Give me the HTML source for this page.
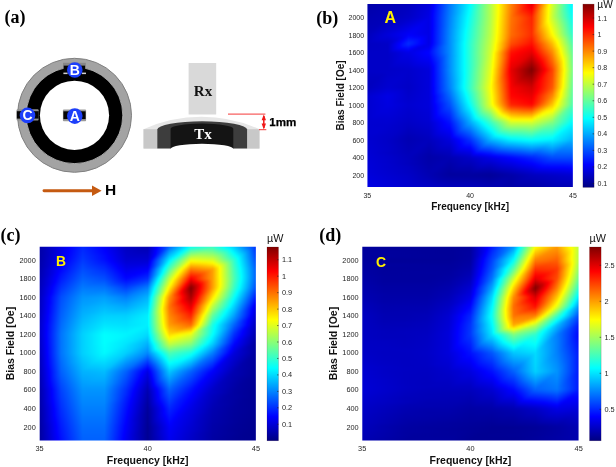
<!DOCTYPE html>
<html><head><meta charset="utf-8"><title>Figure</title>
<style>html,body{margin:0;padding:0;background:#fff;}body{width:616px;height:467px;overflow:hidden;}svg{display:block;will-change:transform;}text{font-family:"Liberation Sans",sans-serif;}.tk{fill:#262626;}.al{font-weight:bold;fill:#111;}.un{fill:#111;}.pl{font-family:"Liberation Serif",serif;font-size:18px;font-weight:bold;fill:#000;}.la{font-size:16px;font-weight:bold;fill:#fff000;}.lb{font-size:15px;font-weight:bold;fill:#fff000;}.sl{font-size:14px;font-weight:bold;fill:#fff;}.hh{font-size:15.5px;font-weight:bold;fill:#000;}.rx{font-family:"Liberation Serif",serif;font-size:15px;font-weight:bold;}.mm{font-size:11.6px;font-weight:bold;fill:#000;stroke:#000;stroke-width:.25px;}</style></head>
<body>
<svg width="616" height="467" viewBox="0 0 616 467">
<defs>
<linearGradient id="cbg" x1="0" y1="0" x2="0" y2="1"><stop offset="0" stop-color="#800000"/><stop offset="0.125" stop-color="#ff0000"/><stop offset="0.375" stop-color="#ffff00"/><stop offset="0.625" stop-color="#00ffff"/><stop offset="0.875" stop-color="#0000ff"/><stop offset="1" stop-color="#000080"/></linearGradient>
<filter id="vb" color-interpolation-filters="sRGB" x="-2%" y="-2%" width="104%" height="104%"><feGaussianBlur stdDeviation="0 1.2"/></filter>
<linearGradient id="a0"><stop offset="0" stop-color="#0000a8"/><stop offset=".2" stop-color="#0000bd"/><stop offset=".3" stop-color="#0000db"/><stop offset=".323" stop-color="#0000ff"/><stop offset=".4" stop-color="#0075ff"/><stop offset=".503" stop-color="#00ffff"/><stop offset=".6" stop-color="#b3ff4c"/><stop offset=".637" stop-color="#ffff00"/><stop offset=".7" stop-color="#ff8000"/><stop offset=".783" stop-color="#ff0000"/><stop offset=".8" stop-color="#e50000"/><stop offset=".808" stop-color="#ff0000"/><stop offset=".886" stop-color="#ffff00"/><stop offset=".9" stop-color="#d1ff2e"/><stop offset=".993" stop-color="#00ffff"/><stop offset="1" stop-color="#00f0ff"/></linearGradient>
<linearGradient id="a1"><stop offset="0" stop-color="#0000a8"/><stop offset=".2" stop-color="#0000bd"/><stop offset=".3" stop-color="#0000db"/><stop offset=".323" stop-color="#0000ff"/><stop offset=".4" stop-color="#0075ff"/><stop offset=".503" stop-color="#00ffff"/><stop offset=".6" stop-color="#b3ff4c"/><stop offset=".637" stop-color="#ffff00"/><stop offset=".7" stop-color="#ff8000"/><stop offset=".783" stop-color="#ff0000"/><stop offset=".8" stop-color="#e50000"/><stop offset=".808" stop-color="#ff0000"/><stop offset=".886" stop-color="#ffff00"/><stop offset=".9" stop-color="#d1ff2e"/><stop offset=".993" stop-color="#00ffff"/><stop offset="1" stop-color="#00f0ff"/></linearGradient>
<linearGradient id="a2"><stop offset="0" stop-color="#0000a8"/><stop offset=".2" stop-color="#0000bd"/><stop offset=".3" stop-color="#0000db"/><stop offset=".323" stop-color="#0000ff"/><stop offset=".4" stop-color="#0075ff"/><stop offset=".503" stop-color="#00ffff"/><stop offset=".6" stop-color="#b3ff4c"/><stop offset=".637" stop-color="#ffff00"/><stop offset=".7" stop-color="#ff8000"/><stop offset=".783" stop-color="#ff0000"/><stop offset=".8" stop-color="#e50000"/><stop offset=".808" stop-color="#ff0000"/><stop offset=".886" stop-color="#ffff00"/><stop offset=".9" stop-color="#d1ff2e"/><stop offset=".993" stop-color="#00ffff"/><stop offset="1" stop-color="#00f0ff"/></linearGradient>
<linearGradient id="a3"><stop offset="0" stop-color="#0000aa"/><stop offset=".2" stop-color="#0000be"/><stop offset=".3" stop-color="#0000dd"/><stop offset=".323" stop-color="#0000ff"/><stop offset=".4" stop-color="#0077ff"/><stop offset=".501" stop-color="#00ffff"/><stop offset=".6" stop-color="#b3ff4c"/><stop offset=".637" stop-color="#ffff00"/><stop offset=".7" stop-color="#ff7e00"/><stop offset=".783" stop-color="#ff0000"/><stop offset=".788" stop-color="#f70000"/><stop offset=".8" stop-color="#ed0000"/><stop offset=".805" stop-color="#ff0000"/><stop offset=".884" stop-color="#ffff00"/><stop offset=".9" stop-color="#d0ff2f"/><stop offset=".993" stop-color="#00ffff"/><stop offset="1" stop-color="#00f2ff"/></linearGradient>
<linearGradient id="a4"><stop offset="0" stop-color="#0000ab"/><stop offset=".172" stop-color="#0000bb"/><stop offset=".2" stop-color="#0000c0"/><stop offset=".3" stop-color="#0000de"/><stop offset=".321" stop-color="#0000ff"/><stop offset=".4" stop-color="#0078ff"/><stop offset=".472" stop-color="#00d8ff"/><stop offset=".5" stop-color="#01fffe"/><stop offset=".572" stop-color="#85ff7a"/><stop offset=".6" stop-color="#b3ff4c"/><stop offset=".637" stop-color="#ffff00"/><stop offset=".7" stop-color="#ff7d00"/><stop offset=".772" stop-color="#ff0e00"/><stop offset=".789" stop-color="#ff0000"/><stop offset=".8" stop-color="#f60000"/><stop offset=".803" stop-color="#ff0000"/><stop offset=".872" stop-color="#ffe400"/><stop offset=".882" stop-color="#ffff00"/><stop offset=".9" stop-color="#ceff31"/><stop offset=".972" stop-color="#2cffd3"/><stop offset=".995" stop-color="#00ffff"/><stop offset="1" stop-color="#00f5ff"/></linearGradient>
<linearGradient id="a5"><stop offset="0" stop-color="#0000ad"/><stop offset=".2" stop-color="#0000c1"/><stop offset=".3" stop-color="#0000e0"/><stop offset=".32" stop-color="#0000ff"/><stop offset=".4" stop-color="#007aff"/><stop offset=".457" stop-color="#00c5ff"/><stop offset=".497" stop-color="#00ffff"/><stop offset=".557" stop-color="#6dff92"/><stop offset=".6" stop-color="#b3ff4c"/><stop offset=".638" stop-color="#ffff00"/><stop offset=".7" stop-color="#ff7b00"/><stop offset=".757" stop-color="#ff2400"/><stop offset=".8" stop-color="#ff0100"/><stop offset=".857" stop-color="#ffbb00"/><stop offset=".882" stop-color="#ffff00"/><stop offset=".9" stop-color="#cdff32"/><stop offset=".957" stop-color="#4cffb3"/><stop offset=".997" stop-color="#00ffff"/><stop offset="1" stop-color="#00f8ff"/></linearGradient>
<linearGradient id="a6"><stop offset="0" stop-color="#0000ae"/><stop offset=".142" stop-color="#0000ba"/><stop offset=".2" stop-color="#0000c3"/><stop offset=".3" stop-color="#0000e1"/><stop offset=".319" stop-color="#0000ff"/><stop offset=".4" stop-color="#007bff"/><stop offset=".442" stop-color="#00b3ff"/><stop offset=".495" stop-color="#00ffff"/><stop offset=".542" stop-color="#54ffab"/><stop offset=".6" stop-color="#b3ff4c"/><stop offset=".637" stop-color="#ffff00"/><stop offset=".7" stop-color="#ff7a00"/><stop offset=".742" stop-color="#ff3900"/><stop offset=".8" stop-color="#ff0a00"/><stop offset=".842" stop-color="#ff9300"/><stop offset=".881" stop-color="#ffff00"/><stop offset=".9" stop-color="#cbff34"/><stop offset=".942" stop-color="#6dff92"/><stop offset=".998" stop-color="#00ffff"/><stop offset="1" stop-color="#00fcff"/></linearGradient>
<linearGradient id="a7"><stop offset="0" stop-color="#0000b0"/><stop offset=".127" stop-color="#0000b9"/><stop offset=".2" stop-color="#0000c4"/><stop offset=".3" stop-color="#0000e3"/><stop offset=".318" stop-color="#0000ff"/><stop offset=".4" stop-color="#007dff"/><stop offset=".427" stop-color="#00a0ff"/><stop offset=".493" stop-color="#00ffff"/><stop offset=".5" stop-color="#0afff5"/><stop offset=".527" stop-color="#3bffc4"/><stop offset=".6" stop-color="#b3ff4c"/><stop offset=".637" stop-color="#ffff00"/><stop offset=".7" stop-color="#ff7800"/><stop offset=".727" stop-color="#ff4f00"/><stop offset=".8" stop-color="#ff1300"/><stop offset=".827" stop-color="#ff6a00"/><stop offset=".881" stop-color="#ffff00"/><stop offset=".9" stop-color="#caff35"/><stop offset=".927" stop-color="#8eff71"/><stop offset="1" stop-color="#00ffff"/></linearGradient>
<linearGradient id="a8"><stop offset="0" stop-color="#0000b1"/><stop offset=".111" stop-color="#0000b8"/><stop offset=".211" stop-color="#0000c9"/><stop offset=".3" stop-color="#0000e4"/><stop offset=".317" stop-color="#0000ff"/><stop offset=".4" stop-color="#007eff"/><stop offset=".491" stop-color="#00ffff"/><stop offset=".5" stop-color="#0dfff2"/><stop offset=".511" stop-color="#22ffdd"/><stop offset=".6" stop-color="#b3ff4c"/><stop offset=".636" stop-color="#ffff00"/><stop offset=".7" stop-color="#ff7600"/><stop offset=".711" stop-color="#ff6500"/><stop offset=".8" stop-color="#ff1d00"/><stop offset=".811" stop-color="#ff4200"/><stop offset=".88" stop-color="#ffff00"/><stop offset=".9" stop-color="#c8ff37"/><stop offset=".911" stop-color="#aeff51"/><stop offset="1" stop-color="#03fffc"/></linearGradient>
<linearGradient id="a9"><stop offset="0" stop-color="#0000b3"/><stop offset=".1" stop-color="#0000b9"/><stop offset=".2" stop-color="#0000c8"/><stop offset=".3" stop-color="#0000e6"/><stop offset=".317" stop-color="#0000ff"/><stop offset=".4" stop-color="#0080ff"/><stop offset=".489" stop-color="#00ffff"/><stop offset=".6" stop-color="#b3ff4c"/><stop offset=".636" stop-color="#ffff00"/><stop offset=".7" stop-color="#ff7500"/><stop offset=".8" stop-color="#ff2400"/><stop offset=".88" stop-color="#ffff00"/><stop offset=".9" stop-color="#c9ff36"/><stop offset="1" stop-color="#06fff9"/></linearGradient>
<linearGradient id="a10"><stop offset="0" stop-color="#0000b4"/><stop offset=".086" stop-color="#0000b8"/><stop offset=".1" stop-color="#0000bd"/><stop offset=".2" stop-color="#0000ce"/><stop offset=".286" stop-color="#0000e8"/><stop offset=".3" stop-color="#0000e6"/><stop offset=".317" stop-color="#0000ff"/><stop offset=".4" stop-color="#0081ff"/><stop offset=".488" stop-color="#00ffff"/><stop offset=".6" stop-color="#b4ff4b"/><stop offset=".635" stop-color="#ffff00"/><stop offset=".7" stop-color="#ff7400"/><stop offset=".786" stop-color="#ff2e00"/><stop offset=".8" stop-color="#ff2500"/><stop offset=".879" stop-color="#ffff00"/><stop offset=".886" stop-color="#edff12"/><stop offset=".986" stop-color="#2affd5"/><stop offset="1" stop-color="#0bfff4"/></linearGradient>
<linearGradient id="a11"><stop offset="0" stop-color="#0000b5"/><stop offset=".074" stop-color="#0000b9"/><stop offset=".1" stop-color="#0000c1"/><stop offset=".174" stop-color="#0000cc"/><stop offset=".274" stop-color="#0000eb"/><stop offset=".3" stop-color="#0000e6"/><stop offset=".317" stop-color="#0000ff"/><stop offset=".4" stop-color="#0082ff"/><stop offset=".487" stop-color="#00ffff"/><stop offset=".574" stop-color="#8eff71"/><stop offset=".6" stop-color="#b5ff4a"/><stop offset=".634" stop-color="#ffff00"/><stop offset=".7" stop-color="#ff7300"/><stop offset=".774" stop-color="#ff3600"/><stop offset=".8" stop-color="#ff2600"/><stop offset=".874" stop-color="#fff300"/><stop offset=".88" stop-color="#ffff00"/><stop offset=".974" stop-color="#47ffb8"/><stop offset="1" stop-color="#10ffef"/></linearGradient>
<linearGradient id="a12"><stop offset="0" stop-color="#0000b6"/><stop offset=".063" stop-color="#0000b9"/><stop offset=".1" stop-color="#0000c5"/><stop offset=".163" stop-color="#0000ce"/><stop offset=".263" stop-color="#0000ed"/><stop offset=".3" stop-color="#0000e6"/><stop offset=".317" stop-color="#0000ff"/><stop offset=".4" stop-color="#0083ff"/><stop offset=".485" stop-color="#00ffff"/><stop offset=".6" stop-color="#b6ff49"/><stop offset=".634" stop-color="#ffff00"/><stop offset=".7" stop-color="#ff7200"/><stop offset=".763" stop-color="#ff3e00"/><stop offset=".8" stop-color="#ff2700"/><stop offset=".863" stop-color="#ffd500"/><stop offset=".884" stop-color="#ffff00"/><stop offset=".963" stop-color="#64ff9b"/><stop offset="1" stop-color="#14ffeb"/></linearGradient>
<linearGradient id="a13"><stop offset="0" stop-color="#0000b7"/><stop offset=".051" stop-color="#0000ba"/><stop offset=".1" stop-color="#0000c9"/><stop offset=".151" stop-color="#0000d1"/><stop offset=".251" stop-color="#0000ef"/><stop offset=".3" stop-color="#0000e6"/><stop offset=".317" stop-color="#0000ff"/><stop offset=".351" stop-color="#0035ff"/><stop offset=".4" stop-color="#0084ff"/><stop offset=".484" stop-color="#00ffff"/><stop offset=".551" stop-color="#6dff92"/><stop offset=".6" stop-color="#b7ff48"/><stop offset=".633" stop-color="#ffff00"/><stop offset=".7" stop-color="#ff7000"/><stop offset=".751" stop-color="#ff4600"/><stop offset=".8" stop-color="#ff2900"/><stop offset=".851" stop-color="#ffb600"/><stop offset=".887" stop-color="#ffff00"/><stop offset=".951" stop-color="#81ff7e"/><stop offset="1" stop-color="#19ffe6"/></linearGradient>
<linearGradient id="a14"><stop offset="0" stop-color="#0000b9"/><stop offset=".04" stop-color="#0000bb"/><stop offset=".1" stop-color="#0000cd"/><stop offset=".14" stop-color="#0000d3"/><stop offset=".24" stop-color="#0000f2"/><stop offset=".3" stop-color="#0000e6"/><stop offset=".317" stop-color="#0000ff"/><stop offset=".4" stop-color="#0086ff"/><stop offset=".44" stop-color="#00bfff"/><stop offset=".482" stop-color="#00ffff"/><stop offset=".54" stop-color="#5dffa2"/><stop offset=".6" stop-color="#b9ff46"/><stop offset=".633" stop-color="#ffff00"/><stop offset=".7" stop-color="#ff6f00"/><stop offset=".74" stop-color="#ff4f00"/><stop offset=".8" stop-color="#ff2a00"/><stop offset=".84" stop-color="#ff9800"/><stop offset=".891" stop-color="#ffff00"/><stop offset=".94" stop-color="#9eff61"/><stop offset="1" stop-color="#1effe1"/></linearGradient>
<linearGradient id="a15"><stop offset="0" stop-color="#0000ba"/><stop offset=".029" stop-color="#0000bb"/><stop offset=".1" stop-color="#0000d1"/><stop offset=".129" stop-color="#0000d5"/><stop offset=".229" stop-color="#0000f4"/><stop offset=".3" stop-color="#0000e6"/><stop offset=".317" stop-color="#0000ff"/><stop offset=".4" stop-color="#0087ff"/><stop offset=".48" stop-color="#00ffff"/><stop offset=".529" stop-color="#4dffb2"/><stop offset=".6" stop-color="#baff45"/><stop offset=".632" stop-color="#ffff00"/><stop offset=".7" stop-color="#ff6e00"/><stop offset=".729" stop-color="#ff5700"/><stop offset=".8" stop-color="#ff2b00"/><stop offset=".829" stop-color="#ff7a00"/><stop offset=".894" stop-color="#ffff00"/><stop offset=".929" stop-color="#bbff44"/><stop offset="1" stop-color="#22ffdd"/></linearGradient>
<linearGradient id="a16"><stop offset="0" stop-color="#0000bb"/><stop offset=".017" stop-color="#0000bc"/><stop offset=".217" stop-color="#0000f6"/><stop offset=".3" stop-color="#0000e6"/><stop offset=".317" stop-color="#0001ff"/><stop offset=".4" stop-color="#0088ff"/><stop offset=".479" stop-color="#00ffff"/><stop offset=".6" stop-color="#bbff44"/><stop offset=".632" stop-color="#ffff00"/><stop offset=".7" stop-color="#ff6d00"/><stop offset=".717" stop-color="#ff5f00"/><stop offset=".8" stop-color="#ff2c00"/><stop offset=".817" stop-color="#ff5b00"/><stop offset=".897" stop-color="#ffff00"/><stop offset=".917" stop-color="#d8ff27"/><stop offset="1" stop-color="#27ffd8"/></linearGradient>
<linearGradient id="a17"><stop offset="0" stop-color="#0000bc"/><stop offset=".206" stop-color="#0000f9"/><stop offset=".3" stop-color="#0000e6"/><stop offset=".316" stop-color="#0000ff"/><stop offset=".406" stop-color="#0091ff"/><stop offset=".477" stop-color="#00ffff"/><stop offset=".6" stop-color="#bcff43"/><stop offset=".631" stop-color="#ffff00"/><stop offset=".7" stop-color="#ff6c00"/><stop offset=".8" stop-color="#ff2d00"/><stop offset=".806" stop-color="#ff3d00"/><stop offset=".901" stop-color="#ffff00"/><stop offset="1" stop-color="#2cffd3"/></linearGradient>
<linearGradient id="a18"><stop offset="0" stop-color="#0000bd"/><stop offset=".089" stop-color="#0000d8"/><stop offset=".1" stop-color="#0000d9"/><stop offset=".189" stop-color="#0000f4"/><stop offset=".2" stop-color="#0001ff"/><stop offset=".289" stop-color="#0000ee"/><stop offset=".3" stop-color="#0000e6"/><stop offset=".316" stop-color="#0000ff"/><stop offset=".4" stop-color="#008aff"/><stop offset=".477" stop-color="#00ffff"/><stop offset=".6" stop-color="#beff41"/><stop offset=".63" stop-color="#ffff00"/><stop offset=".7" stop-color="#ff6800"/><stop offset=".8" stop-color="#ff2a00"/><stop offset=".889" stop-color="#ffdf00"/><stop offset=".906" stop-color="#ffff00"/><stop offset=".989" stop-color="#4dffb2"/><stop offset="1" stop-color="#31ffce"/></linearGradient>
<linearGradient id="a19"><stop offset="0" stop-color="#0000be"/><stop offset=".066" stop-color="#0000d3"/><stop offset=".1" stop-color="#0000d4"/><stop offset=".166" stop-color="#0000e8"/><stop offset=".188" stop-color="#0000ff"/><stop offset=".2" stop-color="#000cff"/><stop offset=".266" stop-color="#0000fe"/><stop offset=".3" stop-color="#0000e6"/><stop offset=".316" stop-color="#0000ff"/><stop offset=".4" stop-color="#008aff"/><stop offset=".476" stop-color="#00ffff"/><stop offset=".6" stop-color="#c0ff3f"/><stop offset=".629" stop-color="#ffff00"/><stop offset=".666" stop-color="#ffb100"/><stop offset=".7" stop-color="#ff6100"/><stop offset=".8" stop-color="#ff2300"/><stop offset=".866" stop-color="#ffa900"/><stop offset=".9" stop-color="#ffe500"/><stop offset=".912" stop-color="#ffff00"/><stop offset=".966" stop-color="#8cff73"/><stop offset="1" stop-color="#38ffc7"/></linearGradient>
<linearGradient id="a20"><stop offset="0" stop-color="#0000c0"/><stop offset=".043" stop-color="#0000cd"/><stop offset=".1" stop-color="#0000d0"/><stop offset=".143" stop-color="#0000dd"/><stop offset=".176" stop-color="#0000ff"/><stop offset=".2" stop-color="#0018ff"/><stop offset=".243" stop-color="#000fff"/><stop offset=".264" stop-color="#0000ff"/><stop offset=".3" stop-color="#0000e6"/><stop offset=".316" stop-color="#0000ff"/><stop offset=".4" stop-color="#008aff"/><stop offset=".443" stop-color="#00cbff"/><stop offset=".475" stop-color="#00ffff"/><stop offset=".5" stop-color="#2affd5"/><stop offset=".6" stop-color="#c3ff3c"/><stop offset=".628" stop-color="#ffff00"/><stop offset=".643" stop-color="#ffe000"/><stop offset=".7" stop-color="#ff5a00"/><stop offset=".8" stop-color="#ff1c00"/><stop offset=".843" stop-color="#ff7400"/><stop offset=".9" stop-color="#ffd700"/><stop offset=".919" stop-color="#ffff00"/><stop offset=".943" stop-color="#cbff34"/><stop offset="1" stop-color="#3fffc0"/></linearGradient>
<linearGradient id="a21"><stop offset="0" stop-color="#0000c1"/><stop offset=".02" stop-color="#0000c7"/><stop offset=".1" stop-color="#0000cb"/><stop offset=".12" stop-color="#0000d1"/><stop offset=".165" stop-color="#0000ff"/><stop offset=".2" stop-color="#0024ff"/><stop offset=".22" stop-color="#0020ff"/><stop offset=".264" stop-color="#0000ff"/><stop offset=".3" stop-color="#0000e6"/><stop offset=".316" stop-color="#0000ff"/><stop offset=".4" stop-color="#008aff"/><stop offset=".42" stop-color="#00a8ff"/><stop offset=".473" stop-color="#00ffff"/><stop offset=".6" stop-color="#c5ff3a"/><stop offset=".627" stop-color="#ffff00"/><stop offset=".7" stop-color="#ff5300"/><stop offset=".8" stop-color="#ff1500"/><stop offset=".82" stop-color="#ff3e00"/><stop offset=".9" stop-color="#ffc900"/><stop offset=".925" stop-color="#ffff00"/><stop offset="1" stop-color="#46ffb9"/></linearGradient>
<linearGradient id="a22"><stop offset="0" stop-color="#0000c2"/><stop offset=".1" stop-color="#0000c7"/><stop offset=".156" stop-color="#0000ff"/><stop offset=".2" stop-color="#002cff"/><stop offset=".264" stop-color="#0000ff"/><stop offset=".3" stop-color="#0000e6"/><stop offset=".315" stop-color="#0000ff"/><stop offset=".472" stop-color="#00ffff"/><stop offset=".5" stop-color="#2effd1"/><stop offset=".6" stop-color="#c7ff38"/><stop offset=".624" stop-color="#ffff00"/><stop offset=".7" stop-color="#ff4b00"/><stop offset=".8" stop-color="#ff0e00"/><stop offset=".9" stop-color="#ffbb00"/><stop offset=".928" stop-color="#ffff00"/><stop offset="1" stop-color="#4dffb2"/></linearGradient>
<linearGradient id="a23"><stop offset="0" stop-color="#0000c3"/><stop offset=".1" stop-color="#0000c7"/><stop offset=".155" stop-color="#0000ff"/><stop offset=".174" stop-color="#0014ff"/><stop offset=".2" stop-color="#001cff"/><stop offset=".239" stop-color="#0000ff"/><stop offset=".274" stop-color="#0000e6"/><stop offset=".3" stop-color="#0000ed"/><stop offset=".311" stop-color="#0000ff"/><stop offset=".374" stop-color="#0068ff"/><stop offset=".4" stop-color="#008aff"/><stop offset=".472" stop-color="#00ffff"/><stop offset=".5" stop-color="#2effd1"/><stop offset=".6" stop-color="#caff35"/><stop offset=".623" stop-color="#ffff00"/><stop offset=".674" stop-color="#ff8600"/><stop offset=".7" stop-color="#ff3d00"/><stop offset=".774" stop-color="#ff0f00"/><stop offset=".8" stop-color="#ff0500"/><stop offset=".9" stop-color="#ffb000"/><stop offset=".932" stop-color="#ffff00"/><stop offset=".974" stop-color="#99ff66"/><stop offset="1" stop-color="#52ffad"/></linearGradient>
<linearGradient id="a24"><stop offset="0" stop-color="#0000c4"/><stop offset=".1" stop-color="#0000c7"/><stop offset=".151" stop-color="#0000fb"/><stop offset=".163" stop-color="#0000ff"/><stop offset=".2" stop-color="#000bff"/><stop offset=".216" stop-color="#0000ff"/><stop offset=".251" stop-color="#0000e6"/><stop offset=".3" stop-color="#0000f4"/><stop offset=".307" stop-color="#0000ff"/><stop offset=".351" stop-color="#0049ff"/><stop offset=".4" stop-color="#008aff"/><stop offset=".472" stop-color="#00ffff"/><stop offset=".6" stop-color="#ccff33"/><stop offset=".622" stop-color="#ffff00"/><stop offset=".651" stop-color="#ffb900"/><stop offset=".7" stop-color="#ff2f00"/><stop offset=".751" stop-color="#ff0f00"/><stop offset=".789" stop-color="#ff0000"/><stop offset=".8" stop-color="#fa0000"/><stop offset=".803" stop-color="#ff0000"/><stop offset=".851" stop-color="#ff5500"/><stop offset=".9" stop-color="#ffa400"/><stop offset=".937" stop-color="#ffff00"/><stop offset=".951" stop-color="#dcff23"/><stop offset="1" stop-color="#56ffa9"/></linearGradient>
<linearGradient id="a25"><stop offset="0" stop-color="#0000c5"/><stop offset=".1" stop-color="#0000c7"/><stop offset=".129" stop-color="#0000e4"/><stop offset=".2" stop-color="#0000fa"/><stop offset=".229" stop-color="#0000e6"/><stop offset=".3" stop-color="#0000fb"/><stop offset=".302" stop-color="#0000ff"/><stop offset=".329" stop-color="#002bff"/><stop offset=".4" stop-color="#008aff"/><stop offset=".472" stop-color="#00ffff"/><stop offset=".6" stop-color="#ceff31"/><stop offset=".621" stop-color="#ffff00"/><stop offset=".629" stop-color="#ffed00"/><stop offset=".7" stop-color="#ff2100"/><stop offset=".729" stop-color="#ff0f00"/><stop offset=".766" stop-color="#ff0000"/><stop offset=".8" stop-color="#f10000"/><stop offset=".808" stop-color="#ff0000"/><stop offset=".9" stop-color="#ff9800"/><stop offset=".929" stop-color="#ffde00"/><stop offset=".94" stop-color="#ffff00"/><stop offset="1" stop-color="#5bffa4"/></linearGradient>
<linearGradient id="a26"><stop offset="0" stop-color="#0000c7"/><stop offset=".1" stop-color="#0000c7"/><stop offset=".106" stop-color="#0000cd"/><stop offset=".2" stop-color="#0000ea"/><stop offset=".206" stop-color="#0000e6"/><stop offset=".289" stop-color="#0000ff"/><stop offset=".3" stop-color="#0003ff"/><stop offset=".306" stop-color="#000dff"/><stop offset=".406" stop-color="#0093ff"/><stop offset=".472" stop-color="#00ffff"/><stop offset=".6" stop-color="#d1ff2e"/><stop offset=".606" stop-color="#deff21"/><stop offset=".617" stop-color="#ffff00"/><stop offset=".7" stop-color="#ff1300"/><stop offset=".743" stop-color="#ff0000"/><stop offset=".8" stop-color="#e80000"/><stop offset=".814" stop-color="#ff0000"/><stop offset=".9" stop-color="#ff8d00"/><stop offset=".942" stop-color="#ffff00"/><stop offset="1" stop-color="#60ff9f"/></linearGradient>
<linearGradient id="a27"><stop offset="0" stop-color="#0000c7"/><stop offset=".1" stop-color="#0000c7"/><stop offset=".191" stop-color="#0000e3"/><stop offset=".2" stop-color="#0000e3"/><stop offset=".291" stop-color="#0000ff"/><stop offset=".3" stop-color="#0002ff"/><stop offset=".391" stop-color="#007bff"/><stop offset=".472" stop-color="#00ffff"/><stop offset=".6" stop-color="#d3ff2c"/><stop offset=".615" stop-color="#ffff00"/><stop offset=".7" stop-color="#ff0c00"/><stop offset=".729" stop-color="#ff0000"/><stop offset=".791" stop-color="#e50000"/><stop offset=".8" stop-color="#dd0000"/><stop offset=".821" stop-color="#ff0000"/><stop offset=".891" stop-color="#ff7300"/><stop offset=".9" stop-color="#ff8400"/><stop offset=".945" stop-color="#ffff00"/><stop offset=".991" stop-color="#7fff80"/><stop offset="1" stop-color="#63ff9c"/></linearGradient>
<linearGradient id="a28"><stop offset="0" stop-color="#0000c7"/><stop offset=".1" stop-color="#0000c7"/><stop offset=".18" stop-color="#0000df"/><stop offset=".2" stop-color="#0000e0"/><stop offset=".28" stop-color="#0000f9"/><stop offset=".3" stop-color="#0000fc"/><stop offset=".302" stop-color="#0000ff"/><stop offset=".38" stop-color="#0067ff"/><stop offset=".472" stop-color="#00ffff"/><stop offset=".58" stop-color="#b0ff4f"/><stop offset=".6" stop-color="#d5ff2a"/><stop offset=".615" stop-color="#ffff00"/><stop offset=".68" stop-color="#ff4400"/><stop offset=".7" stop-color="#ff0700"/><stop offset=".717" stop-color="#ff0000"/><stop offset=".78" stop-color="#e50000"/><stop offset=".8" stop-color="#d10000"/><stop offset=".828" stop-color="#ff0000"/><stop offset=".88" stop-color="#ff5500"/><stop offset=".9" stop-color="#ff7b00"/><stop offset=".948" stop-color="#ffff00"/><stop offset=".98" stop-color="#a6ff59"/><stop offset="1" stop-color="#65ff9a"/></linearGradient>
<linearGradient id="a29"><stop offset="0" stop-color="#0000c7"/><stop offset=".1" stop-color="#0000c7"/><stop offset=".169" stop-color="#0000dc"/><stop offset=".2" stop-color="#0000dd"/><stop offset=".269" stop-color="#0000f2"/><stop offset=".3" stop-color="#0000f7"/><stop offset=".306" stop-color="#0000ff"/><stop offset=".369" stop-color="#0053ff"/><stop offset=".4" stop-color="#008aff"/><stop offset=".472" stop-color="#00ffff"/><stop offset=".569" stop-color="#9eff61"/><stop offset=".6" stop-color="#d8ff27"/><stop offset=".614" stop-color="#ffff00"/><stop offset=".669" stop-color="#ff6300"/><stop offset=".7" stop-color="#ff0200"/><stop offset=".706" stop-color="#ff0000"/><stop offset=".769" stop-color="#e50000"/><stop offset=".8" stop-color="#c50000"/><stop offset=".835" stop-color="#ff0000"/><stop offset=".869" stop-color="#ff3600"/><stop offset=".9" stop-color="#ff7300"/><stop offset=".951" stop-color="#ffff00"/><stop offset=".969" stop-color="#ceff31"/><stop offset="1" stop-color="#67ff98"/></linearGradient>
<linearGradient id="a30"><stop offset="0" stop-color="#0000c7"/><stop offset=".1" stop-color="#0000c7"/><stop offset=".157" stop-color="#0000d8"/><stop offset=".2" stop-color="#0000db"/><stop offset=".257" stop-color="#0000ec"/><stop offset=".3" stop-color="#0000f3"/><stop offset=".309" stop-color="#0000ff"/><stop offset=".357" stop-color="#003fff"/><stop offset=".4" stop-color="#008aff"/><stop offset=".472" stop-color="#00ffff"/><stop offset=".557" stop-color="#8bff74"/><stop offset=".6" stop-color="#daff25"/><stop offset=".613" stop-color="#ffff00"/><stop offset=".657" stop-color="#ff8100"/><stop offset=".699" stop-color="#ff0000"/><stop offset=".757" stop-color="#e50000"/><stop offset=".8" stop-color="#ba0000"/><stop offset=".842" stop-color="#ff0000"/><stop offset=".857" stop-color="#ff1800"/><stop offset=".9" stop-color="#ff6b00"/><stop offset=".954" stop-color="#ffff00"/><stop offset=".957" stop-color="#f6ff09"/><stop offset="1" stop-color="#6aff95"/></linearGradient>
<linearGradient id="a31"><stop offset="0" stop-color="#0000c7"/><stop offset=".1" stop-color="#0000c7"/><stop offset=".146" stop-color="#0000d5"/><stop offset=".2" stop-color="#0000d8"/><stop offset=".246" stop-color="#0000e6"/><stop offset=".3" stop-color="#0000ee"/><stop offset=".313" stop-color="#0000ff"/><stop offset=".346" stop-color="#002cff"/><stop offset=".4" stop-color="#008aff"/><stop offset=".472" stop-color="#00ffff"/><stop offset=".546" stop-color="#79ff86"/><stop offset=".6" stop-color="#dcff23"/><stop offset=".612" stop-color="#ffff00"/><stop offset=".646" stop-color="#ff9f00"/><stop offset=".698" stop-color="#ff0000"/><stop offset=".7" stop-color="#f80000"/><stop offset=".746" stop-color="#e50000"/><stop offset=".8" stop-color="#ae0000"/><stop offset=".849" stop-color="#ff0000"/><stop offset=".9" stop-color="#ff6300"/><stop offset=".946" stop-color="#ffe100"/><stop offset=".955" stop-color="#ffff00"/><stop offset="1" stop-color="#6cff93"/></linearGradient>
<linearGradient id="a32"><stop offset="0" stop-color="#0000c7"/><stop offset=".1" stop-color="#0000c7"/><stop offset=".134" stop-color="#0000d1"/><stop offset=".2" stop-color="#0000d5"/><stop offset=".234" stop-color="#0000df"/><stop offset=".3" stop-color="#0000e9"/><stop offset=".316" stop-color="#0000ff"/><stop offset=".334" stop-color="#0018ff"/><stop offset=".4" stop-color="#008aff"/><stop offset=".472" stop-color="#00ffff"/><stop offset=".534" stop-color="#66ff99"/><stop offset=".6" stop-color="#dfff20"/><stop offset=".611" stop-color="#ffff00"/><stop offset=".634" stop-color="#ffbe00"/><stop offset=".696" stop-color="#ff0000"/><stop offset=".7" stop-color="#f30000"/><stop offset=".734" stop-color="#e50000"/><stop offset=".8" stop-color="#a20000"/><stop offset=".834" stop-color="#da0000"/><stop offset=".853" stop-color="#ff0000"/><stop offset=".9" stop-color="#ff5b00"/><stop offset=".934" stop-color="#ffb900"/><stop offset=".956" stop-color="#ffff00"/><stop offset="1" stop-color="#6eff91"/></linearGradient>
<linearGradient id="a33"><stop offset="0" stop-color="#0000c7"/><stop offset=".1" stop-color="#0000c7"/><stop offset=".123" stop-color="#0000ce"/><stop offset=".2" stop-color="#0000d2"/><stop offset=".223" stop-color="#0000d9"/><stop offset=".3" stop-color="#0000e5"/><stop offset=".32" stop-color="#0000ff"/><stop offset=".423" stop-color="#00afff"/><stop offset=".472" stop-color="#00ffff"/><stop offset=".523" stop-color="#53ffac"/><stop offset=".6" stop-color="#e1ff1e"/><stop offset=".611" stop-color="#ffff00"/><stop offset=".623" stop-color="#ffdc00"/><stop offset=".695" stop-color="#ff0000"/><stop offset=".7" stop-color="#ef0000"/><stop offset=".723" stop-color="#e50000"/><stop offset=".8" stop-color="#970000"/><stop offset=".823" stop-color="#bc0000"/><stop offset=".857" stop-color="#ff0000"/><stop offset=".9" stop-color="#ff5300"/><stop offset=".923" stop-color="#ff9200"/><stop offset=".956" stop-color="#ffff00"/><stop offset="1" stop-color="#71ff8e"/></linearGradient>
<linearGradient id="a34"><stop offset="0" stop-color="#0000c7"/><stop offset=".1" stop-color="#0000c7"/><stop offset=".111" stop-color="#0000ca"/><stop offset=".2" stop-color="#0000cf"/><stop offset=".3" stop-color="#0000e0"/><stop offset=".311" stop-color="#0000ef"/><stop offset=".321" stop-color="#0000ff"/><stop offset=".411" stop-color="#009cff"/><stop offset=".472" stop-color="#00ffff"/><stop offset=".511" stop-color="#41ffbe"/><stop offset=".6" stop-color="#e3ff1c"/><stop offset=".61" stop-color="#ffff00"/><stop offset=".693" stop-color="#ff0000"/><stop offset=".7" stop-color="#ea0000"/><stop offset=".711" stop-color="#e50000"/><stop offset=".8" stop-color="#8b0000"/><stop offset=".811" stop-color="#9e0000"/><stop offset=".862" stop-color="#ff0000"/><stop offset=".9" stop-color="#ff4a00"/><stop offset=".911" stop-color="#ff6a00"/><stop offset=".957" stop-color="#ffff00"/><stop offset="1" stop-color="#73ff8c"/></linearGradient>
<linearGradient id="a35"><stop offset="0" stop-color="#0000c7"/><stop offset=".1" stop-color="#0000c7"/><stop offset=".2" stop-color="#0000cc"/><stop offset=".3" stop-color="#0000db"/><stop offset=".321" stop-color="#0000ff"/><stop offset=".4" stop-color="#008aff"/><stop offset=".472" stop-color="#00ffff"/><stop offset=".5" stop-color="#2effd1"/><stop offset=".6" stop-color="#e5ff1a"/><stop offset=".608" stop-color="#ffff00"/><stop offset=".692" stop-color="#ff0000"/><stop offset=".7" stop-color="#e50000"/><stop offset=".8" stop-color="#800000"/><stop offset=".866" stop-color="#ff0000"/><stop offset=".9" stop-color="#ff4200"/><stop offset=".958" stop-color="#ffff00"/><stop offset="1" stop-color="#75ff8a"/></linearGradient>
<linearGradient id="a36"><stop offset="0" stop-color="#0000c6"/><stop offset=".189" stop-color="#0000cd"/><stop offset=".2" stop-color="#0000cb"/><stop offset=".3" stop-color="#0000db"/><stop offset=".321" stop-color="#0000ff"/><stop offset=".4" stop-color="#0089ff"/><stop offset=".473" stop-color="#00ffff"/><stop offset=".5" stop-color="#2fffd0"/><stop offset=".6" stop-color="#e8ff17"/><stop offset=".608" stop-color="#ffff00"/><stop offset=".691" stop-color="#ff0000"/><stop offset=".7" stop-color="#e80000"/><stop offset=".789" stop-color="#8d0000"/><stop offset=".8" stop-color="#890000"/><stop offset=".861" stop-color="#ff0000"/><stop offset=".889" stop-color="#ff3500"/><stop offset=".9" stop-color="#ff4500"/><stop offset=".957" stop-color="#ffff00"/><stop offset="1" stop-color="#73ff8c"/></linearGradient>
<linearGradient id="a37"><stop offset="0" stop-color="#0000c5"/><stop offset=".077" stop-color="#0000c5"/><stop offset=".1" stop-color="#0000c9"/><stop offset=".177" stop-color="#0000cd"/><stop offset=".2" stop-color="#0000cb"/><stop offset=".3" stop-color="#0000db"/><stop offset=".321" stop-color="#0000ff"/><stop offset=".4" stop-color="#0087ff"/><stop offset=".473" stop-color="#00ffff"/><stop offset=".6" stop-color="#eaff15"/><stop offset=".607" stop-color="#ffff00"/><stop offset=".677" stop-color="#ff2800"/><stop offset=".692" stop-color="#ff0000"/><stop offset=".7" stop-color="#ea0000"/><stop offset=".777" stop-color="#9b0000"/><stop offset=".8" stop-color="#920000"/><stop offset=".856" stop-color="#ff0000"/><stop offset=".877" stop-color="#ff2900"/><stop offset=".9" stop-color="#ff4700"/><stop offset=".956" stop-color="#ffff00"/><stop offset="1" stop-color="#71ff8e"/></linearGradient>
<linearGradient id="a38"><stop offset="0" stop-color="#0000c3"/><stop offset=".066" stop-color="#0000c3"/><stop offset=".1" stop-color="#0000ca"/><stop offset=".166" stop-color="#0000ce"/><stop offset=".2" stop-color="#0000ca"/><stop offset=".3" stop-color="#0000db"/><stop offset=".321" stop-color="#0000ff"/><stop offset=".4" stop-color="#0086ff"/><stop offset=".473" stop-color="#00ffff"/><stop offset=".566" stop-color="#aaff55"/><stop offset=".6" stop-color="#ecff13"/><stop offset=".606" stop-color="#ffff00"/><stop offset=".666" stop-color="#ff4800"/><stop offset=".693" stop-color="#ff0000"/><stop offset=".7" stop-color="#ec0000"/><stop offset=".766" stop-color="#a90000"/><stop offset=".8" stop-color="#9b0000"/><stop offset=".851" stop-color="#ff0000"/><stop offset=".866" stop-color="#ff1c00"/><stop offset=".9" stop-color="#ff4900"/><stop offset=".956" stop-color="#ffff00"/><stop offset="1" stop-color="#6eff91"/></linearGradient>
<linearGradient id="a39"><stop offset="0" stop-color="#0000c2"/><stop offset=".054" stop-color="#0000c2"/><stop offset=".1" stop-color="#0000cc"/><stop offset=".154" stop-color="#0000ce"/><stop offset=".2" stop-color="#0000ca"/><stop offset=".3" stop-color="#0000db"/><stop offset=".321" stop-color="#0000ff"/><stop offset=".454" stop-color="#00deff"/><stop offset=".472" stop-color="#00ffff"/><stop offset=".554" stop-color="#96ff69"/><stop offset=".6" stop-color="#efff10"/><stop offset=".605" stop-color="#ffff00"/><stop offset=".654" stop-color="#ff6900"/><stop offset=".694" stop-color="#ff0000"/><stop offset=".7" stop-color="#ef0000"/><stop offset=".754" stop-color="#b70000"/><stop offset=".8" stop-color="#a50000"/><stop offset=".847" stop-color="#ff0000"/><stop offset=".854" stop-color="#ff0f00"/><stop offset=".9" stop-color="#ff4c00"/><stop offset=".955" stop-color="#ffff00"/><stop offset="1" stop-color="#6cff93"/></linearGradient>
<linearGradient id="a40"><stop offset="0" stop-color="#0000c1"/><stop offset=".043" stop-color="#0000c1"/><stop offset=".1" stop-color="#0000cd"/><stop offset=".143" stop-color="#0000cf"/><stop offset=".2" stop-color="#0000c9"/><stop offset=".3" stop-color="#0000db"/><stop offset=".321" stop-color="#0000ff"/><stop offset=".443" stop-color="#00caff"/><stop offset=".472" stop-color="#00ffff"/><stop offset=".543" stop-color="#82ff7d"/><stop offset=".6" stop-color="#f1ff0e"/><stop offset=".605" stop-color="#ffff00"/><stop offset=".643" stop-color="#ff8a00"/><stop offset=".695" stop-color="#ff0000"/><stop offset=".7" stop-color="#f10000"/><stop offset=".743" stop-color="#c50000"/><stop offset=".8" stop-color="#ae0000"/><stop offset=".842" stop-color="#ff0000"/><stop offset=".9" stop-color="#ff4e00"/><stop offset=".954" stop-color="#ffff00"/><stop offset="1" stop-color="#6aff95"/></linearGradient>
<linearGradient id="a41"><stop offset="0" stop-color="#0000c0"/><stop offset=".031" stop-color="#0000c0"/><stop offset=".1" stop-color="#0000ce"/><stop offset=".131" stop-color="#0000cf"/><stop offset=".2" stop-color="#0000c9"/><stop offset=".3" stop-color="#0000db"/><stop offset=".321" stop-color="#0000ff"/><stop offset=".431" stop-color="#00b6ff"/><stop offset=".471" stop-color="#00ffff"/><stop offset=".531" stop-color="#6fff90"/><stop offset=".6" stop-color="#f3ff0c"/><stop offset=".604" stop-color="#ffff00"/><stop offset=".631" stop-color="#ffaa00"/><stop offset=".696" stop-color="#ff0000"/><stop offset=".7" stop-color="#f30000"/><stop offset=".731" stop-color="#d30000"/><stop offset=".8" stop-color="#b70000"/><stop offset=".831" stop-color="#f40000"/><stop offset=".839" stop-color="#ff0000"/><stop offset=".9" stop-color="#ff5000"/><stop offset=".954" stop-color="#ffff00"/><stop offset="1" stop-color="#67ff98"/></linearGradient>
<linearGradient id="a42"><stop offset="0" stop-color="#0000bf"/><stop offset=".02" stop-color="#0000bf"/><stop offset=".1" stop-color="#0000cf"/><stop offset=".12" stop-color="#0000d0"/><stop offset=".2" stop-color="#0000c8"/><stop offset=".3" stop-color="#0000db"/><stop offset=".321" stop-color="#0000ff"/><stop offset=".42" stop-color="#00a2ff"/><stop offset=".471" stop-color="#00ffff"/><stop offset=".52" stop-color="#5bffa4"/><stop offset=".6" stop-color="#f6ff09"/><stop offset=".603" stop-color="#ffff00"/><stop offset=".62" stop-color="#ffcb00"/><stop offset=".697" stop-color="#ff0000"/><stop offset=".7" stop-color="#f60000"/><stop offset=".72" stop-color="#e10000"/><stop offset=".8" stop-color="#c10000"/><stop offset=".82" stop-color="#e80000"/><stop offset=".838" stop-color="#ff0000"/><stop offset=".9" stop-color="#ff5300"/><stop offset=".953" stop-color="#ffff00"/><stop offset="1" stop-color="#65ff9a"/></linearGradient>
<linearGradient id="a43"><stop offset="0" stop-color="#0000be"/><stop offset=".109" stop-color="#0000d1"/><stop offset=".2" stop-color="#0000c7"/><stop offset=".3" stop-color="#0000db"/><stop offset=".321" stop-color="#0000ff"/><stop offset=".409" stop-color="#008eff"/><stop offset=".47" stop-color="#00ffff"/><stop offset=".509" stop-color="#47ffb8"/><stop offset=".6" stop-color="#f8ff07"/><stop offset=".602" stop-color="#ffff00"/><stop offset=".609" stop-color="#ffec00"/><stop offset=".697" stop-color="#ff0000"/><stop offset=".7" stop-color="#f80000"/><stop offset=".709" stop-color="#ef0000"/><stop offset=".8" stop-color="#ca0000"/><stop offset=".809" stop-color="#db0000"/><stop offset=".836" stop-color="#ff0000"/><stop offset=".9" stop-color="#ff5500"/><stop offset=".952" stop-color="#ffff00"/><stop offset="1" stop-color="#63ff9c"/></linearGradient>
<linearGradient id="a44"><stop offset="0" stop-color="#0000be"/><stop offset=".1" stop-color="#0000d2"/><stop offset=".2" stop-color="#0000c7"/><stop offset=".3" stop-color="#0000db"/><stop offset=".322" stop-color="#0000ff"/><stop offset=".4" stop-color="#007eff"/><stop offset=".47" stop-color="#00ffff"/><stop offset=".602" stop-color="#ffff00"/><stop offset=".698" stop-color="#ff0000"/><stop offset=".7" stop-color="#fa0000"/><stop offset=".8" stop-color="#d30000"/><stop offset=".834" stop-color="#ff0000"/><stop offset=".9" stop-color="#ff5a00"/><stop offset=".951" stop-color="#ffff00"/><stop offset="1" stop-color="#60ff9f"/></linearGradient>
<linearGradient id="a45"><stop offset="0" stop-color="#0000c3"/><stop offset=".1" stop-color="#0000d7"/><stop offset=".171" stop-color="#0000d0"/><stop offset=".2" stop-color="#0000c8"/><stop offset=".3" stop-color="#0000db"/><stop offset=".322" stop-color="#0000ff"/><stop offset=".371" stop-color="#0051ff"/><stop offset=".4" stop-color="#0078ff"/><stop offset=".473" stop-color="#00ffff"/><stop offset=".571" stop-color="#bbff44"/><stop offset=".603" stop-color="#ffff00"/><stop offset=".699" stop-color="#ff0000"/><stop offset=".771" stop-color="#e00000"/><stop offset=".8" stop-color="#d80000"/><stop offset=".829" stop-color="#ff0000"/><stop offset=".871" stop-color="#ff3800"/><stop offset=".9" stop-color="#ff6500"/><stop offset=".947" stop-color="#ffff00"/><stop offset=".971" stop-color="#b0ff4f"/><stop offset="1" stop-color="#5effa1"/></linearGradient>
<linearGradient id="a46"><stop offset="0" stop-color="#0000c7"/><stop offset=".1" stop-color="#0000dc"/><stop offset=".149" stop-color="#0000d7"/><stop offset=".2" stop-color="#0000ca"/><stop offset=".3" stop-color="#0000db"/><stop offset=".322" stop-color="#0000ff"/><stop offset=".349" stop-color="#002cff"/><stop offset=".4" stop-color="#0072ff"/><stop offset=".477" stop-color="#00ffff"/><stop offset=".549" stop-color="#89ff76"/><stop offset=".604" stop-color="#ffff00"/><stop offset=".7" stop-color="#ff0000"/><stop offset=".749" stop-color="#eb0000"/><stop offset=".8" stop-color="#de0000"/><stop offset=".825" stop-color="#ff0000"/><stop offset=".849" stop-color="#ff2000"/><stop offset=".9" stop-color="#ff7100"/><stop offset=".944" stop-color="#ffff00"/><stop offset="1" stop-color="#5cffa3"/></linearGradient>
<linearGradient id="a47"><stop offset="0" stop-color="#0000cc"/><stop offset=".1" stop-color="#0000e0"/><stop offset=".126" stop-color="#0000de"/><stop offset=".2" stop-color="#0000cb"/><stop offset=".3" stop-color="#0000db"/><stop offset=".322" stop-color="#0000ff"/><stop offset=".4" stop-color="#006dff"/><stop offset=".48" stop-color="#00ffff"/><stop offset=".526" stop-color="#57ffa8"/><stop offset=".6" stop-color="#f2ff0d"/><stop offset=".605" stop-color="#ffff00"/><stop offset=".7" stop-color="#ff0200"/><stop offset=".8" stop-color="#e40000"/><stop offset=".82" stop-color="#ff0000"/><stop offset=".9" stop-color="#ff7d00"/><stop offset=".926" stop-color="#ffd100"/><stop offset=".942" stop-color="#ffff00"/><stop offset="1" stop-color="#59ffa6"/></linearGradient>
<linearGradient id="a48"><stop offset="0" stop-color="#0000d1"/><stop offset=".1" stop-color="#0000e5"/><stop offset=".2" stop-color="#0000cc"/><stop offset=".3" stop-color="#0000db"/><stop offset=".326" stop-color="#0000ff"/><stop offset=".4" stop-color="#0067ff"/><stop offset=".483" stop-color="#00ffff"/><stop offset=".5" stop-color="#1fffe0"/><stop offset=".6" stop-color="#f0ff0f"/><stop offset=".606" stop-color="#ffff00"/><stop offset=".7" stop-color="#ff0500"/><stop offset=".719" stop-color="#ff0000"/><stop offset=".8" stop-color="#ea0000"/><stop offset=".813" stop-color="#ff0000"/><stop offset=".9" stop-color="#ff8800"/><stop offset=".941" stop-color="#ffff00"/><stop offset="1" stop-color="#57ffa8"/></linearGradient>
<linearGradient id="a49"><stop offset="0" stop-color="#0000d1"/><stop offset=".1" stop-color="#0000e4"/><stop offset=".2" stop-color="#0000cd"/><stop offset=".3" stop-color="#0000db"/><stop offset=".326" stop-color="#0000ff"/><stop offset=".38" stop-color="#004aff"/><stop offset=".4" stop-color="#0061ff"/><stop offset=".486" stop-color="#00ffff"/><stop offset=".5" stop-color="#1affe5"/><stop offset=".58" stop-color="#c1ff3e"/><stop offset=".607" stop-color="#ffff00"/><stop offset=".68" stop-color="#ff3c00"/><stop offset=".7" stop-color="#ff0b00"/><stop offset=".744" stop-color="#ff0000"/><stop offset=".8" stop-color="#f00000"/><stop offset=".81" stop-color="#ff0000"/><stop offset=".88" stop-color="#ff6f00"/><stop offset=".9" stop-color="#ff9600"/><stop offset=".937" stop-color="#ffff00"/><stop offset=".98" stop-color="#84ff7b"/><stop offset="1" stop-color="#55ffaa"/></linearGradient>
<linearGradient id="a50"><stop offset="0" stop-color="#0000d1"/><stop offset=".1" stop-color="#0000e3"/><stop offset=".157" stop-color="#0000d5"/><stop offset=".2" stop-color="#0000ce"/><stop offset=".3" stop-color="#0000db"/><stop offset=".326" stop-color="#0000ff"/><stop offset=".357" stop-color="#002bff"/><stop offset=".4" stop-color="#005bff"/><stop offset=".489" stop-color="#00ffff"/><stop offset=".557" stop-color="#8bff74"/><stop offset=".6" stop-color="#ebff14"/><stop offset=".607" stop-color="#ffff00"/><stop offset=".657" stop-color="#ff7b00"/><stop offset=".7" stop-color="#ff1200"/><stop offset=".769" stop-color="#ff0000"/><stop offset=".8" stop-color="#f60000"/><stop offset=".806" stop-color="#ff0000"/><stop offset=".857" stop-color="#ff5100"/><stop offset=".9" stop-color="#ffa400"/><stop offset=".932" stop-color="#ffff00"/><stop offset=".957" stop-color="#b7ff48"/><stop offset="1" stop-color="#52ffad"/></linearGradient>
<linearGradient id="a51"><stop offset="0" stop-color="#0000d1"/><stop offset=".1" stop-color="#0000e2"/><stop offset=".134" stop-color="#0000d9"/><stop offset=".2" stop-color="#0000cf"/><stop offset=".3" stop-color="#0000db"/><stop offset=".326" stop-color="#0000ff"/><stop offset=".334" stop-color="#000cff"/><stop offset=".4" stop-color="#0055ff"/><stop offset=".492" stop-color="#00ffff"/><stop offset=".534" stop-color="#56ffa9"/><stop offset=".6" stop-color="#e9ff16"/><stop offset=".608" stop-color="#ffff00"/><stop offset=".634" stop-color="#ffba00"/><stop offset=".7" stop-color="#ff1900"/><stop offset=".788" stop-color="#ff0000"/><stop offset=".8" stop-color="#fb0000"/><stop offset=".802" stop-color="#ff0000"/><stop offset=".834" stop-color="#ff3300"/><stop offset=".9" stop-color="#ffb200"/><stop offset=".927" stop-color="#ffff00"/><stop offset=".934" stop-color="#eaff15"/><stop offset="1" stop-color="#50ffaf"/></linearGradient>
<linearGradient id="a52"><stop offset="0" stop-color="#0000d1"/><stop offset=".1" stop-color="#0000e1"/><stop offset=".2" stop-color="#0000d1"/><stop offset=".3" stop-color="#0000db"/><stop offset=".329" stop-color="#0000ff"/><stop offset=".4" stop-color="#004fff"/><stop offset=".496" stop-color="#00ffff"/><stop offset=".511" stop-color="#20ffdf"/><stop offset=".6" stop-color="#e7ff18"/><stop offset=".609" stop-color="#ffff00"/><stop offset=".7" stop-color="#ff2000"/><stop offset=".8" stop-color="#ff0200"/><stop offset=".811" stop-color="#ff1400"/><stop offset=".9" stop-color="#ffc000"/><stop offset=".911" stop-color="#ffe100"/><stop offset=".924" stop-color="#ffff00"/><stop offset="1" stop-color="#4effb1"/></linearGradient>
<linearGradient id="a53"><stop offset="0" stop-color="#0000d1"/><stop offset=".1" stop-color="#0000e0"/><stop offset=".2" stop-color="#0000d1"/><stop offset=".3" stop-color="#0000db"/><stop offset=".332" stop-color="#0000ff"/><stop offset=".394" stop-color="#0046ff"/><stop offset=".4" stop-color="#0049ff"/><stop offset=".5" stop-color="#00ffff"/><stop offset=".594" stop-color="#d3ff2c"/><stop offset=".6" stop-color="#dcff23"/><stop offset=".614" stop-color="#ffff00"/><stop offset=".694" stop-color="#ff3c00"/><stop offset=".7" stop-color="#ff3300"/><stop offset=".8" stop-color="#ff1600"/><stop offset=".894" stop-color="#ffcd00"/><stop offset=".9" stop-color="#ffd100"/><stop offset=".919" stop-color="#ffff00"/><stop offset=".994" stop-color="#4fffb0"/><stop offset="1" stop-color="#48ffb7"/></linearGradient>
<linearGradient id="a54"><stop offset="0" stop-color="#0000d1"/><stop offset=".083" stop-color="#0000de"/><stop offset=".1" stop-color="#0000de"/><stop offset=".2" stop-color="#0000cf"/><stop offset=".3" stop-color="#0000da"/><stop offset=".333" stop-color="#0000ff"/><stop offset=".383" stop-color="#0038ff"/><stop offset=".4" stop-color="#0042ff"/><stop offset=".483" stop-color="#00daff"/><stop offset=".5" stop-color="#00f4ff"/><stop offset=".505" stop-color="#00ffff"/><stop offset=".583" stop-color="#afff50"/><stop offset=".6" stop-color="#c8ff37"/><stop offset=".623" stop-color="#ffff00"/><stop offset=".683" stop-color="#ff6b00"/><stop offset=".7" stop-color="#ff5100"/><stop offset=".783" stop-color="#ff3800"/><stop offset=".8" stop-color="#ff3800"/><stop offset=".883" stop-color="#ffd800"/><stop offset=".9" stop-color="#ffe600"/><stop offset=".91" stop-color="#ffff00"/><stop offset=".983" stop-color="#55ffaa"/><stop offset="1" stop-color="#3fffc0"/></linearGradient>
<linearGradient id="a55"><stop offset="0" stop-color="#0000d1"/><stop offset=".071" stop-color="#0000dc"/><stop offset=".1" stop-color="#0000dc"/><stop offset=".2" stop-color="#0000ce"/><stop offset=".3" stop-color="#0000d8"/><stop offset=".334" stop-color="#0000ff"/><stop offset=".371" stop-color="#002aff"/><stop offset=".4" stop-color="#003bff"/><stop offset=".471" stop-color="#00beff"/><stop offset=".5" stop-color="#00eaff"/><stop offset=".509" stop-color="#00ffff"/><stop offset=".571" stop-color="#8bff74"/><stop offset=".6" stop-color="#b4ff4b"/><stop offset=".631" stop-color="#ffff00"/><stop offset=".671" stop-color="#ff9b00"/><stop offset=".7" stop-color="#ff6f00"/><stop offset=".771" stop-color="#ff5a00"/><stop offset=".8" stop-color="#ff5a00"/><stop offset=".871" stop-color="#ffe400"/><stop offset=".9" stop-color="#fffb00"/><stop offset=".902" stop-color="#ffff00"/><stop offset=".971" stop-color="#5bffa4"/><stop offset="1" stop-color="#35ffca"/></linearGradient>
<linearGradient id="a56"><stop offset="0" stop-color="#0000d1"/><stop offset=".06" stop-color="#0000da"/><stop offset=".1" stop-color="#0000da"/><stop offset=".2" stop-color="#0000cd"/><stop offset=".3" stop-color="#0000d7"/><stop offset=".335" stop-color="#0000ff"/><stop offset=".36" stop-color="#001cff"/><stop offset=".4" stop-color="#0034ff"/><stop offset=".46" stop-color="#00a2ff"/><stop offset=".5" stop-color="#00dfff"/><stop offset=".514" stop-color="#00ffff"/><stop offset=".56" stop-color="#67ff98"/><stop offset=".6" stop-color="#a0ff5f"/><stop offset=".639" stop-color="#ffff00"/><stop offset=".66" stop-color="#ffcb00"/><stop offset=".7" stop-color="#ff8e00"/><stop offset=".76" stop-color="#ff7b00"/><stop offset=".8" stop-color="#ff7b00"/><stop offset=".86" stop-color="#fff000"/><stop offset=".879" stop-color="#ffff00"/><stop offset=".9" stop-color="#eeff11"/><stop offset=".96" stop-color="#61ff9e"/><stop offset="1" stop-color="#2cffd3"/></linearGradient>
<linearGradient id="a57"><stop offset="0" stop-color="#0000d1"/><stop offset=".049" stop-color="#0000d9"/><stop offset=".1" stop-color="#0000d9"/><stop offset=".2" stop-color="#0000cc"/><stop offset=".3" stop-color="#0000d6"/><stop offset=".336" stop-color="#0000ff"/><stop offset=".349" stop-color="#000eff"/><stop offset=".4" stop-color="#002dff"/><stop offset=".449" stop-color="#0086ff"/><stop offset=".5" stop-color="#00d5ff"/><stop offset=".519" stop-color="#00ffff"/><stop offset=".549" stop-color="#43ffbc"/><stop offset=".6" stop-color="#8cff73"/><stop offset=".647" stop-color="#ffff00"/><stop offset=".7" stop-color="#ffac00"/><stop offset=".749" stop-color="#ff9d00"/><stop offset=".8" stop-color="#ff9d00"/><stop offset=".849" stop-color="#fffb00"/><stop offset=".853" stop-color="#ffff00"/><stop offset=".9" stop-color="#d9ff26"/><stop offset=".949" stop-color="#67ff98"/><stop offset="1" stop-color="#23ffdc"/></linearGradient>
<linearGradient id="a58"><stop offset="0" stop-color="#0000d1"/><stop offset=".037" stop-color="#0000d7"/><stop offset=".1" stop-color="#0000d7"/><stop offset=".2" stop-color="#0000cb"/><stop offset=".3" stop-color="#0000d5"/><stop offset=".338" stop-color="#0000ff"/><stop offset=".4" stop-color="#0026ff"/><stop offset=".437" stop-color="#006aff"/><stop offset=".5" stop-color="#00caff"/><stop offset=".523" stop-color="#00ffff"/><stop offset=".537" stop-color="#1fffe0"/><stop offset=".6" stop-color="#79ff86"/><stop offset=".637" stop-color="#d3ff2c"/><stop offset=".666" stop-color="#ffff00"/><stop offset=".7" stop-color="#ffca00"/><stop offset=".737" stop-color="#ffbf00"/><stop offset=".8" stop-color="#ffbf00"/><stop offset=".833" stop-color="#ffff00"/><stop offset=".837" stop-color="#f7ff08"/><stop offset=".9" stop-color="#c4ff3b"/><stop offset=".937" stop-color="#6dff92"/><stop offset="1" stop-color="#19ffe6"/></linearGradient>
<linearGradient id="a59"><stop offset="0" stop-color="#0000d1"/><stop offset=".026" stop-color="#0000d5"/><stop offset=".1" stop-color="#0000d5"/><stop offset=".2" stop-color="#0000ca"/><stop offset=".3" stop-color="#0000d4"/><stop offset=".326" stop-color="#0000f1"/><stop offset=".349" stop-color="#0000ff"/><stop offset=".4" stop-color="#001fff"/><stop offset=".426" stop-color="#004eff"/><stop offset=".5" stop-color="#00c0ff"/><stop offset=".526" stop-color="#00faff"/><stop offset=".529" stop-color="#00ffff"/><stop offset=".6" stop-color="#65ff9a"/><stop offset=".626" stop-color="#a4ff5b"/><stop offset=".685" stop-color="#ffff00"/><stop offset=".7" stop-color="#ffe900"/><stop offset=".726" stop-color="#ffe100"/><stop offset=".8" stop-color="#ffe100"/><stop offset=".816" stop-color="#ffff00"/><stop offset=".826" stop-color="#ebff14"/><stop offset=".9" stop-color="#afff50"/><stop offset=".926" stop-color="#72ff8d"/><stop offset="1" stop-color="#10ffef"/></linearGradient>
<linearGradient id="a60"><stop offset="0" stop-color="#0000d1"/><stop offset=".1" stop-color="#0000d3"/><stop offset=".2" stop-color="#0000c8"/><stop offset=".3" stop-color="#0000d3"/><stop offset=".314" stop-color="#0000e3"/><stop offset=".361" stop-color="#0000ff"/><stop offset=".4" stop-color="#0018ff"/><stop offset=".414" stop-color="#0032ff"/><stop offset=".5" stop-color="#00b5ff"/><stop offset=".514" stop-color="#00d5ff"/><stop offset=".543" stop-color="#00ffff"/><stop offset=".6" stop-color="#51ffae"/><stop offset=".614" stop-color="#74ff8b"/><stop offset=".7" stop-color="#f7ff08"/><stop offset=".714" stop-color="#fbff04"/><stop offset=".8" stop-color="#fbff04"/><stop offset=".814" stop-color="#e0ff1f"/><stop offset=".9" stop-color="#9aff65"/><stop offset=".914" stop-color="#78ff87"/><stop offset="1" stop-color="#07fff8"/></linearGradient>
<linearGradient id="a61"><stop offset="0" stop-color="#0000d1"/><stop offset=".1" stop-color="#0000d2"/><stop offset=".2" stop-color="#0000c7"/><stop offset=".3" stop-color="#0000d1"/><stop offset=".373" stop-color="#0000ff"/><stop offset=".4" stop-color="#0011ff"/><stop offset=".5" stop-color="#00abff"/><stop offset=".558" stop-color="#00ffff"/><stop offset=".6" stop-color="#3dffc2"/><stop offset=".7" stop-color="#d9ff26"/><stop offset=".8" stop-color="#daff25"/><stop offset=".9" stop-color="#85ff7a"/><stop offset=".998" stop-color="#00ffff"/><stop offset="1" stop-color="#00fcff"/></linearGradient>
<linearGradient id="a62"><stop offset="0" stop-color="#0000d1"/><stop offset=".1" stop-color="#0000d0"/><stop offset=".2" stop-color="#0000c5"/><stop offset=".3" stop-color="#0000cf"/><stop offset=".378" stop-color="#0000ff"/><stop offset=".4" stop-color="#000bff"/><stop offset=".491" stop-color="#0097ff"/><stop offset=".5" stop-color="#009eff"/><stop offset=".568" stop-color="#00ffff"/><stop offset=".6" stop-color="#2dffd2"/><stop offset=".691" stop-color="#b9ff46"/><stop offset=".7" stop-color="#beff41"/><stop offset=".8" stop-color="#c0ff3f"/><stop offset=".891" stop-color="#75ff8a"/><stop offset=".9" stop-color="#73ff8c"/><stop offset=".987" stop-color="#00ffff"/><stop offset=".991" stop-color="#00f9ff"/><stop offset="1" stop-color="#00f4ff"/></linearGradient>
<linearGradient id="a63"><stop offset="0" stop-color="#0000d1"/><stop offset=".1" stop-color="#0000cf"/><stop offset=".2" stop-color="#0000c3"/><stop offset=".3" stop-color="#0000cd"/><stop offset=".383" stop-color="#0000ff"/><stop offset=".4" stop-color="#0005ff"/><stop offset=".48" stop-color="#0080ff"/><stop offset=".5" stop-color="#0090ff"/><stop offset=".578" stop-color="#00ffff"/><stop offset=".6" stop-color="#1effe1"/><stop offset=".68" stop-color="#98ff67"/><stop offset=".7" stop-color="#a4ff5b"/><stop offset=".78" stop-color="#a4ff5b"/><stop offset=".8" stop-color="#a8ff57"/><stop offset=".88" stop-color="#67ff98"/><stop offset=".9" stop-color="#63ff9c"/><stop offset=".975" stop-color="#00ffff"/><stop offset=".98" stop-color="#00f8ff"/><stop offset="1" stop-color="#00ecff"/></linearGradient>
<linearGradient id="a64"><stop offset="0" stop-color="#0000d1"/><stop offset=".069" stop-color="#0000d1"/><stop offset=".169" stop-color="#0000c7"/><stop offset=".2" stop-color="#0000c0"/><stop offset=".3" stop-color="#0000cb"/><stop offset=".369" stop-color="#0000f5"/><stop offset=".4" stop-color="#0000ff"/><stop offset=".469" stop-color="#0068ff"/><stop offset=".5" stop-color="#0082ff"/><stop offset=".589" stop-color="#00ffff"/><stop offset=".6" stop-color="#0efff1"/><stop offset=".669" stop-color="#77ff88"/><stop offset=".7" stop-color="#8bff74"/><stop offset=".769" stop-color="#8bff74"/><stop offset=".8" stop-color="#91ff6e"/><stop offset=".869" stop-color="#59ffa6"/><stop offset=".9" stop-color="#53ffac"/><stop offset=".962" stop-color="#00ffff"/><stop offset=".969" stop-color="#00f7ff"/><stop offset="1" stop-color="#00e3ff"/></linearGradient>
<linearGradient id="a65"><stop offset="0" stop-color="#0000d1"/><stop offset=".057" stop-color="#0000d1"/><stop offset=".157" stop-color="#0000c7"/><stop offset=".2" stop-color="#0000be"/><stop offset=".3" stop-color="#0000c8"/><stop offset=".357" stop-color="#0000eb"/><stop offset=".4" stop-color="#0000f8"/><stop offset=".404" stop-color="#0000ff"/><stop offset=".457" stop-color="#0051ff"/><stop offset=".5" stop-color="#0074ff"/><stop offset=".557" stop-color="#00c5ff"/><stop offset=".6" stop-color="#00ffff"/><stop offset=".657" stop-color="#57ffa8"/><stop offset=".7" stop-color="#71ff8e"/><stop offset=".757" stop-color="#71ff8e"/><stop offset=".8" stop-color="#7aff85"/><stop offset=".857" stop-color="#4bffb4"/><stop offset=".9" stop-color="#42ffbd"/><stop offset=".95" stop-color="#00ffff"/><stop offset=".957" stop-color="#00f6ff"/><stop offset="1" stop-color="#00dbff"/></linearGradient>
<linearGradient id="a66"><stop offset="0" stop-color="#0000d1"/><stop offset=".046" stop-color="#0000d1"/><stop offset=".146" stop-color="#0000c7"/><stop offset=".2" stop-color="#0000bc"/><stop offset=".3" stop-color="#0000c6"/><stop offset=".346" stop-color="#0000e2"/><stop offset=".4" stop-color="#0000f3"/><stop offset=".408" stop-color="#0000ff"/><stop offset=".446" stop-color="#003aff"/><stop offset=".5" stop-color="#0066ff"/><stop offset=".546" stop-color="#00a7ff"/><stop offset=".61" stop-color="#00ffff"/><stop offset=".646" stop-color="#36ffc9"/><stop offset=".7" stop-color="#57ffa8"/><stop offset=".746" stop-color="#57ffa8"/><stop offset=".8" stop-color="#62ff9d"/><stop offset=".846" stop-color="#3dffc2"/><stop offset=".9" stop-color="#32ffcd"/><stop offset=".938" stop-color="#00ffff"/><stop offset=".946" stop-color="#00f4ff"/><stop offset="1" stop-color="#00d3ff"/></linearGradient>
<linearGradient id="a67"><stop offset="0" stop-color="#0000d1"/><stop offset=".034" stop-color="#0000d1"/><stop offset=".134" stop-color="#0000c7"/><stop offset=".2" stop-color="#0000b9"/><stop offset=".3" stop-color="#0000c4"/><stop offset=".334" stop-color="#0000d9"/><stop offset=".4" stop-color="#0000ed"/><stop offset=".412" stop-color="#0000ff"/><stop offset=".434" stop-color="#0022ff"/><stop offset=".5" stop-color="#0058ff"/><stop offset=".534" stop-color="#0089ff"/><stop offset=".6" stop-color="#00e0ff"/><stop offset=".62" stop-color="#00ffff"/><stop offset=".634" stop-color="#15ffea"/><stop offset=".7" stop-color="#3effc1"/><stop offset=".734" stop-color="#3effc1"/><stop offset=".8" stop-color="#4bffb4"/><stop offset=".834" stop-color="#2fffd0"/><stop offset=".9" stop-color="#22ffdd"/><stop offset=".925" stop-color="#00ffff"/><stop offset=".934" stop-color="#00f3ff"/><stop offset="1" stop-color="#00cbff"/></linearGradient>
<linearGradient id="a68"><stop offset="0" stop-color="#0000d1"/><stop offset=".123" stop-color="#0000c7"/><stop offset=".2" stop-color="#0000b7"/><stop offset=".3" stop-color="#0000c1"/><stop offset=".323" stop-color="#0000cf"/><stop offset=".4" stop-color="#0000e7"/><stop offset=".416" stop-color="#0000ff"/><stop offset=".423" stop-color="#000bff"/><stop offset=".5" stop-color="#004aff"/><stop offset=".523" stop-color="#006bff"/><stop offset=".6" stop-color="#00d1ff"/><stop offset=".623" stop-color="#00f4ff"/><stop offset=".641" stop-color="#00ffff"/><stop offset=".7" stop-color="#24ffdb"/><stop offset=".723" stop-color="#24ffdb"/><stop offset=".8" stop-color="#34ffcb"/><stop offset=".823" stop-color="#21ffde"/><stop offset=".9" stop-color="#11ffee"/><stop offset=".913" stop-color="#00ffff"/><stop offset=".923" stop-color="#00f2ff"/><stop offset="1" stop-color="#00c3ff"/></linearGradient>
<linearGradient id="a69"><stop offset="0" stop-color="#0000d1"/><stop offset=".111" stop-color="#0000c7"/><stop offset=".2" stop-color="#0000b5"/><stop offset=".3" stop-color="#0000bf"/><stop offset=".311" stop-color="#0000c6"/><stop offset=".4" stop-color="#0000e1"/><stop offset=".411" stop-color="#0000f3"/><stop offset=".427" stop-color="#0000ff"/><stop offset=".5" stop-color="#003cff"/><stop offset=".611" stop-color="#00d3ff"/><stop offset=".683" stop-color="#00ffff"/><stop offset=".7" stop-color="#0afff5"/><stop offset=".711" stop-color="#0afff5"/><stop offset=".8" stop-color="#1cffe3"/><stop offset=".811" stop-color="#13ffec"/><stop offset=".901" stop-color="#00ffff"/><stop offset=".911" stop-color="#00f1ff"/><stop offset="1" stop-color="#00bbff"/></linearGradient>
<linearGradient id="a70"><stop offset="0" stop-color="#0000d1"/><stop offset=".1" stop-color="#0000c7"/><stop offset=".2" stop-color="#0000b3"/><stop offset=".3" stop-color="#0000bd"/><stop offset=".4" stop-color="#0000db"/><stop offset=".444" stop-color="#0000ff"/><stop offset=".5" stop-color="#002eff"/><stop offset=".6" stop-color="#00b2ff"/><stop offset=".7" stop-color="#00f0ff"/><stop offset=".775" stop-color="#00ffff"/><stop offset=".8" stop-color="#05fffa"/><stop offset=".825" stop-color="#00ffff"/><stop offset=".9" stop-color="#00f0ff"/><stop offset="1" stop-color="#00b2ff"/></linearGradient>
<linearGradient id="a71"><stop offset="0" stop-color="#0000d2"/><stop offset=".1" stop-color="#0000c7"/><stop offset=".2" stop-color="#0000b4"/><stop offset=".289" stop-color="#0000bd"/><stop offset=".3" stop-color="#0000ba"/><stop offset=".4" stop-color="#0000d7"/><stop offset=".449" stop-color="#0000ff"/><stop offset=".489" stop-color="#0020ff"/><stop offset=".5" stop-color="#0022ff"/><stop offset=".589" stop-color="#0098ff"/><stop offset=".6" stop-color="#009bff"/><stop offset=".689" stop-color="#00d1ff"/><stop offset=".8" stop-color="#00eaff"/><stop offset=".889" stop-color="#00d8ff"/><stop offset=".9" stop-color="#00ddff"/><stop offset=".989" stop-color="#00a7ff"/><stop offset="1" stop-color="#00a7ff"/></linearGradient>
<linearGradient id="a72"><stop offset="0" stop-color="#0000d2"/><stop offset=".1" stop-color="#0000c8"/><stop offset=".2" stop-color="#0000b5"/><stop offset=".277" stop-color="#0000bd"/><stop offset=".3" stop-color="#0000b8"/><stop offset=".377" stop-color="#0000d0"/><stop offset=".4" stop-color="#0000d2"/><stop offset=".455" stop-color="#0000ff"/><stop offset=".477" stop-color="#0012ff"/><stop offset=".5" stop-color="#0017ff"/><stop offset=".577" stop-color="#007dff"/><stop offset=".6" stop-color="#0084ff"/><stop offset=".677" stop-color="#00b3ff"/><stop offset=".8" stop-color="#00d1ff"/><stop offset=".877" stop-color="#00c1ff"/><stop offset=".9" stop-color="#00caff"/><stop offset=".977" stop-color="#009bff"/><stop offset="1" stop-color="#009bff"/></linearGradient>
<linearGradient id="a73"><stop offset="0" stop-color="#0000d3"/><stop offset=".1" stop-color="#0000c9"/><stop offset=".2" stop-color="#0000b6"/><stop offset=".266" stop-color="#0000bd"/><stop offset=".3" stop-color="#0000b6"/><stop offset=".366" stop-color="#0000ca"/><stop offset=".4" stop-color="#0000cd"/><stop offset=".461" stop-color="#0000ff"/><stop offset=".466" stop-color="#0004ff"/><stop offset=".5" stop-color="#000bff"/><stop offset=".566" stop-color="#0062ff"/><stop offset=".6" stop-color="#006dff"/><stop offset=".666" stop-color="#0095ff"/><stop offset=".8" stop-color="#00b7ff"/><stop offset=".866" stop-color="#00aaff"/><stop offset=".9" stop-color="#00b8ff"/><stop offset=".966" stop-color="#0090ff"/><stop offset="1" stop-color="#0090ff"/></linearGradient>
<linearGradient id="a74"><stop offset="0" stop-color="#0000d3"/><stop offset=".1" stop-color="#0000c9"/><stop offset=".2" stop-color="#0000b7"/><stop offset=".254" stop-color="#0000bd"/><stop offset=".3" stop-color="#0000b3"/><stop offset=".354" stop-color="#0000c4"/><stop offset=".4" stop-color="#0000c9"/><stop offset=".454" stop-color="#0000f5"/><stop offset=".501" stop-color="#0000ff"/><stop offset=".554" stop-color="#0047ff"/><stop offset=".6" stop-color="#0055ff"/><stop offset=".654" stop-color="#0076ff"/><stop offset=".7" stop-color="#0084ff"/><stop offset=".754" stop-color="#0090ff"/><stop offset=".8" stop-color="#009eff"/><stop offset=".854" stop-color="#0092ff"/><stop offset=".9" stop-color="#00a5ff"/><stop offset=".954" stop-color="#0084ff"/><stop offset="1" stop-color="#0084ff"/></linearGradient>
<linearGradient id="a75"><stop offset="0" stop-color="#0000d4"/><stop offset=".1" stop-color="#0000ca"/><stop offset=".2" stop-color="#0000b8"/><stop offset=".243" stop-color="#0000bd"/><stop offset=".3" stop-color="#0000b1"/><stop offset=".343" stop-color="#0000be"/><stop offset=".4" stop-color="#0000c4"/><stop offset=".443" stop-color="#0000e7"/><stop offset=".5" stop-color="#0000f3"/><stop offset=".509" stop-color="#0000ff"/><stop offset=".543" stop-color="#002cff"/><stop offset=".6" stop-color="#003eff"/><stop offset=".643" stop-color="#0058ff"/><stop offset=".7" stop-color="#006aff"/><stop offset=".743" stop-color="#0072ff"/><stop offset=".8" stop-color="#0084ff"/><stop offset=".843" stop-color="#007bff"/><stop offset=".9" stop-color="#0092ff"/><stop offset=".943" stop-color="#0078ff"/><stop offset="1" stop-color="#0078ff"/></linearGradient>
<linearGradient id="a76"><stop offset="0" stop-color="#0000d5"/><stop offset=".2" stop-color="#0000b9"/><stop offset=".231" stop-color="#0000bd"/><stop offset=".3" stop-color="#0000af"/><stop offset=".331" stop-color="#0000b8"/><stop offset=".4" stop-color="#0000bf"/><stop offset=".431" stop-color="#0000d9"/><stop offset=".5" stop-color="#0000e7"/><stop offset=".518" stop-color="#0000ff"/><stop offset=".531" stop-color="#0012ff"/><stop offset=".6" stop-color="#0027ff"/><stop offset=".631" stop-color="#003aff"/><stop offset=".7" stop-color="#004fff"/><stop offset=".731" stop-color="#0055ff"/><stop offset=".8" stop-color="#006aff"/><stop offset=".831" stop-color="#0064ff"/><stop offset=".9" stop-color="#0080ff"/><stop offset=".931" stop-color="#006dff"/><stop offset="1" stop-color="#006dff"/></linearGradient>
<linearGradient id="a77"><stop offset="0" stop-color="#0000d5"/><stop offset=".2" stop-color="#0000bb"/><stop offset=".22" stop-color="#0000bd"/><stop offset=".3" stop-color="#0000ac"/><stop offset=".32" stop-color="#0000b2"/><stop offset=".4" stop-color="#0000bb"/><stop offset=".42" stop-color="#0000cb"/><stop offset=".5" stop-color="#0000db"/><stop offset=".52" stop-color="#0000f6"/><stop offset=".55" stop-color="#0000ff"/><stop offset=".6" stop-color="#000fff"/><stop offset=".62" stop-color="#001cff"/><stop offset=".8" stop-color="#0051ff"/><stop offset=".82" stop-color="#004cff"/><stop offset=".9" stop-color="#006dff"/><stop offset=".92" stop-color="#0061ff"/><stop offset="1" stop-color="#0061ff"/></linearGradient>
<linearGradient id="a78"><stop offset="0" stop-color="#0000d6"/><stop offset=".109" stop-color="#0000ca"/><stop offset=".2" stop-color="#0000bc"/><stop offset=".209" stop-color="#0000bd"/><stop offset=".3" stop-color="#0000aa"/><stop offset=".4" stop-color="#0000b6"/><stop offset=".409" stop-color="#0000bd"/><stop offset=".5" stop-color="#0000d0"/><stop offset=".509" stop-color="#0000db"/><stop offset=".6" stop-color="#0000f7"/><stop offset=".618" stop-color="#0000ff"/><stop offset=".8" stop-color="#0037ff"/><stop offset=".809" stop-color="#0035ff"/><stop offset=".9" stop-color="#005aff"/><stop offset=".909" stop-color="#0055ff"/><stop offset="1" stop-color="#0055ff"/></linearGradient>
<linearGradient id="a79"><stop offset="0" stop-color="#0000d6"/><stop offset=".1" stop-color="#0000cc"/><stop offset=".2" stop-color="#0000bd"/><stop offset=".3" stop-color="#0000a9"/><stop offset=".4" stop-color="#0000b2"/><stop offset=".5" stop-color="#0000c6"/><stop offset=".692" stop-color="#0000ff"/><stop offset=".8" stop-color="#0021ff"/><stop offset=".9" stop-color="#0049ff"/><stop offset="1" stop-color="#0049ff"/></linearGradient>
<linearGradient id="a80"><stop offset="0" stop-color="#0000d7"/><stop offset=".1" stop-color="#0000cd"/><stop offset=".2" stop-color="#0000be"/><stop offset=".3" stop-color="#0000aa"/><stop offset=".386" stop-color="#0000b2"/><stop offset=".4" stop-color="#0000b0"/><stop offset=".486" stop-color="#0000c1"/><stop offset=".5" stop-color="#0000c1"/><stop offset=".586" stop-color="#0000db"/><stop offset=".6" stop-color="#0000db"/><stop offset=".686" stop-color="#0000f5"/><stop offset=".726" stop-color="#0000ff"/><stop offset=".8" stop-color="#0015ff"/><stop offset=".886" stop-color="#0038ff"/><stop offset="1" stop-color="#003bff"/></linearGradient>
<linearGradient id="a81"><stop offset="0" stop-color="#0000d8"/><stop offset=".2" stop-color="#0000bf"/><stop offset=".3" stop-color="#0000ab"/><stop offset=".374" stop-color="#0000b2"/><stop offset=".4" stop-color="#0000ad"/><stop offset=".474" stop-color="#0000bc"/><stop offset=".5" stop-color="#0000bc"/><stop offset=".574" stop-color="#0000d3"/><stop offset=".6" stop-color="#0000d2"/><stop offset=".674" stop-color="#0000e9"/><stop offset=".7" stop-color="#0000ec"/><stop offset=".76" stop-color="#0000ff"/><stop offset=".8" stop-color="#0009ff"/><stop offset=".874" stop-color="#0028ff"/><stop offset="1" stop-color="#002dff"/></linearGradient>
<linearGradient id="a82"><stop offset="0" stop-color="#0000d8"/><stop offset=".1" stop-color="#0000ce"/><stop offset=".3" stop-color="#0000ac"/><stop offset=".363" stop-color="#0000b2"/><stop offset=".4" stop-color="#0000ab"/><stop offset=".463" stop-color="#0000b8"/><stop offset=".5" stop-color="#0000b8"/><stop offset=".563" stop-color="#0000cb"/><stop offset=".6" stop-color="#0000c9"/><stop offset=".663" stop-color="#0000dc"/><stop offset=".7" stop-color="#0000e2"/><stop offset=".763" stop-color="#0000f5"/><stop offset=".805" stop-color="#0000ff"/><stop offset=".863" stop-color="#0017ff"/><stop offset=".9" stop-color="#001bff"/><stop offset=".963" stop-color="#001bff"/><stop offset="1" stop-color="#001fff"/></linearGradient>
<linearGradient id="a83"><stop offset="0" stop-color="#0000d9"/><stop offset=".2" stop-color="#0000c2"/><stop offset=".3" stop-color="#0000ad"/><stop offset=".351" stop-color="#0000b2"/><stop offset=".4" stop-color="#0000a9"/><stop offset=".451" stop-color="#0000b3"/><stop offset=".5" stop-color="#0000b3"/><stop offset=".551" stop-color="#0000c3"/><stop offset=".6" stop-color="#0000c0"/><stop offset=".651" stop-color="#0000d0"/><stop offset=".7" stop-color="#0000d8"/><stop offset=".751" stop-color="#0000e7"/><stop offset=".8" stop-color="#0000f1"/><stop offset=".834" stop-color="#0000ff"/><stop offset=".851" stop-color="#0007ff"/><stop offset=".9" stop-color="#000cff"/><stop offset=".951" stop-color="#000cff"/><stop offset="1" stop-color="#0011ff"/></linearGradient>
<linearGradient id="a84"><stop offset="0" stop-color="#0000d9"/><stop offset=".2" stop-color="#0000c3"/><stop offset=".3" stop-color="#0000ae"/><stop offset=".34" stop-color="#0000b2"/><stop offset=".4" stop-color="#0000a6"/><stop offset=".44" stop-color="#0000ae"/><stop offset=".5" stop-color="#0000ae"/><stop offset=".54" stop-color="#0000bb"/><stop offset=".6" stop-color="#0000b8"/><stop offset=".64" stop-color="#0000c4"/><stop offset=".7" stop-color="#0000cd"/><stop offset=".74" stop-color="#0000d9"/><stop offset=".8" stop-color="#0000e5"/><stop offset=".84" stop-color="#0000f6"/><stop offset=".9" stop-color="#0000fc"/><stop offset=".97" stop-color="#0000ff"/><stop offset="1" stop-color="#0003ff"/></linearGradient>
<linearGradient id="a85"><stop offset="0" stop-color="#0000da"/><stop offset=".2" stop-color="#0000c4"/><stop offset=".3" stop-color="#0000b0"/><stop offset=".329" stop-color="#0000b2"/><stop offset=".4" stop-color="#0000a4"/><stop offset=".429" stop-color="#0000aa"/><stop offset=".5" stop-color="#0000aa"/><stop offset=".529" stop-color="#0000b2"/><stop offset=".6" stop-color="#0000af"/><stop offset=".629" stop-color="#0000b8"/><stop offset=".7" stop-color="#0000c3"/><stop offset=".8" stop-color="#0000da"/><stop offset=".829" stop-color="#0000e5"/><stop offset=".9" stop-color="#0000ed"/><stop offset=".929" stop-color="#0000ed"/><stop offset="1" stop-color="#0000f4"/></linearGradient>
<linearGradient id="a86"><stop offset="0" stop-color="#0000da"/><stop offset=".217" stop-color="#0000c2"/><stop offset=".3" stop-color="#0000b1"/><stop offset=".317" stop-color="#0000b2"/><stop offset=".4" stop-color="#0000a2"/><stop offset=".417" stop-color="#0000a5"/><stop offset=".5" stop-color="#0000a5"/><stop offset=".517" stop-color="#0000aa"/><stop offset=".6" stop-color="#0000a6"/><stop offset=".8" stop-color="#0000ce"/><stop offset=".817" stop-color="#0000d5"/><stop offset="1" stop-color="#0000e6"/></linearGradient>
<linearGradient id="a87"><stop offset="0" stop-color="#0000db"/><stop offset=".206" stop-color="#0000c5"/><stop offset=".4" stop-color="#00009f"/><stop offset=".506" stop-color="#0000a2"/><stop offset=".6" stop-color="#00009d"/><stop offset=".706" stop-color="#0000af"/><stop offset=".806" stop-color="#0000c5"/><stop offset="1" stop-color="#0000d8"/></linearGradient>
<linearGradient id="a88"><stop offset="0" stop-color="#0000dc"/><stop offset=".2" stop-color="#0000c8"/><stop offset=".4" stop-color="#0000a1"/><stop offset=".5" stop-color="#0000a1"/><stop offset=".6" stop-color="#00009b"/><stop offset=".692" stop-color="#0000a9"/><stop offset=".7" stop-color="#0000a8"/><stop offset=".8" stop-color="#0000bb"/><stop offset="1" stop-color="#0000cf"/></linearGradient>
<linearGradient id="a89"><stop offset="0" stop-color="#0000de"/><stop offset=".2" stop-color="#0000c9"/><stop offset=".376" stop-color="#0000a8"/><stop offset=".576" stop-color="#0000a2"/><stop offset=".6" stop-color="#00009f"/><stop offset=".676" stop-color="#0000ab"/><stop offset=".7" stop-color="#0000a8"/><stop offset=".776" stop-color="#0000b8"/><stop offset="1" stop-color="#0000ca"/></linearGradient>
<linearGradient id="a90"><stop offset="0" stop-color="#0000df"/><stop offset=".2" stop-color="#0000cb"/><stop offset=".259" stop-color="#0000bf"/><stop offset=".3" stop-color="#0000bb"/><stop offset=".359" stop-color="#0000af"/><stop offset=".4" stop-color="#0000ab"/><stop offset=".559" stop-color="#0000a8"/><stop offset=".6" stop-color="#0000a3"/><stop offset=".659" stop-color="#0000ac"/><stop offset=".7" stop-color="#0000a8"/><stop offset=".759" stop-color="#0000b4"/><stop offset=".8" stop-color="#0000b4"/><stop offset=".959" stop-color="#0000c5"/><stop offset="1" stop-color="#0000c5"/></linearGradient>
<linearGradient id="a91"><stop offset="0" stop-color="#0000e1"/><stop offset=".2" stop-color="#0000cd"/><stop offset=".243" stop-color="#0000c4"/><stop offset=".3" stop-color="#0000be"/><stop offset=".343" stop-color="#0000b5"/><stop offset=".4" stop-color="#0000b0"/><stop offset=".5" stop-color="#0000b0"/><stop offset=".6" stop-color="#0000a8"/><stop offset=".643" stop-color="#0000ae"/><stop offset=".7" stop-color="#0000a8"/><stop offset=".743" stop-color="#0000b1"/><stop offset=".8" stop-color="#0000b1"/><stop offset=".943" stop-color="#0000c0"/><stop offset="1" stop-color="#0000c0"/></linearGradient>
<linearGradient id="a92"><stop offset="0" stop-color="#0000e3"/><stop offset=".4" stop-color="#0000b5"/><stop offset=".527" stop-color="#0000b3"/><stop offset=".6" stop-color="#0000ac"/><stop offset=".627" stop-color="#0000b0"/><stop offset=".7" stop-color="#0000a8"/><stop offset=".727" stop-color="#0000ae"/><stop offset=".827" stop-color="#0000b0"/><stop offset=".927" stop-color="#0000bb"/><stop offset="1" stop-color="#0000bb"/></linearGradient>
<linearGradient id="a93"><stop offset="0" stop-color="#0000e4"/><stop offset=".41" stop-color="#0000ba"/><stop offset=".51" stop-color="#0000b9"/><stop offset=".7" stop-color="#0000a8"/><stop offset=".81" stop-color="#0000ab"/><stop offset=".91" stop-color="#0000b6"/><stop offset="1" stop-color="#0000b6"/></linearGradient>
<linearGradient id="a94"><stop offset="0" stop-color="#0000e5"/><stop offset=".4" stop-color="#0000bc"/><stop offset=".5" stop-color="#0000bc"/><stop offset=".7" stop-color="#0000a8"/><stop offset=".8" stop-color="#0000a9"/><stop offset=".9" stop-color="#0000b3"/><stop offset="1" stop-color="#0000b3"/></linearGradient>
<linearGradient id="a95"><stop offset="0" stop-color="#0000e5"/><stop offset=".4" stop-color="#0000bc"/><stop offset=".5" stop-color="#0000bc"/><stop offset=".7" stop-color="#0000a8"/><stop offset=".8" stop-color="#0000a9"/><stop offset=".9" stop-color="#0000b3"/><stop offset="1" stop-color="#0000b3"/></linearGradient>
<clipPath id="cpa"><rect x="367.3" y="3.9" width="205.6" height="183.1"/></clipPath>
<linearGradient id="b0"><stop offset="0" stop-color="#0000a8"/><stop offset=".141" stop-color="#0000ff"/><stop offset=".2" stop-color="#0024ff"/><stop offset=".289" stop-color="#0000ff"/><stop offset=".4" stop-color="#0000c2"/><stop offset=".5" stop-color="#0000b3"/><stop offset=".543" stop-color="#0000ff"/><stop offset=".6" stop-color="#0065ff"/><stop offset=".692" stop-color="#00ffff"/><stop offset=".7" stop-color="#0dfff2"/><stop offset=".8" stop-color="#33ffcc"/><stop offset=".849" stop-color="#00ffff"/><stop offset=".9" stop-color="#00caff"/><stop offset="1" stop-color="#002fff"/></linearGradient>
<linearGradient id="b1"><stop offset="0" stop-color="#0000a8"/><stop offset=".141" stop-color="#0000ff"/><stop offset=".2" stop-color="#0024ff"/><stop offset=".289" stop-color="#0000ff"/><stop offset=".4" stop-color="#0000c2"/><stop offset=".5" stop-color="#0000b3"/><stop offset=".543" stop-color="#0000ff"/><stop offset=".6" stop-color="#0065ff"/><stop offset=".692" stop-color="#00ffff"/><stop offset=".7" stop-color="#0dfff2"/><stop offset=".8" stop-color="#33ffcc"/><stop offset=".849" stop-color="#00ffff"/><stop offset=".9" stop-color="#00caff"/><stop offset="1" stop-color="#002fff"/></linearGradient>
<linearGradient id="b2"><stop offset="0" stop-color="#0000a8"/><stop offset=".141" stop-color="#0000ff"/><stop offset=".2" stop-color="#0025ff"/><stop offset=".29" stop-color="#0000ff"/><stop offset=".4" stop-color="#0000c3"/><stop offset=".5" stop-color="#0000b4"/><stop offset=".543" stop-color="#0000ff"/><stop offset=".595" stop-color="#005aff"/><stop offset=".6" stop-color="#0068ff"/><stop offset=".693" stop-color="#00ffff"/><stop offset=".7" stop-color="#10ffef"/><stop offset=".795" stop-color="#37ffc8"/><stop offset=".8" stop-color="#36ffc9"/><stop offset=".853" stop-color="#00ffff"/><stop offset=".895" stop-color="#00d4ff"/><stop offset=".995" stop-color="#003aff"/><stop offset="1" stop-color="#002fff"/></linearGradient>
<linearGradient id="b3"><stop offset="0" stop-color="#0000a8"/><stop offset=".138" stop-color="#0000ff"/><stop offset=".2" stop-color="#0028ff"/><stop offset=".3" stop-color="#0000fe"/><stop offset=".4" stop-color="#0000c5"/><stop offset=".481" stop-color="#0000b8"/><stop offset=".5" stop-color="#0000b8"/><stop offset=".541" stop-color="#0000ff"/><stop offset=".581" stop-color="#0046ff"/><stop offset=".6" stop-color="#007cff"/><stop offset=".681" stop-color="#01fffe"/><stop offset=".7" stop-color="#32ffcd"/><stop offset=".781" stop-color="#53ffac"/><stop offset=".8" stop-color="#4fffb0"/><stop offset=".877" stop-color="#00ffff"/><stop offset=".981" stop-color="#005eff"/><stop offset="1" stop-color="#0034ff"/></linearGradient>
<linearGradient id="b4"><stop offset="0" stop-color="#0000a8"/><stop offset=".067" stop-color="#0000d1"/><stop offset=".136" stop-color="#0000ff"/><stop offset=".2" stop-color="#002bff"/><stop offset=".303" stop-color="#0000ff"/><stop offset=".4" stop-color="#0000c7"/><stop offset=".467" stop-color="#0000bd"/><stop offset=".5" stop-color="#0000bd"/><stop offset=".538" stop-color="#0000ff"/><stop offset=".567" stop-color="#0031ff"/><stop offset=".6" stop-color="#0091ff"/><stop offset=".667" stop-color="#00ffff"/><stop offset=".7" stop-color="#54ffab"/><stop offset=".767" stop-color="#6fff90"/><stop offset=".8" stop-color="#68ff97"/><stop offset=".867" stop-color="#24ffdb"/><stop offset=".887" stop-color="#00ffff"/><stop offset=".9" stop-color="#00e9ff"/><stop offset=".967" stop-color="#0083ff"/><stop offset="1" stop-color="#0038ff"/></linearGradient>
<linearGradient id="b5"><stop offset="0" stop-color="#0000a8"/><stop offset=".052" stop-color="#0000c8"/><stop offset=".134" stop-color="#0000ff"/><stop offset=".2" stop-color="#002dff"/><stop offset=".308" stop-color="#0000ff"/><stop offset=".4" stop-color="#0000c9"/><stop offset=".452" stop-color="#0000c1"/><stop offset=".5" stop-color="#0000c1"/><stop offset=".536" stop-color="#0000ff"/><stop offset=".552" stop-color="#001dff"/><stop offset=".6" stop-color="#00a5ff"/><stop offset=".654" stop-color="#00ffff"/><stop offset=".7" stop-color="#75ff8a"/><stop offset=".752" stop-color="#8bff74"/><stop offset=".8" stop-color="#81ff7e"/><stop offset=".852" stop-color="#4cffb3"/><stop offset=".896" stop-color="#00ffff"/><stop offset=".952" stop-color="#00a8ff"/><stop offset="1" stop-color="#003dff"/></linearGradient>
<linearGradient id="b6"><stop offset="0" stop-color="#0000a8"/><stop offset=".038" stop-color="#0000bf"/><stop offset=".1" stop-color="#0000ec"/><stop offset=".131" stop-color="#0000ff"/><stop offset=".2" stop-color="#0030ff"/><stop offset=".3" stop-color="#0008ff"/><stop offset=".314" stop-color="#0000ff"/><stop offset=".4" stop-color="#0000cb"/><stop offset=".438" stop-color="#0000c6"/><stop offset=".5" stop-color="#0000c6"/><stop offset=".533" stop-color="#0000ff"/><stop offset=".538" stop-color="#0008ff"/><stop offset=".6" stop-color="#00baff"/><stop offset=".638" stop-color="#00f7ff"/><stop offset=".641" stop-color="#00ffff"/><stop offset=".7" stop-color="#97ff68"/><stop offset=".738" stop-color="#a6ff59"/><stop offset=".8" stop-color="#9aff65"/><stop offset=".838" stop-color="#73ff8c"/><stop offset=".905" stop-color="#00ffff"/><stop offset=".938" stop-color="#00cdff"/><stop offset="1" stop-color="#0041ff"/></linearGradient>
<linearGradient id="b7"><stop offset="0" stop-color="#0000a8"/><stop offset=".128" stop-color="#0000ff"/><stop offset=".2" stop-color="#0033ff"/><stop offset=".3" stop-color="#000bff"/><stop offset=".319" stop-color="#0000ff"/><stop offset=".4" stop-color="#0000ce"/><stop offset=".423" stop-color="#0000ca"/><stop offset=".5" stop-color="#0000ca"/><stop offset=".523" stop-color="#0000f2"/><stop offset=".528" stop-color="#0000ff"/><stop offset=".6" stop-color="#00ceff"/><stop offset=".623" stop-color="#00f4ff"/><stop offset=".628" stop-color="#00ffff"/><stop offset=".7" stop-color="#b9ff46"/><stop offset=".723" stop-color="#c2ff3d"/><stop offset=".8" stop-color="#b3ff4c"/><stop offset=".823" stop-color="#9bff64"/><stop offset=".9" stop-color="#16ffe9"/><stop offset=".914" stop-color="#00ffff"/><stop offset=".923" stop-color="#00f1ff"/><stop offset="1" stop-color="#0045ff"/></linearGradient>
<linearGradient id="b8"><stop offset="0" stop-color="#0000a8"/><stop offset=".124" stop-color="#0000ff"/><stop offset=".2" stop-color="#0036ff"/><stop offset=".323" stop-color="#0000ff"/><stop offset=".4" stop-color="#0000d0"/><stop offset=".5" stop-color="#0000ce"/><stop offset=".509" stop-color="#0000de"/><stop offset=".521" stop-color="#0000ff"/><stop offset=".6" stop-color="#00e3ff"/><stop offset=".609" stop-color="#00f2ff"/><stop offset=".614" stop-color="#00ffff"/><stop offset=".7" stop-color="#dbff24"/><stop offset=".709" stop-color="#deff21"/><stop offset=".8" stop-color="#ccff33"/><stop offset=".809" stop-color="#c3ff3c"/><stop offset=".909" stop-color="#17ffe8"/><stop offset=".919" stop-color="#00ffff"/><stop offset="1" stop-color="#004aff"/></linearGradient>
<linearGradient id="b9"><stop offset="0" stop-color="#0000a9"/><stop offset=".119" stop-color="#0000ff"/><stop offset=".2" stop-color="#003aff"/><stop offset=".3" stop-color="#0012ff"/><stop offset=".329" stop-color="#0000ff"/><stop offset=".4" stop-color="#0000d3"/><stop offset=".5" stop-color="#0000d4"/><stop offset=".515" stop-color="#0000ff"/><stop offset=".592" stop-color="#00dcff"/><stop offset=".603" stop-color="#00ffff"/><stop offset=".692" stop-color="#e3ff1c"/><stop offset=".7" stop-color="#fcff03"/><stop offset=".8" stop-color="#e6ff19"/><stop offset=".892" stop-color="#47ffb8"/><stop offset=".9" stop-color="#30ffcf"/><stop offset=".921" stop-color="#00ffff"/><stop offset="1" stop-color="#004eff"/></linearGradient>
<linearGradient id="b10"><stop offset="0" stop-color="#0000aa"/><stop offset=".07" stop-color="#0000dc"/><stop offset=".113" stop-color="#0000ff"/><stop offset=".2" stop-color="#003eff"/><stop offset=".27" stop-color="#0021ff"/><stop offset=".3" stop-color="#0018ff"/><stop offset=".34" stop-color="#0000ff"/><stop offset=".4" stop-color="#0000d9"/><stop offset=".47" stop-color="#0000d9"/><stop offset=".5" stop-color="#0000dd"/><stop offset=".512" stop-color="#0000ff"/><stop offset=".57" stop-color="#00a7ff"/><stop offset=".596" stop-color="#00ffff"/><stop offset=".6" stop-color="#0ffff0"/><stop offset=".67" stop-color="#c2ff3d"/><stop offset=".69" stop-color="#ffff00"/><stop offset=".7" stop-color="#ffe100"/><stop offset=".77" stop-color="#ffef00"/><stop offset=".8" stop-color="#fffb00"/><stop offset=".802" stop-color="#ffff00"/><stop offset=".87" stop-color="#89ff76"/><stop offset=".9" stop-color="#34ffcb"/><stop offset=".923" stop-color="#00ffff"/><stop offset="1" stop-color="#0053ff"/></linearGradient>
<linearGradient id="b11"><stop offset="0" stop-color="#0000ab"/><stop offset=".049" stop-color="#0000ce"/><stop offset=".107" stop-color="#0000ff"/><stop offset=".2" stop-color="#0043ff"/><stop offset=".249" stop-color="#002fff"/><stop offset=".3" stop-color="#001fff"/><stop offset=".35" stop-color="#0000ff"/><stop offset=".4" stop-color="#0000de"/><stop offset=".449" stop-color="#0000de"/><stop offset=".5" stop-color="#0000e6"/><stop offset=".509" stop-color="#0000ff"/><stop offset=".549" stop-color="#0072ff"/><stop offset=".589" stop-color="#00ffff"/><stop offset=".6" stop-color="#25ffda"/><stop offset=".649" stop-color="#a1ff5e"/><stop offset=".679" stop-color="#ffff00"/><stop offset=".7" stop-color="#ffc000"/><stop offset=".749" stop-color="#ffca00"/><stop offset=".8" stop-color="#ffdf00"/><stop offset=".819" stop-color="#ffff00"/><stop offset=".849" stop-color="#cbff34"/><stop offset=".9" stop-color="#38ffc7"/><stop offset=".925" stop-color="#00ffff"/><stop offset="1" stop-color="#0057ff"/></linearGradient>
<linearGradient id="b12"><stop offset="0" stop-color="#0000ac"/><stop offset=".027" stop-color="#0000bf"/><stop offset=".101" stop-color="#0000ff"/><stop offset=".2" stop-color="#0047ff"/><stop offset=".227" stop-color="#003cff"/><stop offset=".3" stop-color="#0026ff"/><stop offset=".359" stop-color="#0000ff"/><stop offset=".4" stop-color="#0000e4"/><stop offset=".427" stop-color="#0000e4"/><stop offset=".5" stop-color="#0000ef"/><stop offset=".506" stop-color="#0000ff"/><stop offset=".527" stop-color="#003dff"/><stop offset=".583" stop-color="#00ffff"/><stop offset=".6" stop-color="#3bffc4"/><stop offset=".627" stop-color="#80ff7f"/><stop offset=".669" stop-color="#ffff00"/><stop offset=".7" stop-color="#ff9f00"/><stop offset=".727" stop-color="#ffa400"/><stop offset=".8" stop-color="#ffc200"/><stop offset=".827" stop-color="#fff100"/><stop offset=".832" stop-color="#ffff00"/><stop offset=".9" stop-color="#3dffc2"/><stop offset=".927" stop-color="#00ffff"/><stop offset="1" stop-color="#005bff"/></linearGradient>
<linearGradient id="b13"><stop offset="0" stop-color="#0000ad"/><stop offset=".095" stop-color="#0000ff"/><stop offset=".2" stop-color="#004bff"/><stop offset=".306" stop-color="#0029ff"/><stop offset=".367" stop-color="#0000ff"/><stop offset=".4" stop-color="#0000e9"/><stop offset=".5" stop-color="#0000f8"/><stop offset=".503" stop-color="#0000ff"/><stop offset=".577" stop-color="#00ffff"/><stop offset=".6" stop-color="#51ffae"/><stop offset=".606" stop-color="#5fffa0"/><stop offset=".658" stop-color="#ffff00"/><stop offset=".7" stop-color="#ff7e00"/><stop offset=".8" stop-color="#ffa500"/><stop offset=".806" stop-color="#ffaf00"/><stop offset=".834" stop-color="#ffff00"/><stop offset=".9" stop-color="#41ffbe"/><stop offset=".929" stop-color="#00ffff"/><stop offset="1" stop-color="#0060ff"/></linearGradient>
<linearGradient id="b14"><stop offset="0" stop-color="#0000ae"/><stop offset=".092" stop-color="#0000ff"/><stop offset=".2" stop-color="#0050ff"/><stop offset=".3" stop-color="#0033ff"/><stop offset=".377" stop-color="#0000ff"/><stop offset=".4" stop-color="#0000ef"/><stop offset=".492" stop-color="#0000ff"/><stop offset=".5" stop-color="#0003ff"/><stop offset=".573" stop-color="#00ffff"/><stop offset=".584" stop-color="#27ffd8"/><stop offset=".6" stop-color="#67ff98"/><stop offset=".65" stop-color="#ffff00"/><stop offset=".684" stop-color="#ff9600"/><stop offset=".7" stop-color="#ff6200"/><stop offset=".784" stop-color="#ff8400"/><stop offset=".8" stop-color="#ff9e00"/><stop offset=".834" stop-color="#ffff00"/><stop offset=".9" stop-color="#44ffbb"/><stop offset=".93" stop-color="#00ffff"/><stop offset="1" stop-color="#0061ff"/></linearGradient>
<linearGradient id="b15"><stop offset="0" stop-color="#0000af"/><stop offset=".062" stop-color="#0000e5"/><stop offset=".087" stop-color="#0000ff"/><stop offset=".1" stop-color="#000dff"/><stop offset=".2" stop-color="#0054ff"/><stop offset=".262" stop-color="#0041ff"/><stop offset=".3" stop-color="#0039ff"/><stop offset=".385" stop-color="#0000ff"/><stop offset=".4" stop-color="#0000f4"/><stop offset=".465" stop-color="#0000ff"/><stop offset=".5" stop-color="#000eff"/><stop offset=".562" stop-color="#00e6ff"/><stop offset=".569" stop-color="#00ffff"/><stop offset=".6" stop-color="#7dff82"/><stop offset=".642" stop-color="#ffff00"/><stop offset=".662" stop-color="#ffc200"/><stop offset=".7" stop-color="#ff4700"/><stop offset=".762" stop-color="#ff6100"/><stop offset=".8" stop-color="#ff9e00"/><stop offset=".834" stop-color="#ffff00"/><stop offset=".9" stop-color="#46ffb9"/><stop offset=".931" stop-color="#00ffff"/><stop offset="1" stop-color="#0061ff"/></linearGradient>
<linearGradient id="b16"><stop offset="0" stop-color="#0000b0"/><stop offset=".041" stop-color="#0000d4"/><stop offset=".083" stop-color="#0000ff"/><stop offset=".1" stop-color="#0011ff"/><stop offset=".2" stop-color="#0059ff"/><stop offset=".241" stop-color="#004cff"/><stop offset=".3" stop-color="#0040ff"/><stop offset=".393" stop-color="#0000ff"/><stop offset=".4" stop-color="#0000fa"/><stop offset=".441" stop-color="#0001ff"/><stop offset=".5" stop-color="#0019ff"/><stop offset=".541" stop-color="#00a7ff"/><stop offset=".563" stop-color="#00ffff"/><stop offset=".6" stop-color="#93ff6c"/><stop offset=".635" stop-color="#ffff00"/><stop offset=".7" stop-color="#ff2d00"/><stop offset=".741" stop-color="#ff3d00"/><stop offset=".8" stop-color="#ff9e00"/><stop offset=".834" stop-color="#ffff00"/><stop offset=".9" stop-color="#48ffb7"/><stop offset=".932" stop-color="#00ffff"/><stop offset="1" stop-color="#0061ff"/></linearGradient>
<linearGradient id="b17"><stop offset="0" stop-color="#0000b2"/><stop offset=".019" stop-color="#0000c2"/><stop offset=".079" stop-color="#0000ff"/><stop offset=".1" stop-color="#0016ff"/><stop offset=".2" stop-color="#005dff"/><stop offset=".3" stop-color="#0047ff"/><stop offset=".4" stop-color="#0000ff"/><stop offset=".419" stop-color="#0003ff"/><stop offset=".5" stop-color="#0024ff"/><stop offset=".519" stop-color="#0067ff"/><stop offset=".557" stop-color="#00ffff"/><stop offset=".6" stop-color="#a9ff56"/><stop offset=".628" stop-color="#ffff00"/><stop offset=".7" stop-color="#ff1200"/><stop offset=".719" stop-color="#ff1a00"/><stop offset=".8" stop-color="#ff9e00"/><stop offset=".834" stop-color="#ffff00"/><stop offset=".9" stop-color="#4bffb4"/><stop offset=".933" stop-color="#00ffff"/><stop offset="1" stop-color="#0061ff"/></linearGradient>
<linearGradient id="b18"><stop offset="0" stop-color="#0000b3"/><stop offset=".075" stop-color="#0000ff"/><stop offset=".1" stop-color="#001aff"/><stop offset=".2" stop-color="#0062ff"/><stop offset=".3" stop-color="#004dff"/><stop offset=".4" stop-color="#0007ff"/><stop offset=".5" stop-color="#0030ff"/><stop offset=".552" stop-color="#00ffff"/><stop offset=".6" stop-color="#bfff40"/><stop offset=".62" stop-color="#ffff00"/><stop offset=".698" stop-color="#ff0000"/><stop offset=".7" stop-color="#f70000"/><stop offset=".705" stop-color="#ff0000"/><stop offset=".8" stop-color="#ff9e00"/><stop offset=".835" stop-color="#ffff00"/><stop offset=".9" stop-color="#4cffb3"/><stop offset=".932" stop-color="#00ffff"/><stop offset="1" stop-color="#0060ff"/></linearGradient>
<linearGradient id="b19"><stop offset="0" stop-color="#0000b4"/><stop offset=".074" stop-color="#0000ff"/><stop offset=".1" stop-color="#0020ff"/><stop offset=".2" stop-color="#0067ff"/><stop offset=".276" stop-color="#0057ff"/><stop offset=".3" stop-color="#0056ff"/><stop offset=".376" stop-color="#0020ff"/><stop offset=".4" stop-color="#0014ff"/><stop offset=".476" stop-color="#0033ff"/><stop offset=".5" stop-color="#0041ff"/><stop offset=".548" stop-color="#00ffff"/><stop offset=".6" stop-color="#d0ff2f"/><stop offset=".614" stop-color="#ffff00"/><stop offset=".676" stop-color="#ff3600"/><stop offset=".691" stop-color="#ff0000"/><stop offset=".7" stop-color="#dd0000"/><stop offset=".721" stop-color="#ff0000"/><stop offset=".776" stop-color="#ff5a00"/><stop offset=".835" stop-color="#ffff00"/><stop offset=".876" stop-color="#8eff71"/><stop offset=".9" stop-color="#48ffb7"/><stop offset=".931" stop-color="#00ffff"/><stop offset="1" stop-color="#005cff"/></linearGradient>
<linearGradient id="b20"><stop offset="0" stop-color="#0000b5"/><stop offset=".054" stop-color="#0000ec"/><stop offset=".07" stop-color="#0000ff"/><stop offset=".1" stop-color="#0025ff"/><stop offset=".2" stop-color="#006dff"/><stop offset=".254" stop-color="#0061ff"/><stop offset=".3" stop-color="#005fff"/><stop offset=".354" stop-color="#0038ff"/><stop offset=".4" stop-color="#0021ff"/><stop offset=".454" stop-color="#0037ff"/><stop offset=".5" stop-color="#0053ff"/><stop offset=".543" stop-color="#00ffff"/><stop offset=".6" stop-color="#e2ff1d"/><stop offset=".609" stop-color="#ffff00"/><stop offset=".654" stop-color="#ff6a00"/><stop offset=".683" stop-color="#ff0000"/><stop offset=".7" stop-color="#c20000"/><stop offset=".737" stop-color="#ff0000"/><stop offset=".754" stop-color="#ff1c00"/><stop offset=".835" stop-color="#ffff00"/><stop offset=".854" stop-color="#caff35"/><stop offset=".9" stop-color="#43ffbc"/><stop offset=".929" stop-color="#00ffff"/><stop offset="1" stop-color="#0058ff"/></linearGradient>
<linearGradient id="b21"><stop offset="0" stop-color="#0000b6"/><stop offset=".033" stop-color="#0000d7"/><stop offset=".065" stop-color="#0000ff"/><stop offset=".1" stop-color="#002bff"/><stop offset=".2" stop-color="#0072ff"/><stop offset=".233" stop-color="#006bff"/><stop offset=".3" stop-color="#0068ff"/><stop offset=".333" stop-color="#0050ff"/><stop offset=".4" stop-color="#002eff"/><stop offset=".433" stop-color="#003cff"/><stop offset=".5" stop-color="#0065ff"/><stop offset=".539" stop-color="#00ffff"/><stop offset=".604" stop-color="#ffff00"/><stop offset=".633" stop-color="#ff9f00"/><stop offset=".676" stop-color="#ff0000"/><stop offset=".7" stop-color="#a80000"/><stop offset=".733" stop-color="#dd0000"/><stop offset=".745" stop-color="#ff0000"/><stop offset=".835" stop-color="#ffff00"/><stop offset=".9" stop-color="#3fffc0"/><stop offset=".927" stop-color="#00ffff"/><stop offset="1" stop-color="#0053ff"/></linearGradient>
<linearGradient id="b22"><stop offset="0" stop-color="#0000b7"/><stop offset=".061" stop-color="#0000ff"/><stop offset=".1" stop-color="#0030ff"/><stop offset=".2" stop-color="#0078ff"/><stop offset=".211" stop-color="#0075ff"/><stop offset=".3" stop-color="#0071ff"/><stop offset=".4" stop-color="#003bff"/><stop offset=".5" stop-color="#0076ff"/><stop offset=".534" stop-color="#00ffff"/><stop offset=".598" stop-color="#ffff00"/><stop offset=".611" stop-color="#ffd400"/><stop offset=".669" stop-color="#ff0000"/><stop offset=".7" stop-color="#8d0000"/><stop offset=".711" stop-color="#a00000"/><stop offset=".745" stop-color="#ff0000"/><stop offset=".811" stop-color="#ffbd00"/><stop offset=".834" stop-color="#ffff00"/><stop offset=".9" stop-color="#3affc5"/><stop offset=".925" stop-color="#00ffff"/><stop offset="1" stop-color="#004fff"/></linearGradient>
<linearGradient id="b23"><stop offset="0" stop-color="#0000b8"/><stop offset=".058" stop-color="#0000ff"/><stop offset=".1" stop-color="#0036ff"/><stop offset=".2" stop-color="#007dff"/><stop offset=".29" stop-color="#0078ff"/><stop offset=".3" stop-color="#007aff"/><stop offset=".39" stop-color="#004cff"/><stop offset=".4" stop-color="#0049ff"/><stop offset=".5" stop-color="#0085ff"/><stop offset=".531" stop-color="#00ffff"/><stop offset=".594" stop-color="#ffff00"/><stop offset=".6" stop-color="#ffe600"/><stop offset=".663" stop-color="#ff0000"/><stop offset=".69" stop-color="#9c0000"/><stop offset=".7" stop-color="#840000"/><stop offset=".743" stop-color="#ff0000"/><stop offset=".79" stop-color="#ff8500"/><stop offset=".83" stop-color="#ffff00"/><stop offset=".89" stop-color="#4fffb0"/><stop offset=".9" stop-color="#33ffcc"/><stop offset=".922" stop-color="#00ffff"/><stop offset="1" stop-color="#0047ff"/></linearGradient>
<linearGradient id="b24"><stop offset="0" stop-color="#0000b9"/><stop offset=".057" stop-color="#0000ff"/><stop offset=".1" stop-color="#003bff"/><stop offset=".2" stop-color="#0083ff"/><stop offset=".268" stop-color="#007fff"/><stop offset=".3" stop-color="#0082ff"/><stop offset=".368" stop-color="#0060ff"/><stop offset=".4" stop-color="#0056ff"/><stop offset=".468" stop-color="#0080ff"/><stop offset=".5" stop-color="#0090ff"/><stop offset=".528" stop-color="#00ffff"/><stop offset=".568" stop-color="#a0ff5f"/><stop offset=".59" stop-color="#ffff00"/><stop offset=".6" stop-color="#ffd200"/><stop offset=".657" stop-color="#ff0000"/><stop offset=".668" stop-color="#d70000"/><stop offset=".7" stop-color="#8d0000"/><stop offset=".74" stop-color="#ff0000"/><stop offset=".768" stop-color="#ff5000"/><stop offset=".8" stop-color="#ffb500"/><stop offset=".825" stop-color="#ffff00"/><stop offset=".868" stop-color="#80ff7f"/><stop offset=".9" stop-color="#28ffd7"/><stop offset=".917" stop-color="#00ffff"/><stop offset="1" stop-color="#003cff"/></linearGradient>
<linearGradient id="b25"><stop offset="0" stop-color="#0000ba"/><stop offset=".055" stop-color="#0000ff"/><stop offset=".1" stop-color="#0041ff"/><stop offset=".2" stop-color="#0088ff"/><stop offset=".247" stop-color="#0086ff"/><stop offset=".3" stop-color="#008bff"/><stop offset=".347" stop-color="#0073ff"/><stop offset=".4" stop-color="#0063ff"/><stop offset=".447" stop-color="#0080ff"/><stop offset=".5" stop-color="#009bff"/><stop offset=".525" stop-color="#00ffff"/><stop offset=".547" stop-color="#55ffaa"/><stop offset=".585" stop-color="#ffff00"/><stop offset=".6" stop-color="#ffbf00"/><stop offset=".647" stop-color="#ff1400"/><stop offset=".655" stop-color="#ff0000"/><stop offset=".7" stop-color="#950000"/><stop offset=".737" stop-color="#ff0000"/><stop offset=".747" stop-color="#ff1b00"/><stop offset=".8" stop-color="#ffc400"/><stop offset=".82" stop-color="#ffff00"/><stop offset=".847" stop-color="#b0ff4f"/><stop offset=".9" stop-color="#1dffe2"/><stop offset=".912" stop-color="#00ffff"/><stop offset="1" stop-color="#0031ff"/></linearGradient>
<linearGradient id="b26"><stop offset="0" stop-color="#0000bb"/><stop offset=".025" stop-color="#0000da"/><stop offset=".051" stop-color="#0000ff"/><stop offset=".1" stop-color="#0046ff"/><stop offset=".2" stop-color="#008eff"/><stop offset=".225" stop-color="#008cff"/><stop offset=".3" stop-color="#0094ff"/><stop offset=".325" stop-color="#0087ff"/><stop offset=".4" stop-color="#0070ff"/><stop offset=".425" stop-color="#0080ff"/><stop offset=".5" stop-color="#00a6ff"/><stop offset=".522" stop-color="#00ffff"/><stop offset=".581" stop-color="#ffff00"/><stop offset=".6" stop-color="#ffab00"/><stop offset=".625" stop-color="#ff4f00"/><stop offset=".659" stop-color="#ff0000"/><stop offset=".7" stop-color="#9e0000"/><stop offset=".725" stop-color="#e50000"/><stop offset=".733" stop-color="#ff0000"/><stop offset=".8" stop-color="#ffd400"/><stop offset=".815" stop-color="#ffff00"/><stop offset=".9" stop-color="#12ffed"/><stop offset=".908" stop-color="#00ffff"/><stop offset="1" stop-color="#0026ff"/></linearGradient>
<linearGradient id="b27"><stop offset="0" stop-color="#0000bd"/><stop offset=".047" stop-color="#0000ff"/><stop offset=".1" stop-color="#004cff"/><stop offset=".2" stop-color="#0093ff"/><stop offset=".3" stop-color="#009dff"/><stop offset=".4" stop-color="#007dff"/><stop offset=".5" stop-color="#00b1ff"/><stop offset=".518" stop-color="#00ffff"/><stop offset=".576" stop-color="#ffff00"/><stop offset=".6" stop-color="#ff9700"/><stop offset=".663" stop-color="#ff0000"/><stop offset=".7" stop-color="#a70000"/><stop offset=".728" stop-color="#ff0000"/><stop offset=".8" stop-color="#ffe300"/><stop offset=".81" stop-color="#ffff00"/><stop offset=".903" stop-color="#00ffff"/><stop offset="1" stop-color="#001bff"/></linearGradient>
<linearGradient id="b28"><stop offset="0" stop-color="#0000bd"/><stop offset=".046" stop-color="#0000ff"/><stop offset=".1" stop-color="#004eff"/><stop offset=".2" stop-color="#0097ff"/><stop offset=".3" stop-color="#00a3ff"/><stop offset=".382" stop-color="#008aff"/><stop offset=".4" stop-color="#0087ff"/><stop offset=".5" stop-color="#00b8ff"/><stop offset=".516" stop-color="#00ffff"/><stop offset=".574" stop-color="#ffff00"/><stop offset=".6" stop-color="#ff8e00"/><stop offset=".661" stop-color="#ff0000"/><stop offset=".682" stop-color="#ce0000"/><stop offset=".7" stop-color="#b30000"/><stop offset=".724" stop-color="#ff0000"/><stop offset=".782" stop-color="#ffb700"/><stop offset=".803" stop-color="#ffff00"/><stop offset=".882" stop-color="#27ffd8"/><stop offset=".898" stop-color="#00ffff"/><stop offset="1" stop-color="#0010ff"/></linearGradient>
<linearGradient id="b29"><stop offset="0" stop-color="#0000bd"/><stop offset=".046" stop-color="#0000ff"/><stop offset=".1" stop-color="#0051ff"/><stop offset=".2" stop-color="#009aff"/><stop offset=".26" stop-color="#00a0ff"/><stop offset=".3" stop-color="#00a8ff"/><stop offset=".36" stop-color="#0096ff"/><stop offset=".4" stop-color="#0090ff"/><stop offset=".5" stop-color="#00bfff"/><stop offset=".515" stop-color="#00ffff"/><stop offset=".573" stop-color="#ffff00"/><stop offset=".6" stop-color="#ff8800"/><stop offset=".658" stop-color="#ff0000"/><stop offset=".7" stop-color="#c10000"/><stop offset=".72" stop-color="#ff0000"/><stop offset=".76" stop-color="#ff8000"/><stop offset=".797" stop-color="#ffff00"/><stop offset=".8" stop-color="#f4ff0b"/><stop offset=".86" stop-color="#4effb1"/><stop offset=".894" stop-color="#00ffff"/><stop offset="1" stop-color="#0005ff"/></linearGradient>
<linearGradient id="b30"><stop offset="0" stop-color="#0000bd"/><stop offset=".046" stop-color="#0000ff"/><stop offset=".1" stop-color="#0053ff"/><stop offset=".2" stop-color="#009dff"/><stop offset=".239" stop-color="#00a1ff"/><stop offset=".3" stop-color="#00aeff"/><stop offset=".339" stop-color="#00a2ff"/><stop offset=".4" stop-color="#0099ff"/><stop offset=".439" stop-color="#00acff"/><stop offset=".5" stop-color="#00c5ff"/><stop offset=".513" stop-color="#00ffff"/><stop offset=".571" stop-color="#ffff00"/><stop offset=".6" stop-color="#ff8100"/><stop offset=".639" stop-color="#ff2700"/><stop offset=".666" stop-color="#ff0000"/><stop offset=".7" stop-color="#ce0000"/><stop offset=".716" stop-color="#ff0000"/><stop offset=".739" stop-color="#ff4900"/><stop offset=".791" stop-color="#ffff00"/><stop offset=".8" stop-color="#e0ff1f"/><stop offset=".839" stop-color="#76ff89"/><stop offset=".889" stop-color="#00ffff"/><stop offset=".998" stop-color="#0000ff"/><stop offset="1" stop-color="#0000f9"/></linearGradient>
<linearGradient id="b31"><stop offset="0" stop-color="#0000bd"/><stop offset=".044" stop-color="#0000ff"/><stop offset=".1" stop-color="#0055ff"/><stop offset=".2" stop-color="#00a1ff"/><stop offset=".217" stop-color="#00a2ff"/><stop offset=".3" stop-color="#00b3ff"/><stop offset=".4" stop-color="#00a1ff"/><stop offset=".5" stop-color="#00ccff"/><stop offset=".512" stop-color="#00ffff"/><stop offset=".57" stop-color="#ffff00"/><stop offset=".6" stop-color="#ff7b00"/><stop offset=".617" stop-color="#ff5300"/><stop offset=".675" stop-color="#ff0000"/><stop offset=".7" stop-color="#db0000"/><stop offset=".711" stop-color="#ff0000"/><stop offset=".785" stop-color="#ffff00"/><stop offset=".8" stop-color="#ccff33"/><stop offset=".817" stop-color="#9dff62"/><stop offset=".884" stop-color="#00ffff"/><stop offset=".993" stop-color="#0000ff"/><stop offset="1" stop-color="#0000ee"/></linearGradient>
<linearGradient id="b32"><stop offset="0" stop-color="#0000bd"/><stop offset=".043" stop-color="#0000ff"/><stop offset=".1" stop-color="#0057ff"/><stop offset=".2" stop-color="#00a4ff"/><stop offset=".3" stop-color="#00b9ff"/><stop offset=".4" stop-color="#00aaff"/><stop offset=".5" stop-color="#00d3ff"/><stop offset=".51" stop-color="#00ffff"/><stop offset=".568" stop-color="#ffff00"/><stop offset=".6" stop-color="#ff7600"/><stop offset=".683" stop-color="#ff0000"/><stop offset=".7" stop-color="#e80000"/><stop offset=".707" stop-color="#ff0000"/><stop offset=".78" stop-color="#ffff00"/><stop offset=".8" stop-color="#b8ff47"/><stop offset=".879" stop-color="#00ffff"/><stop offset=".988" stop-color="#0000ff"/><stop offset="1" stop-color="#0000e5"/></linearGradient>
<linearGradient id="b33"><stop offset="0" stop-color="#0000be"/><stop offset=".042" stop-color="#0000ff"/><stop offset=".1" stop-color="#0059ff"/><stop offset=".2" stop-color="#00a7ff"/><stop offset=".3" stop-color="#00beff"/><stop offset=".374" stop-color="#00b3ff"/><stop offset=".4" stop-color="#00b3ff"/><stop offset=".5" stop-color="#00d9ff"/><stop offset=".509" stop-color="#00ffff"/><stop offset=".567" stop-color="#ffff00"/><stop offset=".574" stop-color="#ffe000"/><stop offset=".6" stop-color="#ff7b00"/><stop offset=".674" stop-color="#ff1100"/><stop offset=".691" stop-color="#ff0000"/><stop offset=".7" stop-color="#f60000"/><stop offset=".703" stop-color="#ff0000"/><stop offset=".776" stop-color="#ffff00"/><stop offset=".8" stop-color="#a5ff5a"/><stop offset=".87" stop-color="#00ffff"/><stop offset=".9" stop-color="#00c4ff"/><stop offset=".974" stop-color="#0017ff"/><stop offset=".985" stop-color="#0000ff"/><stop offset="1" stop-color="#0000e0"/></linearGradient>
<linearGradient id="b34"><stop offset="0" stop-color="#0000bf"/><stop offset=".042" stop-color="#0000ff"/><stop offset=".1" stop-color="#005cff"/><stop offset=".2" stop-color="#00abff"/><stop offset=".252" stop-color="#00b5ff"/><stop offset=".3" stop-color="#00c4ff"/><stop offset=".352" stop-color="#00bcff"/><stop offset=".4" stop-color="#00bcff"/><stop offset=".452" stop-color="#00d1ff"/><stop offset=".5" stop-color="#00e0ff"/><stop offset=".507" stop-color="#00ffff"/><stop offset=".552" stop-color="#c6ff39"/><stop offset=".567" stop-color="#ffff00"/><stop offset=".6" stop-color="#ff7f00"/><stop offset=".652" stop-color="#ff3400"/><stop offset=".7" stop-color="#ff0400"/><stop offset=".752" stop-color="#ffb900"/><stop offset=".771" stop-color="#ffff00"/><stop offset=".8" stop-color="#91ff6e"/><stop offset=".852" stop-color="#16ffe9"/><stop offset=".864" stop-color="#00ffff"/><stop offset=".9" stop-color="#00b9ff"/><stop offset=".952" stop-color="#003eff"/><stop offset=".983" stop-color="#0000ff"/><stop offset="1" stop-color="#0000dc"/></linearGradient>
<linearGradient id="b35"><stop offset="0" stop-color="#0000c0"/><stop offset=".041" stop-color="#0000ff"/><stop offset=".1" stop-color="#005eff"/><stop offset=".2" stop-color="#00aeff"/><stop offset=".231" stop-color="#00b4ff"/><stop offset=".3" stop-color="#00c9ff"/><stop offset=".331" stop-color="#00c5ff"/><stop offset=".4" stop-color="#00c5ff"/><stop offset=".5" stop-color="#00e6ff"/><stop offset=".506" stop-color="#00ffff"/><stop offset=".531" stop-color="#6eff91"/><stop offset=".568" stop-color="#ffff00"/><stop offset=".6" stop-color="#ff8300"/><stop offset=".631" stop-color="#ff5800"/><stop offset=".7" stop-color="#ff1100"/><stop offset=".731" stop-color="#ff7b00"/><stop offset=".766" stop-color="#ffff00"/><stop offset=".8" stop-color="#7dff82"/><stop offset=".831" stop-color="#35ffca"/><stop offset=".858" stop-color="#00ffff"/><stop offset=".9" stop-color="#00aeff"/><stop offset=".931" stop-color="#0066ff"/><stop offset=".981" stop-color="#0000ff"/><stop offset="1" stop-color="#0000d7"/></linearGradient>
<linearGradient id="b36"><stop offset="0" stop-color="#0000c1"/><stop offset=".039" stop-color="#0000ff"/><stop offset=".1" stop-color="#0060ff"/><stop offset=".2" stop-color="#00b1ff"/><stop offset=".3" stop-color="#00cfff"/><stop offset=".4" stop-color="#00cdff"/><stop offset=".5" stop-color="#00edff"/><stop offset=".504" stop-color="#00ffff"/><stop offset=".509" stop-color="#16ffe9"/><stop offset=".569" stop-color="#ffff00"/><stop offset=".6" stop-color="#ff8800"/><stop offset=".609" stop-color="#ff7b00"/><stop offset=".7" stop-color="#ff1e00"/><stop offset=".76" stop-color="#ffff00"/><stop offset=".8" stop-color="#69ff96"/><stop offset=".809" stop-color="#54ffab"/><stop offset=".852" stop-color="#00ffff"/><stop offset=".9" stop-color="#00a3ff"/><stop offset=".909" stop-color="#008dff"/><stop offset=".978" stop-color="#0000ff"/><stop offset="1" stop-color="#0000d3"/></linearGradient>
<linearGradient id="b37"><stop offset="0" stop-color="#0000c2"/><stop offset=".038" stop-color="#0000ff"/><stop offset=".1" stop-color="#0062ff"/><stop offset=".2" stop-color="#00b4ff"/><stop offset=".3" stop-color="#00d4ff"/><stop offset=".4" stop-color="#00d3ff"/><stop offset=".5" stop-color="#00f0ff"/><stop offset=".504" stop-color="#00ffff"/><stop offset=".57" stop-color="#ffff00"/><stop offset=".6" stop-color="#ff8c00"/><stop offset=".687" stop-color="#ff3300"/><stop offset=".7" stop-color="#ff2d00"/><stop offset=".756" stop-color="#ffff00"/><stop offset=".8" stop-color="#58ffa7"/><stop offset=".845" stop-color="#00ffff"/><stop offset=".9" stop-color="#0096ff"/><stop offset=".974" stop-color="#0000ff"/><stop offset=".987" stop-color="#0000e3"/><stop offset="1" stop-color="#0000cf"/></linearGradient>
<linearGradient id="b38"><stop offset="0" stop-color="#0000c4"/><stop offset=".038" stop-color="#0000ff"/><stop offset=".1" stop-color="#0064ff"/><stop offset=".2" stop-color="#00b8ff"/><stop offset=".3" stop-color="#00d8ff"/><stop offset=".4" stop-color="#00d6ff"/><stop offset=".466" stop-color="#00eaff"/><stop offset=".5" stop-color="#00f0ff"/><stop offset=".504" stop-color="#00ffff"/><stop offset=".57" stop-color="#ffff00"/><stop offset=".6" stop-color="#ff9100"/><stop offset=".666" stop-color="#ff4d00"/><stop offset=".7" stop-color="#ff3c00"/><stop offset=".752" stop-color="#ffff00"/><stop offset=".8" stop-color="#49ffb6"/><stop offset=".837" stop-color="#00ffff"/><stop offset=".9" stop-color="#0089ff"/><stop offset=".968" stop-color="#0000ff"/><stop offset="1" stop-color="#0000ca"/></linearGradient>
<linearGradient id="b39"><stop offset="0" stop-color="#0000c5"/><stop offset=".037" stop-color="#0000ff"/><stop offset=".1" stop-color="#0067ff"/><stop offset=".2" stop-color="#00bbff"/><stop offset=".3" stop-color="#00dcff"/><stop offset=".4" stop-color="#00daff"/><stop offset=".444" stop-color="#00e7ff"/><stop offset=".5" stop-color="#00f0ff"/><stop offset=".504" stop-color="#00ffff"/><stop offset=".544" stop-color="#9cff63"/><stop offset=".571" stop-color="#ffff00"/><stop offset=".6" stop-color="#ff9500"/><stop offset=".644" stop-color="#ff6800"/><stop offset=".7" stop-color="#ff4b00"/><stop offset=".748" stop-color="#ffff00"/><stop offset=".8" stop-color="#39ffc6"/><stop offset=".829" stop-color="#00ffff"/><stop offset=".9" stop-color="#007cff"/><stop offset=".944" stop-color="#0022ff"/><stop offset=".965" stop-color="#0000ff"/><stop offset="1" stop-color="#0000c6"/></linearGradient>
<linearGradient id="b40"><stop offset="0" stop-color="#0000c6"/><stop offset=".036" stop-color="#0000ff"/><stop offset=".1" stop-color="#0069ff"/><stop offset=".2" stop-color="#00beff"/><stop offset=".3" stop-color="#00e1ff"/><stop offset=".4" stop-color="#00ddff"/><stop offset=".423" stop-color="#00e4ff"/><stop offset=".5" stop-color="#00f0ff"/><stop offset=".504" stop-color="#00ffff"/><stop offset=".523" stop-color="#49ffb6"/><stop offset=".572" stop-color="#ffff00"/><stop offset=".6" stop-color="#ff9900"/><stop offset=".623" stop-color="#ff8200"/><stop offset=".7" stop-color="#ff5b00"/><stop offset=".743" stop-color="#ffff00"/><stop offset=".8" stop-color="#2affd5"/><stop offset=".822" stop-color="#00ffff"/><stop offset=".9" stop-color="#006fff"/><stop offset=".923" stop-color="#0040ff"/><stop offset=".962" stop-color="#0000ff"/><stop offset="1" stop-color="#0000c1"/></linearGradient>
<linearGradient id="b41"><stop offset="0" stop-color="#0000c7"/><stop offset=".034" stop-color="#0000ff"/><stop offset=".1" stop-color="#006bff"/><stop offset=".2" stop-color="#00c2ff"/><stop offset=".3" stop-color="#00e5ff"/><stop offset=".4" stop-color="#00e0ff"/><stop offset=".5" stop-color="#00f0ff"/><stop offset=".504" stop-color="#00ffff"/><stop offset=".574" stop-color="#ffff00"/><stop offset=".6" stop-color="#ff9e00"/><stop offset=".7" stop-color="#ff6a00"/><stop offset=".739" stop-color="#ffff00"/><stop offset=".8" stop-color="#1affe5"/><stop offset=".814" stop-color="#00ffff"/><stop offset=".9" stop-color="#0062ff"/><stop offset=".96" stop-color="#0000ff"/><stop offset="1" stop-color="#0000bd"/></linearGradient>
<linearGradient id="b42"><stop offset="0" stop-color="#0000c7"/><stop offset=".034" stop-color="#0000ff"/><stop offset=".1" stop-color="#006dff"/><stop offset=".2" stop-color="#00c5ff"/><stop offset=".28" stop-color="#00e1ff"/><stop offset=".3" stop-color="#00ebff"/><stop offset=".4" stop-color="#00e5ff"/><stop offset=".48" stop-color="#00f1ff"/><stop offset=".5" stop-color="#00ecff"/><stop offset=".505" stop-color="#00ffff"/><stop offset=".575" stop-color="#ffff00"/><stop offset=".58" stop-color="#ffed00"/><stop offset=".6" stop-color="#ffab00"/><stop offset=".68" stop-color="#ff8200"/><stop offset=".7" stop-color="#ff8f00"/><stop offset=".73" stop-color="#ffff00"/><stop offset=".78" stop-color="#43ffbc"/><stop offset=".8" stop-color="#15ffea"/><stop offset=".812" stop-color="#00ffff"/><stop offset=".88" stop-color="#0082ff"/><stop offset=".9" stop-color="#0056ff"/><stop offset=".953" stop-color="#0000ff"/><stop offset=".98" stop-color="#0000d4"/><stop offset="1" stop-color="#0000ba"/></linearGradient>
<linearGradient id="b43"><stop offset="0" stop-color="#0000c7"/><stop offset=".034" stop-color="#0000ff"/><stop offset=".1" stop-color="#006fff"/><stop offset=".2" stop-color="#00c8ff"/><stop offset=".258" stop-color="#00ddff"/><stop offset=".3" stop-color="#00f0ff"/><stop offset=".4" stop-color="#00e9ff"/><stop offset=".458" stop-color="#00f2ff"/><stop offset=".5" stop-color="#00e7ff"/><stop offset=".507" stop-color="#00ffff"/><stop offset=".558" stop-color="#bdff42"/><stop offset=".578" stop-color="#ffff00"/><stop offset=".6" stop-color="#ffb800"/><stop offset=".658" stop-color="#ff9a00"/><stop offset=".7" stop-color="#ffb400"/><stop offset=".72" stop-color="#ffff00"/><stop offset=".758" stop-color="#6fff90"/><stop offset=".8" stop-color="#11ffee"/><stop offset=".809" stop-color="#00ffff"/><stop offset=".858" stop-color="#00a6ff"/><stop offset=".9" stop-color="#004bff"/><stop offset=".946" stop-color="#0000ff"/><stop offset=".958" stop-color="#0000ec"/><stop offset="1" stop-color="#0000b6"/></linearGradient>
<linearGradient id="b44"><stop offset="0" stop-color="#0000c7"/><stop offset=".034" stop-color="#0000ff"/><stop offset=".1" stop-color="#0072ff"/><stop offset=".2" stop-color="#00ccff"/><stop offset=".236" stop-color="#00d9ff"/><stop offset=".3" stop-color="#00f6ff"/><stop offset=".4" stop-color="#00edff"/><stop offset=".436" stop-color="#00f3ff"/><stop offset=".5" stop-color="#00e3ff"/><stop offset=".508" stop-color="#00ffff"/><stop offset=".536" stop-color="#69ff96"/><stop offset=".582" stop-color="#ffff00"/><stop offset=".6" stop-color="#ffc500"/><stop offset=".636" stop-color="#ffb200"/><stop offset=".7" stop-color="#ffd900"/><stop offset=".71" stop-color="#ffff00"/><stop offset=".736" stop-color="#9bff64"/><stop offset=".8" stop-color="#0dfff2"/><stop offset=".807" stop-color="#00ffff"/><stop offset=".836" stop-color="#00c9ff"/><stop offset=".9" stop-color="#0040ff"/><stop offset=".94" stop-color="#0000ff"/><stop offset="1" stop-color="#0000b3"/></linearGradient>
<linearGradient id="b45"><stop offset="0" stop-color="#0000c7"/><stop offset=".033" stop-color="#0000ff"/><stop offset=".1" stop-color="#0074ff"/><stop offset=".2" stop-color="#00cfff"/><stop offset=".3" stop-color="#00fbff"/><stop offset=".4" stop-color="#00f2ff"/><stop offset=".415" stop-color="#00f4ff"/><stop offset=".5" stop-color="#00deff"/><stop offset=".509" stop-color="#00ffff"/><stop offset=".515" stop-color="#16ffe9"/><stop offset=".586" stop-color="#ffff00"/><stop offset=".6" stop-color="#ffd200"/><stop offset=".615" stop-color="#ffcb00"/><stop offset=".7" stop-color="#ffff00"/><stop offset=".715" stop-color="#c7ff38"/><stop offset=".804" stop-color="#00ffff"/><stop offset=".815" stop-color="#00ecff"/><stop offset=".9" stop-color="#0035ff"/><stop offset=".915" stop-color="#001dff"/><stop offset=".938" stop-color="#0000ff"/><stop offset="1" stop-color="#0000b0"/></linearGradient>
<linearGradient id="b46"><stop offset="0" stop-color="#0000c7"/><stop offset=".033" stop-color="#0000ff"/><stop offset=".1" stop-color="#0075ff"/><stop offset=".2" stop-color="#00d1ff"/><stop offset=".3" stop-color="#00ffff"/><stop offset=".4" stop-color="#00f4ff"/><stop offset=".5" stop-color="#00d9ff"/><stop offset=".512" stop-color="#00ffff"/><stop offset=".59" stop-color="#ffff00"/><stop offset=".6" stop-color="#ffe200"/><stop offset=".648" stop-color="#ffff00"/><stop offset=".7" stop-color="#dfff20"/><stop offset=".793" stop-color="#0efff1"/><stop offset=".801" stop-color="#00ffff"/><stop offset=".9" stop-color="#002bff"/><stop offset=".934" stop-color="#0000ff"/><stop offset="1" stop-color="#0000ac"/></linearGradient>
<linearGradient id="b47"><stop offset="0" stop-color="#0000c5"/><stop offset=".033" stop-color="#0000ff"/><stop offset=".1" stop-color="#0075ff"/><stop offset=".2" stop-color="#00d1ff"/><stop offset=".3" stop-color="#00ffff"/><stop offset=".372" stop-color="#00f8ff"/><stop offset=".472" stop-color="#00deff"/><stop offset=".5" stop-color="#00d0ff"/><stop offset=".514" stop-color="#00ffff"/><stop offset=".572" stop-color="#baff45"/><stop offset=".596" stop-color="#ffff00"/><stop offset=".6" stop-color="#fff500"/><stop offset=".616" stop-color="#ffff00"/><stop offset=".7" stop-color="#cbff34"/><stop offset=".772" stop-color="#2bffd4"/><stop offset=".795" stop-color="#00ffff"/><stop offset=".9" stop-color="#0022ff"/><stop offset=".927" stop-color="#0000ff"/><stop offset=".972" stop-color="#0000c6"/><stop offset="1" stop-color="#0000a9"/></linearGradient>
<linearGradient id="b48"><stop offset="0" stop-color="#0000c4"/><stop offset=".034" stop-color="#0000ff"/><stop offset=".1" stop-color="#0075ff"/><stop offset=".2" stop-color="#00d1ff"/><stop offset=".3" stop-color="#00ffff"/><stop offset=".35" stop-color="#00faff"/><stop offset=".45" stop-color="#00e0ff"/><stop offset=".5" stop-color="#00c7ff"/><stop offset=".517" stop-color="#00ffff"/><stop offset=".55" stop-color="#6bff94"/><stop offset=".6" stop-color="#f5ff0a"/><stop offset=".7" stop-color="#b8ff47"/><stop offset=".75" stop-color="#47ffb8"/><stop offset=".789" stop-color="#00ffff"/><stop offset=".8" stop-color="#00ebff"/><stop offset=".85" stop-color="#007fff"/><stop offset=".9" stop-color="#001aff"/><stop offset=".92" stop-color="#0000ff"/><stop offset=".95" stop-color="#0000d9"/><stop offset="1" stop-color="#0000a6"/></linearGradient>
<linearGradient id="b49"><stop offset="0" stop-color="#0000c3"/><stop offset=".034" stop-color="#0000ff"/><stop offset=".1" stop-color="#0075ff"/><stop offset=".2" stop-color="#00d1ff"/><stop offset=".3" stop-color="#00ffff"/><stop offset=".328" stop-color="#00fcff"/><stop offset=".428" stop-color="#00e3ff"/><stop offset=".5" stop-color="#00beff"/><stop offset=".52" stop-color="#00ffff"/><stop offset=".528" stop-color="#1cffe3"/><stop offset=".6" stop-color="#e1ff1e"/><stop offset=".7" stop-color="#a4ff5b"/><stop offset=".728" stop-color="#64ff9b"/><stop offset=".783" stop-color="#00ffff"/><stop offset=".8" stop-color="#00e0ff"/><stop offset=".828" stop-color="#00a3ff"/><stop offset=".9" stop-color="#0011ff"/><stop offset=".913" stop-color="#0000ff"/><stop offset=".928" stop-color="#0000eb"/><stop offset="1" stop-color="#0000a2"/></linearGradient>
<linearGradient id="b50"><stop offset="0" stop-color="#0000c2"/><stop offset=".034" stop-color="#0000ff"/><stop offset=".1" stop-color="#0075ff"/><stop offset=".2" stop-color="#00d1ff"/><stop offset=".3" stop-color="#00ffff"/><stop offset=".407" stop-color="#00e5ff"/><stop offset=".5" stop-color="#00b5ff"/><stop offset=".507" stop-color="#00ccff"/><stop offset=".525" stop-color="#00ffff"/><stop offset=".6" stop-color="#cdff32"/><stop offset=".7" stop-color="#90ff6f"/><stop offset=".707" stop-color="#81ff7e"/><stop offset=".777" stop-color="#00ffff"/><stop offset=".807" stop-color="#00c6ff"/><stop offset=".9" stop-color="#0008ff"/><stop offset=".907" stop-color="#0000fe"/><stop offset="1" stop-color="#00009f"/></linearGradient>
<linearGradient id="b51"><stop offset="0" stop-color="#0000c1"/><stop offset=".035" stop-color="#0000ff"/><stop offset=".1" stop-color="#0075ff"/><stop offset=".2" stop-color="#00d1ff"/><stop offset=".3" stop-color="#00feff"/><stop offset=".385" stop-color="#00e9ff"/><stop offset=".485" stop-color="#00b7ff"/><stop offset=".5" stop-color="#00acff"/><stop offset=".53" stop-color="#00ffff"/><stop offset=".585" stop-color="#98ff67"/><stop offset=".6" stop-color="#b5ff4a"/><stop offset=".7" stop-color="#79ff86"/><stop offset=".766" stop-color="#00ffff"/><stop offset=".785" stop-color="#00dcff"/><stop offset=".8" stop-color="#00c5ff"/><stop offset=".885" stop-color="#0017ff"/><stop offset=".9" stop-color="#0000fe"/><stop offset=".985" stop-color="#0000a7"/><stop offset="1" stop-color="#00009e"/></linearGradient>
<linearGradient id="b52"><stop offset="0" stop-color="#0000c0"/><stop offset=".035" stop-color="#0000ff"/><stop offset=".1" stop-color="#0075ff"/><stop offset=".2" stop-color="#00d1ff"/><stop offset=".3" stop-color="#00fdff"/><stop offset=".364" stop-color="#00edff"/><stop offset=".4" stop-color="#00deff"/><stop offset=".464" stop-color="#00beff"/><stop offset=".5" stop-color="#00a4ff"/><stop offset=".533" stop-color="#00ffff"/><stop offset=".564" stop-color="#54ffab"/><stop offset=".6" stop-color="#9aff65"/><stop offset=".664" stop-color="#73ff8c"/><stop offset=".7" stop-color="#61ff9e"/><stop offset=".753" stop-color="#00ffff"/><stop offset=".764" stop-color="#00ebff"/><stop offset=".8" stop-color="#00b3ff"/><stop offset=".864" stop-color="#0032ff"/><stop offset=".894" stop-color="#0000ff"/><stop offset=".9" stop-color="#0000f5"/><stop offset=".964" stop-color="#0000b4"/><stop offset="1" stop-color="#00009e"/></linearGradient>
<linearGradient id="b53"><stop offset="0" stop-color="#0000bf"/><stop offset=".036" stop-color="#0000ff"/><stop offset=".1" stop-color="#0075ff"/><stop offset=".2" stop-color="#00d1ff"/><stop offset=".3" stop-color="#00fcff"/><stop offset=".342" stop-color="#00f1ff"/><stop offset=".4" stop-color="#00daff"/><stop offset=".442" stop-color="#00c4ff"/><stop offset=".5" stop-color="#009bff"/><stop offset=".536" stop-color="#00ffff"/><stop offset=".542" stop-color="#10ffef"/><stop offset=".6" stop-color="#80ff7f"/><stop offset=".642" stop-color="#66ff99"/><stop offset=".7" stop-color="#49ffb6"/><stop offset=".74" stop-color="#00ffff"/><stop offset=".8" stop-color="#00a2ff"/><stop offset=".842" stop-color="#004cff"/><stop offset=".889" stop-color="#0000ff"/><stop offset=".9" stop-color="#0000ec"/><stop offset=".942" stop-color="#0000c2"/><stop offset="1" stop-color="#00009e"/></linearGradient>
<linearGradient id="b54"><stop offset="0" stop-color="#0000be"/><stop offset=".036" stop-color="#0000ff"/><stop offset=".1" stop-color="#0075ff"/><stop offset=".2" stop-color="#00d1ff"/><stop offset=".3" stop-color="#00fbff"/><stop offset=".321" stop-color="#00f6ff"/><stop offset=".421" stop-color="#00cbff"/><stop offset=".5" stop-color="#0092ff"/><stop offset=".521" stop-color="#00cbff"/><stop offset=".548" stop-color="#00ffff"/><stop offset=".6" stop-color="#66ff99"/><stop offset=".621" stop-color="#59ffa6"/><stop offset=".7" stop-color="#31ffce"/><stop offset=".728" stop-color="#00ffff"/><stop offset=".8" stop-color="#0090ff"/><stop offset=".821" stop-color="#0066ff"/><stop offset=".883" stop-color="#0000ff"/><stop offset=".9" stop-color="#0000e4"/><stop offset=".921" stop-color="#0000cf"/><stop offset="1" stop-color="#00009e"/></linearGradient>
<linearGradient id="b55"><stop offset="0" stop-color="#0000bd"/><stop offset=".036" stop-color="#0000ff"/><stop offset=".1" stop-color="#0075ff"/><stop offset=".2" stop-color="#00d1ff"/><stop offset=".3" stop-color="#00faff"/><stop offset=".4" stop-color="#00d0ff"/><stop offset=".5" stop-color="#0089ff"/><stop offset=".561" stop-color="#00ffff"/><stop offset=".6" stop-color="#4cffb3"/><stop offset=".7" stop-color="#19ffe6"/><stop offset=".716" stop-color="#00ffff"/><stop offset=".8" stop-color="#007fff"/><stop offset=".878" stop-color="#0000ff"/><stop offset=".9" stop-color="#0000db"/><stop offset="1" stop-color="#00009e"/></linearGradient>
<linearGradient id="b56"><stop offset="0" stop-color="#0000bc"/><stop offset=".037" stop-color="#0000ff"/><stop offset=".1" stop-color="#0073ff"/><stop offset=".2" stop-color="#00ceff"/><stop offset=".289" stop-color="#00f2ff"/><stop offset=".3" stop-color="#00f3ff"/><stop offset=".389" stop-color="#00cfff"/><stop offset=".4" stop-color="#00c4ff"/><stop offset=".489" stop-color="#0085ff"/><stop offset=".5" stop-color="#0077ff"/><stop offset=".57" stop-color="#00ffff"/><stop offset=".6" stop-color="#3dffc2"/><stop offset=".689" stop-color="#10ffef"/><stop offset=".703" stop-color="#00ffff"/><stop offset=".789" stop-color="#007cff"/><stop offset=".8" stop-color="#0070ff"/><stop offset=".869" stop-color="#0000ff"/><stop offset=".889" stop-color="#0000df"/><stop offset=".989" stop-color="#0000a0"/><stop offset="1" stop-color="#00009e"/></linearGradient>
<linearGradient id="b57"><stop offset="0" stop-color="#0000ba"/><stop offset=".037" stop-color="#0000ff"/><stop offset=".1" stop-color="#0071ff"/><stop offset=".2" stop-color="#00caff"/><stop offset=".278" stop-color="#00eaff"/><stop offset=".3" stop-color="#00ecff"/><stop offset=".378" stop-color="#00cdff"/><stop offset=".4" stop-color="#00b8ff"/><stop offset=".478" stop-color="#0081ff"/><stop offset=".5" stop-color="#0066ff"/><stop offset=".579" stop-color="#00ffff"/><stop offset=".6" stop-color="#2fffd0"/><stop offset=".678" stop-color="#07fff8"/><stop offset=".685" stop-color="#00ffff"/><stop offset=".7" stop-color="#00f0ff"/><stop offset=".778" stop-color="#0079ff"/><stop offset=".8" stop-color="#0062ff"/><stop offset=".86" stop-color="#0000ff"/><stop offset=".878" stop-color="#0000e2"/><stop offset=".9" stop-color="#0000d2"/><stop offset=".978" stop-color="#0000a3"/><stop offset="1" stop-color="#00009d"/></linearGradient>
<linearGradient id="b58"><stop offset="0" stop-color="#0000b9"/><stop offset=".038" stop-color="#0000ff"/><stop offset=".1" stop-color="#006fff"/><stop offset=".2" stop-color="#00c7ff"/><stop offset=".267" stop-color="#00e2ff"/><stop offset=".3" stop-color="#00e6ff"/><stop offset=".367" stop-color="#00caff"/><stop offset=".4" stop-color="#00acff"/><stop offset=".467" stop-color="#007cff"/><stop offset=".5" stop-color="#0054ff"/><stop offset=".567" stop-color="#00d6ff"/><stop offset=".585" stop-color="#00ffff"/><stop offset=".6" stop-color="#21ffde"/><stop offset=".667" stop-color="#00feff"/><stop offset=".7" stop-color="#00dcff"/><stop offset=".767" stop-color="#0075ff"/><stop offset=".8" stop-color="#0054ff"/><stop offset=".851" stop-color="#0000ff"/><stop offset=".867" stop-color="#0000e5"/><stop offset=".967" stop-color="#0000a5"/><stop offset="1" stop-color="#00009c"/></linearGradient>
<linearGradient id="b59"><stop offset="0" stop-color="#0000b8"/><stop offset=".039" stop-color="#0000ff"/><stop offset=".1" stop-color="#006cff"/><stop offset=".156" stop-color="#00a0ff"/><stop offset=".2" stop-color="#00c4ff"/><stop offset=".256" stop-color="#00dbff"/><stop offset=".3" stop-color="#00dfff"/><stop offset=".356" stop-color="#00c8ff"/><stop offset=".4" stop-color="#00a0ff"/><stop offset=".456" stop-color="#0078ff"/><stop offset=".5" stop-color="#0042ff"/><stop offset=".556" stop-color="#00afff"/><stop offset=".592" stop-color="#00ffff"/><stop offset=".6" stop-color="#13ffec"/><stop offset=".636" stop-color="#00ffff"/><stop offset=".656" stop-color="#00f5ff"/><stop offset=".7" stop-color="#00c8ff"/><stop offset=".756" stop-color="#0072ff"/><stop offset=".8" stop-color="#0046ff"/><stop offset=".843" stop-color="#0000ff"/><stop offset=".856" stop-color="#0000e9"/><stop offset=".9" stop-color="#0000c9"/><stop offset=".956" stop-color="#0000a7"/><stop offset="1" stop-color="#00009c"/></linearGradient>
<linearGradient id="b60"><stop offset="0" stop-color="#0000b7"/><stop offset=".039" stop-color="#0000ff"/><stop offset=".1" stop-color="#006aff"/><stop offset=".145" stop-color="#0094ff"/><stop offset=".2" stop-color="#00c0ff"/><stop offset=".245" stop-color="#00d3ff"/><stop offset=".3" stop-color="#00d9ff"/><stop offset=".345" stop-color="#00c6ff"/><stop offset=".4" stop-color="#0094ff"/><stop offset=".445" stop-color="#0073ff"/><stop offset=".5" stop-color="#0031ff"/><stop offset=".545" stop-color="#0089ff"/><stop offset=".598" stop-color="#00ffff"/><stop offset=".6" stop-color="#04fffb"/><stop offset=".608" stop-color="#00ffff"/><stop offset=".645" stop-color="#00ecff"/><stop offset=".7" stop-color="#00b4ff"/><stop offset=".745" stop-color="#006fff"/><stop offset=".8" stop-color="#0037ff"/><stop offset=".834" stop-color="#0000ff"/><stop offset=".845" stop-color="#0000ec"/><stop offset=".9" stop-color="#0000c5"/><stop offset=".945" stop-color="#0000a9"/><stop offset="1" stop-color="#00009b"/></linearGradient>
<linearGradient id="b61"><stop offset="0" stop-color="#0000b6"/><stop offset=".04" stop-color="#0000ff"/><stop offset=".1" stop-color="#0068ff"/><stop offset=".135" stop-color="#0088ff"/><stop offset=".2" stop-color="#00bdff"/><stop offset=".235" stop-color="#00cbff"/><stop offset=".3" stop-color="#00d2ff"/><stop offset=".335" stop-color="#00c4ff"/><stop offset=".4" stop-color="#0088ff"/><stop offset=".435" stop-color="#006fff"/><stop offset=".5" stop-color="#001fff"/><stop offset=".535" stop-color="#0062ff"/><stop offset=".6" stop-color="#00f5ff"/><stop offset=".635" stop-color="#00e3ff"/><stop offset=".7" stop-color="#00a1ff"/><stop offset=".735" stop-color="#006cff"/><stop offset=".8" stop-color="#0029ff"/><stop offset=".825" stop-color="#0000ff"/><stop offset=".835" stop-color="#0000ef"/><stop offset=".935" stop-color="#0000ab"/><stop offset="1" stop-color="#00009b"/></linearGradient>
<linearGradient id="b62"><stop offset="0" stop-color="#0000b5"/><stop offset=".041" stop-color="#0000ff"/><stop offset=".1" stop-color="#0066ff"/><stop offset=".2" stop-color="#00baff"/><stop offset=".224" stop-color="#00c4ff"/><stop offset=".3" stop-color="#00cbff"/><stop offset=".324" stop-color="#00c2ff"/><stop offset=".4" stop-color="#007cff"/><stop offset=".424" stop-color="#006bff"/><stop offset=".5" stop-color="#000eff"/><stop offset=".524" stop-color="#003cff"/><stop offset=".6" stop-color="#00e7ff"/><stop offset=".624" stop-color="#00daff"/><stop offset=".7" stop-color="#008dff"/><stop offset=".724" stop-color="#0068ff"/><stop offset=".8" stop-color="#001bff"/><stop offset=".816" stop-color="#0000ff"/><stop offset=".824" stop-color="#0000f3"/><stop offset=".9" stop-color="#0000bc"/><stop offset=".924" stop-color="#0000ae"/><stop offset="1" stop-color="#00009a"/></linearGradient>
<linearGradient id="b63"><stop offset="0" stop-color="#0000b4"/><stop offset=".043" stop-color="#0000ff"/><stop offset=".1" stop-color="#0064ff"/><stop offset=".2" stop-color="#00b7ff"/><stop offset=".213" stop-color="#00bcff"/><stop offset=".3" stop-color="#00c5ff"/><stop offset=".313" stop-color="#00bfff"/><stop offset=".413" stop-color="#0066ff"/><stop offset=".497" stop-color="#0000ff"/><stop offset=".5" stop-color="#0000fb"/><stop offset=".502" stop-color="#0000ff"/><stop offset=".513" stop-color="#0015ff"/><stop offset=".6" stop-color="#00d8ff"/><stop offset=".613" stop-color="#00d2ff"/><stop offset=".7" stop-color="#0079ff"/><stop offset=".713" stop-color="#0065ff"/><stop offset=".8" stop-color="#000cff"/><stop offset=".808" stop-color="#0000ff"/><stop offset=".813" stop-color="#0000f6"/><stop offset=".913" stop-color="#0000b0"/><stop offset="1" stop-color="#00009a"/></linearGradient>
<linearGradient id="b64"><stop offset="0" stop-color="#0000b3"/><stop offset=".044" stop-color="#0000ff"/><stop offset=".1" stop-color="#0061ff"/><stop offset=".2" stop-color="#00b3ff"/><stop offset=".3" stop-color="#00beff"/><stop offset=".4" stop-color="#0064ff"/><stop offset=".482" stop-color="#0000ff"/><stop offset=".5" stop-color="#0000e9"/><stop offset=".51" stop-color="#0000ff"/><stop offset=".6" stop-color="#00caff"/><stop offset=".8" stop-color="#0000fd"/><stop offset=".9" stop-color="#0000b3"/><stop offset="1" stop-color="#000099"/></linearGradient>
<linearGradient id="b65"><stop offset="0" stop-color="#0000b2"/><stop offset=".045" stop-color="#0000ff"/><stop offset=".1" stop-color="#005eff"/><stop offset=".2" stop-color="#00b0ff"/><stop offset=".3" stop-color="#00b9ff"/><stop offset=".4" stop-color="#005dff"/><stop offset=".476" stop-color="#0000ff"/><stop offset=".5" stop-color="#0000e1"/><stop offset=".513" stop-color="#0000ff"/><stop offset=".592" stop-color="#00b0ff"/><stop offset=".6" stop-color="#00beff"/><stop offset=".788" stop-color="#0000ff"/><stop offset=".892" stop-color="#0000b4"/><stop offset="1" stop-color="#000099"/></linearGradient>
<linearGradient id="b66"><stop offset="0" stop-color="#0000b1"/><stop offset=".045" stop-color="#0000ff"/><stop offset=".081" stop-color="#003eff"/><stop offset=".1" stop-color="#005bff"/><stop offset=".2" stop-color="#00adff"/><stop offset=".3" stop-color="#00b5ff"/><stop offset=".4" stop-color="#0057ff"/><stop offset=".471" stop-color="#0000ff"/><stop offset=".5" stop-color="#0000dc"/><stop offset=".516" stop-color="#0000ff"/><stop offset=".581" stop-color="#0092ff"/><stop offset=".6" stop-color="#00b3ff"/><stop offset=".681" stop-color="#0061ff"/><stop offset=".7" stop-color="#0051ff"/><stop offset=".781" stop-color="#0000fe"/><stop offset=".881" stop-color="#0000b6"/><stop offset="1" stop-color="#000098"/></linearGradient>
<linearGradient id="b67"><stop offset="0" stop-color="#0000af"/><stop offset=".046" stop-color="#0000ff"/><stop offset=".07" stop-color="#002aff"/><stop offset=".1" stop-color="#0058ff"/><stop offset=".2" stop-color="#00a9ff"/><stop offset=".27" stop-color="#00b0ff"/><stop offset=".3" stop-color="#00b0ff"/><stop offset=".4" stop-color="#0052ff"/><stop offset=".467" stop-color="#0000ff"/><stop offset=".5" stop-color="#0000d6"/><stop offset=".518" stop-color="#0000ff"/><stop offset=".57" stop-color="#0074ff"/><stop offset=".6" stop-color="#00a8ff"/><stop offset=".67" stop-color="#0061ff"/><stop offset=".7" stop-color="#0048ff"/><stop offset=".771" stop-color="#0000ff"/><stop offset=".87" stop-color="#0000b9"/><stop offset=".9" stop-color="#0000ae"/><stop offset="1" stop-color="#000097"/></linearGradient>
<linearGradient id="b68"><stop offset="0" stop-color="#0000ae"/><stop offset=".047" stop-color="#0000ff"/><stop offset=".059" stop-color="#0016ff"/><stop offset=".1" stop-color="#0054ff"/><stop offset=".2" stop-color="#00a6ff"/><stop offset=".259" stop-color="#00acff"/><stop offset=".3" stop-color="#00acff"/><stop offset=".359" stop-color="#0076ff"/><stop offset=".4" stop-color="#004cff"/><stop offset=".462" stop-color="#0000ff"/><stop offset=".5" stop-color="#0000d1"/><stop offset=".521" stop-color="#0000ff"/><stop offset=".559" stop-color="#0056ff"/><stop offset=".6" stop-color="#009dff"/><stop offset=".659" stop-color="#0061ff"/><stop offset=".7" stop-color="#0040ff"/><stop offset=".764" stop-color="#0000ff"/><stop offset=".859" stop-color="#0000bb"/><stop offset=".9" stop-color="#0000ac"/><stop offset=".959" stop-color="#00009d"/><stop offset="1" stop-color="#000097"/></linearGradient>
<linearGradient id="b69"><stop offset="0" stop-color="#0000ad"/><stop offset=".047" stop-color="#0000ff"/><stop offset=".1" stop-color="#0051ff"/><stop offset=".2" stop-color="#00a3ff"/><stop offset=".248" stop-color="#00a8ff"/><stop offset=".3" stop-color="#00a8ff"/><stop offset=".4" stop-color="#0047ff"/><stop offset=".458" stop-color="#0000ff"/><stop offset=".5" stop-color="#0000cb"/><stop offset=".523" stop-color="#0000ff"/><stop offset=".548" stop-color="#0039ff"/><stop offset=".6" stop-color="#0092ff"/><stop offset=".648" stop-color="#0061ff"/><stop offset=".7" stop-color="#0037ff"/><stop offset=".748" stop-color="#0005ff"/><stop offset=".756" stop-color="#0000ff"/><stop offset=".848" stop-color="#0000bd"/><stop offset=".948" stop-color="#00009e"/><stop offset="1" stop-color="#000096"/></linearGradient>
<linearGradient id="b70"><stop offset="0" stop-color="#0000ac"/><stop offset=".049" stop-color="#0000ff"/><stop offset=".1" stop-color="#004eff"/><stop offset=".2" stop-color="#009fff"/><stop offset=".238" stop-color="#00a3ff"/><stop offset=".3" stop-color="#00a3ff"/><stop offset=".338" stop-color="#0081ff"/><stop offset=".4" stop-color="#0041ff"/><stop offset=".453" stop-color="#0000ff"/><stop offset=".5" stop-color="#0000c6"/><stop offset=".526" stop-color="#0000ff"/><stop offset=".538" stop-color="#001bff"/><stop offset=".6" stop-color="#0087ff"/><stop offset=".638" stop-color="#0061ff"/><stop offset=".7" stop-color="#002eff"/><stop offset=".738" stop-color="#0008ff"/><stop offset=".748" stop-color="#0000ff"/><stop offset=".838" stop-color="#0000bf"/><stop offset=".9" stop-color="#0000a9"/><stop offset=".938" stop-color="#00009f"/><stop offset="1" stop-color="#000096"/></linearGradient>
<linearGradient id="b71"><stop offset="0" stop-color="#0000ab"/><stop offset=".027" stop-color="#0000d9"/><stop offset=".051" stop-color="#0000ff"/><stop offset=".1" stop-color="#004aff"/><stop offset=".2" stop-color="#009cff"/><stop offset=".227" stop-color="#009fff"/><stop offset=".3" stop-color="#009fff"/><stop offset=".4" stop-color="#003cff"/><stop offset=".449" stop-color="#0000ff"/><stop offset=".5" stop-color="#0000c0"/><stop offset=".528" stop-color="#0000ff"/><stop offset=".6" stop-color="#007cff"/><stop offset=".627" stop-color="#0061ff"/><stop offset=".7" stop-color="#0025ff"/><stop offset=".727" stop-color="#000aff"/><stop offset=".741" stop-color="#0000ff"/><stop offset=".827" stop-color="#0000c1"/><stop offset=".927" stop-color="#0000a0"/><stop offset="1" stop-color="#000095"/></linearGradient>
<linearGradient id="b72"><stop offset="0" stop-color="#0000aa"/><stop offset=".016" stop-color="#0000c6"/><stop offset=".053" stop-color="#0000ff"/><stop offset=".1" stop-color="#0047ff"/><stop offset=".2" stop-color="#0099ff"/><stop offset=".3" stop-color="#009aff"/><stop offset=".4" stop-color="#0036ff"/><stop offset=".444" stop-color="#0000ff"/><stop offset=".5" stop-color="#0000bb"/><stop offset=".516" stop-color="#0000de"/><stop offset=".535" stop-color="#0000ff"/><stop offset=".6" stop-color="#0071ff"/><stop offset=".616" stop-color="#0061ff"/><stop offset=".7" stop-color="#001cff"/><stop offset=".716" stop-color="#000cff"/><stop offset=".733" stop-color="#0000ff"/><stop offset=".816" stop-color="#0000c4"/><stop offset=".916" stop-color="#0000a2"/><stop offset="1" stop-color="#000095"/></linearGradient>
<linearGradient id="b73"><stop offset="0" stop-color="#0000a9"/><stop offset=".056" stop-color="#0000ff"/><stop offset=".1" stop-color="#0044ff"/><stop offset=".2" stop-color="#0095ff"/><stop offset=".3" stop-color="#0096ff"/><stop offset=".405" stop-color="#002aff"/><stop offset=".44" stop-color="#0000ff"/><stop offset=".5" stop-color="#0000b5"/><stop offset=".505" stop-color="#0000c1"/><stop offset=".541" stop-color="#0000ff"/><stop offset=".6" stop-color="#0066ff"/><stop offset=".705" stop-color="#000eff"/><stop offset=".725" stop-color="#0000ff"/><stop offset=".805" stop-color="#0000c6"/><stop offset=".905" stop-color="#0000a3"/><stop offset="1" stop-color="#000094"/></linearGradient>
<linearGradient id="b74"><stop offset="0" stop-color="#0000a8"/><stop offset=".057" stop-color="#0000ff"/><stop offset=".1" stop-color="#0041ff"/><stop offset=".2" stop-color="#0093ff"/><stop offset=".3" stop-color="#0093ff"/><stop offset=".4" stop-color="#002cff"/><stop offset=".436" stop-color="#0000ff"/><stop offset=".5" stop-color="#0000b1"/><stop offset=".545" stop-color="#0000ff"/><stop offset=".594" stop-color="#0056ff"/><stop offset=".6" stop-color="#005dff"/><stop offset=".718" stop-color="#0000ff"/><stop offset=".8" stop-color="#0000c6"/><stop offset=".9" stop-color="#0000a3"/><stop offset="1" stop-color="#000094"/></linearGradient>
<linearGradient id="b75"><stop offset="0" stop-color="#0000a7"/><stop offset=".057" stop-color="#0000ff"/><stop offset=".1" stop-color="#003fff"/><stop offset=".2" stop-color="#0091ff"/><stop offset=".3" stop-color="#0091ff"/><stop offset=".4" stop-color="#0029ff"/><stop offset=".433" stop-color="#0000ff"/><stop offset=".5" stop-color="#0000af"/><stop offset=".546" stop-color="#0000ff"/><stop offset=".584" stop-color="#0041ff"/><stop offset=".6" stop-color="#0057ff"/><stop offset=".684" stop-color="#0013ff"/><stop offset=".712" stop-color="#0000ff"/><stop offset=".784" stop-color="#0000cc"/><stop offset=".9" stop-color="#0000a2"/><stop offset="1" stop-color="#000094"/></linearGradient>
<linearGradient id="b76"><stop offset="0" stop-color="#0000a7"/><stop offset=".058" stop-color="#0000ff"/><stop offset=".1" stop-color="#003dff"/><stop offset=".2" stop-color="#008eff"/><stop offset=".3" stop-color="#008eff"/><stop offset=".4" stop-color="#0026ff"/><stop offset=".431" stop-color="#0000ff"/><stop offset=".5" stop-color="#0000ac"/><stop offset=".548" stop-color="#0000ff"/><stop offset=".573" stop-color="#002cff"/><stop offset=".6" stop-color="#0050ff"/><stop offset=".673" stop-color="#0015ff"/><stop offset=".706" stop-color="#0000ff"/><stop offset=".773" stop-color="#0000cf"/><stop offset=".8" stop-color="#0000c1"/><stop offset=".873" stop-color="#0000a7"/><stop offset="1" stop-color="#000094"/></linearGradient>
<linearGradient id="b77"><stop offset="0" stop-color="#0000a6"/><stop offset=".058" stop-color="#0000ff"/><stop offset=".1" stop-color="#003bff"/><stop offset=".2" stop-color="#008cff"/><stop offset=".3" stop-color="#008cff"/><stop offset=".362" stop-color="#004dff"/><stop offset=".428" stop-color="#0000ff"/><stop offset=".5" stop-color="#0000aa"/><stop offset=".549" stop-color="#0000ff"/><stop offset=".562" stop-color="#0016ff"/><stop offset=".6" stop-color="#004aff"/><stop offset=".662" stop-color="#0017ff"/><stop offset=".7" stop-color="#0000ff"/><stop offset=".762" stop-color="#0000d3"/><stop offset=".8" stop-color="#0000bf"/><stop offset=".862" stop-color="#0000a9"/><stop offset="1" stop-color="#000094"/></linearGradient>
<linearGradient id="b78"><stop offset="0" stop-color="#0000a6"/><stop offset=".059" stop-color="#0000ff"/><stop offset=".1" stop-color="#0038ff"/><stop offset=".2" stop-color="#008aff"/><stop offset=".3" stop-color="#008aff"/><stop offset=".351" stop-color="#0056ff"/><stop offset=".425" stop-color="#0000ff"/><stop offset=".5" stop-color="#0000a8"/><stop offset=".551" stop-color="#0001ff"/><stop offset=".6" stop-color="#0043ff"/><stop offset=".651" stop-color="#0019ff"/><stop offset=".692" stop-color="#0000ff"/><stop offset=".751" stop-color="#0000d6"/><stop offset=".8" stop-color="#0000bd"/><stop offset=".851" stop-color="#0000ab"/><stop offset=".951" stop-color="#000099"/><stop offset="1" stop-color="#000094"/></linearGradient>
<linearGradient id="b79"><stop offset="0" stop-color="#0000a5"/><stop offset=".04" stop-color="#0000e3"/><stop offset=".061" stop-color="#0000ff"/><stop offset=".1" stop-color="#0036ff"/><stop offset=".2" stop-color="#0088ff"/><stop offset=".3" stop-color="#0088ff"/><stop offset=".34" stop-color="#005fff"/><stop offset=".423" stop-color="#0000ff"/><stop offset=".5" stop-color="#0000a5"/><stop offset=".54" stop-color="#0000eb"/><stop offset=".555" stop-color="#0000ff"/><stop offset=".6" stop-color="#003cff"/><stop offset=".64" stop-color="#001bff"/><stop offset=".685" stop-color="#0000ff"/><stop offset=".74" stop-color="#0000d9"/><stop offset=".8" stop-color="#0000bb"/><stop offset=".84" stop-color="#0000ac"/><stop offset=".94" stop-color="#00009a"/><stop offset="1" stop-color="#000094"/></linearGradient>
<linearGradient id="b80"><stop offset="0" stop-color="#0000a5"/><stop offset=".03" stop-color="#0000d2"/><stop offset=".062" stop-color="#0000ff"/><stop offset=".1" stop-color="#0034ff"/><stop offset=".2" stop-color="#0086ff"/><stop offset=".3" stop-color="#0086ff"/><stop offset=".42" stop-color="#0000ff"/><stop offset=".5" stop-color="#0000a3"/><stop offset=".53" stop-color="#0000d6"/><stop offset=".56" stop-color="#0000ff"/><stop offset=".6" stop-color="#0036ff"/><stop offset=".63" stop-color="#001eff"/><stop offset=".678" stop-color="#0000ff"/><stop offset=".73" stop-color="#0000dc"/><stop offset=".8" stop-color="#0000b9"/><stop offset=".83" stop-color="#0000ae"/><stop offset=".93" stop-color="#00009b"/><stop offset="1" stop-color="#000094"/></linearGradient>
<linearGradient id="b81"><stop offset="0" stop-color="#0000a4"/><stop offset=".019" stop-color="#0000c1"/><stop offset=".064" stop-color="#0000ff"/><stop offset=".1" stop-color="#0032ff"/><stop offset=".2" stop-color="#0083ff"/><stop offset=".3" stop-color="#0083ff"/><stop offset=".419" stop-color="#0000fd"/><stop offset=".5" stop-color="#0000a0"/><stop offset=".519" stop-color="#0000c1"/><stop offset=".565" stop-color="#0000ff"/><stop offset=".6" stop-color="#002fff"/><stop offset=".619" stop-color="#0020ff"/><stop offset=".671" stop-color="#0000ff"/><stop offset=".719" stop-color="#0000e0"/><stop offset=".8" stop-color="#0000b6"/><stop offset=".919" stop-color="#00009c"/><stop offset="1" stop-color="#000094"/></linearGradient>
<linearGradient id="b82"><stop offset="0" stop-color="#0000a4"/><stop offset=".065" stop-color="#0000ff"/><stop offset=".1" stop-color="#0030ff"/><stop offset=".2" stop-color="#0081ff"/><stop offset=".3" stop-color="#0081ff"/><stop offset=".415" stop-color="#0000ff"/><stop offset=".5" stop-color="#00009e"/><stop offset=".508" stop-color="#0000ac"/><stop offset=".57" stop-color="#0000ff"/><stop offset=".6" stop-color="#0029ff"/><stop offset=".664" stop-color="#0000ff"/><stop offset=".708" stop-color="#0000e3"/><stop offset=".808" stop-color="#0000b1"/><stop offset=".908" stop-color="#00009d"/><stop offset="1" stop-color="#000094"/></linearGradient>
<linearGradient id="b83"><stop offset="0" stop-color="#0000a3"/><stop offset=".067" stop-color="#0000ff"/><stop offset=".1" stop-color="#002dff"/><stop offset=".2" stop-color="#007fff"/><stop offset=".3" stop-color="#007fff"/><stop offset=".413" stop-color="#0000ff"/><stop offset=".5" stop-color="#00009c"/><stop offset=".574" stop-color="#0000ff"/><stop offset=".6" stop-color="#0023ff"/><stop offset=".657" stop-color="#0000ff"/><stop offset=".7" stop-color="#0000e5"/><stop offset=".8" stop-color="#0000b2"/><stop offset=".9" stop-color="#00009e"/><stop offset="1" stop-color="#000094"/></linearGradient>
<linearGradient id="b84"><stop offset="0" stop-color="#0000a3"/><stop offset=".067" stop-color="#0000ff"/><stop offset=".1" stop-color="#002bff"/><stop offset=".2" stop-color="#007dff"/><stop offset=".3" stop-color="#007dff"/><stop offset=".411" stop-color="#0000ff"/><stop offset=".5" stop-color="#00009b"/><stop offset=".574" stop-color="#0000ff"/><stop offset=".6" stop-color="#001eff"/><stop offset=".649" stop-color="#0000ff"/><stop offset=".686" stop-color="#0000e8"/><stop offset=".8" stop-color="#0000b1"/><stop offset=".9" stop-color="#00009d"/><stop offset="1" stop-color="#000093"/></linearGradient>
<linearGradient id="b85"><stop offset="0" stop-color="#0000a2"/><stop offset=".068" stop-color="#0000ff"/><stop offset=".1" stop-color="#0029ff"/><stop offset=".2" stop-color="#007bff"/><stop offset=".3" stop-color="#007bff"/><stop offset=".409" stop-color="#0000ff"/><stop offset=".476" stop-color="#0000b3"/><stop offset=".5" stop-color="#00009a"/><stop offset=".576" stop-color="#0001ff"/><stop offset=".6" stop-color="#001aff"/><stop offset=".642" stop-color="#0000ff"/><stop offset=".676" stop-color="#0000ea"/><stop offset=".7" stop-color="#0000e1"/><stop offset=".8" stop-color="#0000b0"/><stop offset=".9" stop-color="#00009d"/><stop offset="1" stop-color="#000093"/></linearGradient>
<linearGradient id="b86"><stop offset="0" stop-color="#0000a1"/><stop offset=".068" stop-color="#0000ff"/><stop offset=".1" stop-color="#0027ff"/><stop offset=".2" stop-color="#0078ff"/><stop offset=".3" stop-color="#0078ff"/><stop offset=".407" stop-color="#0000ff"/><stop offset=".465" stop-color="#0000bd"/><stop offset=".5" stop-color="#000099"/><stop offset=".565" stop-color="#0000f1"/><stop offset=".579" stop-color="#0000ff"/><stop offset=".6" stop-color="#0015ff"/><stop offset=".635" stop-color="#0000ff"/><stop offset=".665" stop-color="#0000ed"/><stop offset=".765" stop-color="#0000bd"/><stop offset=".8" stop-color="#0000af"/><stop offset=".9" stop-color="#00009c"/><stop offset="1" stop-color="#000092"/></linearGradient>
<linearGradient id="b87"><stop offset="0" stop-color="#0000a1"/><stop offset=".07" stop-color="#0000ff"/><stop offset=".1" stop-color="#0025ff"/><stop offset=".2" stop-color="#0076ff"/><stop offset=".3" stop-color="#0076ff"/><stop offset=".405" stop-color="#0000ff"/><stop offset=".454" stop-color="#0000c7"/><stop offset=".5" stop-color="#000098"/><stop offset=".554" stop-color="#0000e1"/><stop offset=".583" stop-color="#0000ff"/><stop offset=".6" stop-color="#0011ff"/><stop offset=".628" stop-color="#0000ff"/><stop offset=".654" stop-color="#0000ef"/><stop offset=".7" stop-color="#0000dc"/><stop offset=".754" stop-color="#0000c1"/><stop offset=".8" stop-color="#0000ae"/><stop offset=".9" stop-color="#00009c"/><stop offset="1" stop-color="#000092"/></linearGradient>
<linearGradient id="b88"><stop offset="0" stop-color="#0000a0"/><stop offset=".043" stop-color="#0000dc"/><stop offset=".072" stop-color="#0000ff"/><stop offset=".1" stop-color="#0022ff"/><stop offset=".2" stop-color="#0074ff"/><stop offset=".3" stop-color="#0074ff"/><stop offset=".403" stop-color="#0000ff"/><stop offset=".443" stop-color="#0000d1"/><stop offset=".5" stop-color="#000097"/><stop offset=".543" stop-color="#0000d2"/><stop offset=".588" stop-color="#0000ff"/><stop offset=".6" stop-color="#000dff"/><stop offset=".621" stop-color="#0000ff"/><stop offset=".643" stop-color="#0000f1"/><stop offset=".7" stop-color="#0000da"/><stop offset=".743" stop-color="#0000c4"/><stop offset=".8" stop-color="#0000ad"/><stop offset=".9" stop-color="#00009b"/><stop offset="1" stop-color="#000091"/></linearGradient>
<linearGradient id="b89"><stop offset="0" stop-color="#0000a0"/><stop offset=".032" stop-color="#0000cc"/><stop offset=".074" stop-color="#0000ff"/><stop offset=".1" stop-color="#0020ff"/><stop offset=".2" stop-color="#0072ff"/><stop offset=".3" stop-color="#0072ff"/><stop offset=".401" stop-color="#0000ff"/><stop offset=".432" stop-color="#0000db"/><stop offset=".5" stop-color="#000097"/><stop offset=".532" stop-color="#0000c2"/><stop offset=".592" stop-color="#0000ff"/><stop offset=".6" stop-color="#0008ff"/><stop offset=".613" stop-color="#0000ff"/><stop offset=".632" stop-color="#0000f3"/><stop offset=".7" stop-color="#0000d8"/><stop offset=".732" stop-color="#0000c7"/><stop offset=".8" stop-color="#0000ac"/><stop offset=".932" stop-color="#000097"/><stop offset="1" stop-color="#000090"/></linearGradient>
<linearGradient id="b90"><stop offset="0" stop-color="#00009f"/><stop offset=".022" stop-color="#0000bd"/><stop offset=".076" stop-color="#0000ff"/><stop offset=".1" stop-color="#001eff"/><stop offset=".2" stop-color="#0070ff"/><stop offset=".3" stop-color="#0070ff"/><stop offset=".4" stop-color="#0000fe"/><stop offset=".5" stop-color="#000096"/><stop offset=".522" stop-color="#0000b3"/><stop offset=".596" stop-color="#0000ff"/><stop offset=".6" stop-color="#0004ff"/><stop offset=".606" stop-color="#0000ff"/><stop offset=".622" stop-color="#0000f5"/><stop offset=".7" stop-color="#0000d6"/><stop offset=".722" stop-color="#0000ca"/><stop offset=".8" stop-color="#0000ab"/><stop offset=".922" stop-color="#000098"/><stop offset="1" stop-color="#000090"/></linearGradient>
<linearGradient id="b91"><stop offset="0" stop-color="#00009f"/><stop offset=".077" stop-color="#0000ff"/><stop offset=".1" stop-color="#001cff"/><stop offset=".2" stop-color="#006dff"/><stop offset=".3" stop-color="#006dff"/><stop offset=".397" stop-color="#0000ff"/><stop offset=".5" stop-color="#000095"/><stop offset=".511" stop-color="#0000a3"/><stop offset=".6" stop-color="#0000fe"/><stop offset=".8" stop-color="#0000a9"/><stop offset=".911" stop-color="#000098"/><stop offset="1" stop-color="#00008f"/></linearGradient>
<linearGradient id="b92"><stop offset="0" stop-color="#00009e"/><stop offset=".079" stop-color="#0000ff"/><stop offset=".1" stop-color="#001aff"/><stop offset=".2" stop-color="#006bff"/><stop offset=".3" stop-color="#006bff"/><stop offset=".395" stop-color="#0000ff"/><stop offset=".5" stop-color="#000094"/><stop offset=".6" stop-color="#0000fa"/><stop offset=".8" stop-color="#0000a8"/><stop offset=".9" stop-color="#000099"/><stop offset="1" stop-color="#00008f"/></linearGradient>
<linearGradient id="b93"><stop offset="0" stop-color="#00009e"/><stop offset=".079" stop-color="#0000ff"/><stop offset=".1" stop-color="#0018ff"/><stop offset=".2" stop-color="#006aff"/><stop offset=".3" stop-color="#006aff"/><stop offset=".394" stop-color="#0000ff"/><stop offset=".5" stop-color="#000094"/><stop offset=".6" stop-color="#0000f8"/><stop offset=".8" stop-color="#0000a8"/><stop offset=".9" stop-color="#000098"/><stop offset="1" stop-color="#00008f"/></linearGradient>
<linearGradient id="b94"><stop offset="0" stop-color="#00009e"/><stop offset=".08" stop-color="#0000ff"/><stop offset=".1" stop-color="#0016ff"/><stop offset=".2" stop-color="#0068ff"/><stop offset=".3" stop-color="#0068ff"/><stop offset=".393" stop-color="#0000ff"/><stop offset=".469" stop-color="#0000b0"/><stop offset=".5" stop-color="#000094"/><stop offset=".569" stop-color="#0000db"/><stop offset=".6" stop-color="#0000f7"/><stop offset=".8" stop-color="#0000a7"/><stop offset=".9" stop-color="#000097"/><stop offset="1" stop-color="#00008f"/></linearGradient>
<linearGradient id="b95"><stop offset="0" stop-color="#00009e"/><stop offset=".081" stop-color="#0000ff"/><stop offset=".1" stop-color="#0015ff"/><stop offset=".2" stop-color="#0066ff"/><stop offset=".3" stop-color="#0066ff"/><stop offset=".391" stop-color="#0000ff"/><stop offset=".454" stop-color="#0000be"/><stop offset=".5" stop-color="#000094"/><stop offset=".554" stop-color="#0000cb"/><stop offset=".6" stop-color="#0000f5"/><stop offset=".754" stop-color="#0000b6"/><stop offset=".8" stop-color="#0000a6"/><stop offset=".954" stop-color="#000091"/><stop offset="1" stop-color="#00008f"/></linearGradient>
<linearGradient id="b96"><stop offset="0" stop-color="#00009e"/><stop offset=".083" stop-color="#0000ff"/><stop offset=".1" stop-color="#0013ff"/><stop offset=".2" stop-color="#0065ff"/><stop offset=".3" stop-color="#0065ff"/><stop offset=".39" stop-color="#0000ff"/><stop offset=".438" stop-color="#0000cc"/><stop offset=".5" stop-color="#000094"/><stop offset=".538" stop-color="#0000bb"/><stop offset=".6" stop-color="#0000f4"/><stop offset=".738" stop-color="#0000bb"/><stop offset=".8" stop-color="#0000a5"/><stop offset=".938" stop-color="#000092"/><stop offset="1" stop-color="#00008f"/></linearGradient>
<linearGradient id="b97"><stop offset="0" stop-color="#00009e"/><stop offset=".084" stop-color="#0000ff"/><stop offset=".1" stop-color="#0012ff"/><stop offset=".2" stop-color="#0063ff"/><stop offset=".3" stop-color="#0063ff"/><stop offset=".388" stop-color="#0000ff"/><stop offset=".423" stop-color="#0000db"/><stop offset=".5" stop-color="#000094"/><stop offset=".6" stop-color="#0000f2"/><stop offset=".723" stop-color="#0000c0"/><stop offset=".8" stop-color="#0000a4"/><stop offset=".923" stop-color="#000093"/><stop offset="1" stop-color="#00008f"/></linearGradient>
<linearGradient id="b98"><stop offset="0" stop-color="#00009e"/><stop offset=".086" stop-color="#0000ff"/><stop offset=".108" stop-color="#0016ff"/><stop offset=".2" stop-color="#0062ff"/><stop offset=".3" stop-color="#0062ff"/><stop offset=".387" stop-color="#0000ff"/><stop offset=".408" stop-color="#0000e9"/><stop offset=".5" stop-color="#000094"/><stop offset=".6" stop-color="#0000f0"/><stop offset=".708" stop-color="#0000c5"/><stop offset=".808" stop-color="#0000a2"/><stop offset=".908" stop-color="#000094"/><stop offset="1" stop-color="#00008f"/></linearGradient>
<linearGradient id="b99"><stop offset="0" stop-color="#00009e"/><stop offset=".086" stop-color="#0000ff"/><stop offset=".1" stop-color="#000fff"/><stop offset=".2" stop-color="#0061ff"/><stop offset=".3" stop-color="#0061ff"/><stop offset=".386" stop-color="#0000ff"/><stop offset=".4" stop-color="#0000f0"/><stop offset=".5" stop-color="#000094"/><stop offset=".6" stop-color="#0000f0"/><stop offset=".7" stop-color="#0000c7"/><stop offset=".8" stop-color="#0000a3"/><stop offset=".9" stop-color="#000094"/><stop offset="1" stop-color="#00008f"/></linearGradient>
<linearGradient id="b100"><stop offset="0" stop-color="#00009e"/><stop offset=".086" stop-color="#0000ff"/><stop offset=".1" stop-color="#000fff"/><stop offset=".2" stop-color="#0061ff"/><stop offset=".3" stop-color="#0061ff"/><stop offset=".386" stop-color="#0000ff"/><stop offset=".4" stop-color="#0000f0"/><stop offset=".5" stop-color="#000094"/><stop offset=".6" stop-color="#0000f0"/><stop offset=".7" stop-color="#0000c7"/><stop offset=".8" stop-color="#0000a3"/><stop offset=".9" stop-color="#000094"/><stop offset="1" stop-color="#00008f"/></linearGradient>
<linearGradient id="b101"><stop offset="0" stop-color="#00009e"/><stop offset=".086" stop-color="#0000ff"/><stop offset=".1" stop-color="#000fff"/><stop offset=".2" stop-color="#0061ff"/><stop offset=".3" stop-color="#0061ff"/><stop offset=".386" stop-color="#0000ff"/><stop offset=".4" stop-color="#0000f0"/><stop offset=".5" stop-color="#000094"/><stop offset=".6" stop-color="#0000f0"/><stop offset=".7" stop-color="#0000c7"/><stop offset=".8" stop-color="#0000a3"/><stop offset=".9" stop-color="#000094"/><stop offset="1" stop-color="#00008f"/></linearGradient>
<clipPath id="cpb"><rect x="39.5" y="246.8" width="216.4" height="193.6"/></clipPath>
<linearGradient id="c0"><stop offset="0" stop-color="#00009e"/><stop offset=".1" stop-color="#000099"/><stop offset=".4" stop-color="#000099"/><stop offset=".5" stop-color="#00009e"/><stop offset=".578" stop-color="#0000ff"/><stop offset=".7" stop-color="#0098ff"/><stop offset=".729" stop-color="#00ffff"/><stop offset=".801" stop-color="#ffff00"/><stop offset=".9" stop-color="#ff9c00"/><stop offset=".96" stop-color="#ffff00"/><stop offset="1" stop-color="#bcff43"/></linearGradient>
<linearGradient id="c1"><stop offset="0" stop-color="#00009e"/><stop offset=".1" stop-color="#000099"/><stop offset=".4" stop-color="#000099"/><stop offset=".5" stop-color="#00009e"/><stop offset=".578" stop-color="#0000ff"/><stop offset=".7" stop-color="#0098ff"/><stop offset=".729" stop-color="#00ffff"/><stop offset=".801" stop-color="#ffff00"/><stop offset=".9" stop-color="#ff9c00"/><stop offset=".96" stop-color="#ffff00"/><stop offset="1" stop-color="#bcff43"/></linearGradient>
<linearGradient id="c2"><stop offset="0" stop-color="#00009e"/><stop offset=".1" stop-color="#000099"/><stop offset=".4" stop-color="#000099"/><stop offset=".5" stop-color="#00009e"/><stop offset=".579" stop-color="#0000ff"/><stop offset=".695" stop-color="#0090ff"/><stop offset=".7" stop-color="#0099ff"/><stop offset=".729" stop-color="#00ffff"/><stop offset=".8" stop-color="#fffe00"/><stop offset=".895" stop-color="#ff9d00"/><stop offset=".9" stop-color="#ff9b00"/><stop offset=".961" stop-color="#ffff00"/><stop offset=".995" stop-color="#c7ff38"/><stop offset="1" stop-color="#bcff43"/></linearGradient>
<linearGradient id="c3"><stop offset="0" stop-color="#00009e"/><stop offset=".1" stop-color="#000099"/><stop offset=".4" stop-color="#000099"/><stop offset=".5" stop-color="#00009f"/><stop offset=".578" stop-color="#0000ff"/><stop offset=".6" stop-color="#0021ff"/><stop offset=".681" stop-color="#0084ff"/><stop offset=".7" stop-color="#00a9ff"/><stop offset=".724" stop-color="#00ffff"/><stop offset=".781" stop-color="#cbff34"/><stop offset=".795" stop-color="#ffff00"/><stop offset=".8" stop-color="#ffeb00"/><stop offset=".881" stop-color="#ff9800"/><stop offset=".9" stop-color="#ff9200"/><stop offset=".967" stop-color="#ffff00"/><stop offset=".981" stop-color="#e7ff18"/><stop offset="1" stop-color="#bbff44"/></linearGradient>
<linearGradient id="c4"><stop offset="0" stop-color="#00009e"/><stop offset=".4" stop-color="#000099"/><stop offset=".5" stop-color="#0000a0"/><stop offset=".567" stop-color="#0000f1"/><stop offset=".575" stop-color="#0000ff"/><stop offset=".6" stop-color="#0027ff"/><stop offset=".667" stop-color="#0079ff"/><stop offset=".7" stop-color="#00b9ff"/><stop offset=".719" stop-color="#00ffff"/><stop offset=".767" stop-color="#a8ff57"/><stop offset=".79" stop-color="#ffff00"/><stop offset=".8" stop-color="#ffd800"/><stop offset=".867" stop-color="#ff9400"/><stop offset=".9" stop-color="#ff8a00"/><stop offset=".967" stop-color="#fff600"/><stop offset=".97" stop-color="#ffff00"/><stop offset="1" stop-color="#b9ff46"/></linearGradient>
<linearGradient id="c5"><stop offset="0" stop-color="#00009e"/><stop offset=".4" stop-color="#000099"/><stop offset=".5" stop-color="#0000a1"/><stop offset=".552" stop-color="#0000e0"/><stop offset=".572" stop-color="#0000ff"/><stop offset=".6" stop-color="#002dff"/><stop offset=".652" stop-color="#006dff"/><stop offset=".7" stop-color="#00caff"/><stop offset=".715" stop-color="#00ffff"/><stop offset=".752" stop-color="#85ff7a"/><stop offset=".785" stop-color="#ffff00"/><stop offset=".8" stop-color="#ffc500"/><stop offset=".852" stop-color="#ff8f00"/><stop offset=".9" stop-color="#ff8100"/><stop offset=".952" stop-color="#ffd600"/><stop offset=".97" stop-color="#ffff00"/><stop offset="1" stop-color="#b8ff47"/></linearGradient>
<linearGradient id="c6"><stop offset="0" stop-color="#00009e"/><stop offset=".4" stop-color="#000099"/><stop offset=".5" stop-color="#0000a1"/><stop offset=".538" stop-color="#0000d0"/><stop offset=".568" stop-color="#0000ff"/><stop offset=".6" stop-color="#0033ff"/><stop offset=".638" stop-color="#0061ff"/><stop offset=".7" stop-color="#00daff"/><stop offset=".71" stop-color="#00ffff"/><stop offset=".738" stop-color="#62ff9d"/><stop offset=".779" stop-color="#ffff00"/><stop offset=".8" stop-color="#ffb200"/><stop offset=".838" stop-color="#ff8b00"/><stop offset=".9" stop-color="#ff7800"/><stop offset=".938" stop-color="#ffb600"/><stop offset=".969" stop-color="#ffff00"/><stop offset="1" stop-color="#b6ff49"/></linearGradient>
<linearGradient id="c7"><stop offset="0" stop-color="#00009e"/><stop offset=".423" stop-color="#00009a"/><stop offset=".5" stop-color="#0000a2"/><stop offset=".523" stop-color="#0000bf"/><stop offset=".564" stop-color="#0000ff"/><stop offset=".6" stop-color="#0039ff"/><stop offset=".623" stop-color="#0055ff"/><stop offset=".7" stop-color="#00eaff"/><stop offset=".706" stop-color="#00ffff"/><stop offset=".723" stop-color="#3effc1"/><stop offset=".774" stop-color="#ffff00"/><stop offset=".8" stop-color="#ff9f00"/><stop offset=".823" stop-color="#ff8700"/><stop offset=".9" stop-color="#ff6f00"/><stop offset=".923" stop-color="#ff9500"/><stop offset=".968" stop-color="#ffff00"/><stop offset="1" stop-color="#b5ff4a"/></linearGradient>
<linearGradient id="c8"><stop offset="0" stop-color="#00009e"/><stop offset=".109" stop-color="#000099"/><stop offset=".409" stop-color="#000099"/><stop offset=".5" stop-color="#0000a3"/><stop offset=".509" stop-color="#0000ae"/><stop offset=".56" stop-color="#0000ff"/><stop offset=".6" stop-color="#003fff"/><stop offset=".609" stop-color="#004aff"/><stop offset=".7" stop-color="#00faff"/><stop offset=".701" stop-color="#00ffff"/><stop offset=".769" stop-color="#ffff00"/><stop offset=".8" stop-color="#ff8b00"/><stop offset=".809" stop-color="#ff8200"/><stop offset=".9" stop-color="#ff6600"/><stop offset=".909" stop-color="#ff7500"/><stop offset=".968" stop-color="#ffff00"/><stop offset="1" stop-color="#b3ff4c"/></linearGradient>
<linearGradient id="c9"><stop offset="0" stop-color="#00009f"/><stop offset=".1" stop-color="#000099"/><stop offset=".4" stop-color="#000099"/><stop offset=".5" stop-color="#0000a4"/><stop offset=".558" stop-color="#0000ff"/><stop offset=".6" stop-color="#0044ff"/><stop offset=".692" stop-color="#00f6ff"/><stop offset=".695" stop-color="#00ffff"/><stop offset=".7" stop-color="#0dfff2"/><stop offset=".764" stop-color="#ffff00"/><stop offset=".8" stop-color="#ff7900"/><stop offset=".892" stop-color="#ff5d00"/><stop offset=".9" stop-color="#ff5e00"/><stop offset=".969" stop-color="#ffff00"/><stop offset=".992" stop-color="#c9ff36"/><stop offset="1" stop-color="#b0ff4f"/></linearGradient>
<linearGradient id="c10"><stop offset="0" stop-color="#0000a0"/><stop offset=".1" stop-color="#00009a"/><stop offset=".4" stop-color="#00009b"/><stop offset=".5" stop-color="#0000a6"/><stop offset=".556" stop-color="#0000ff"/><stop offset=".6" stop-color="#0048ff"/><stop offset=".67" stop-color="#00d1ff"/><stop offset=".688" stop-color="#00ffff"/><stop offset=".7" stop-color="#20ffdf"/><stop offset=".759" stop-color="#ffff00"/><stop offset=".8" stop-color="#ff6700"/><stop offset=".87" stop-color="#ff5200"/><stop offset=".9" stop-color="#ff5500"/><stop offset=".972" stop-color="#ffff00"/><stop offset="1" stop-color="#a9ff56"/></linearGradient>
<linearGradient id="c11"><stop offset="0" stop-color="#0000a1"/><stop offset=".4" stop-color="#00009c"/><stop offset=".5" stop-color="#0000a8"/><stop offset=".554" stop-color="#0000ff"/><stop offset=".6" stop-color="#004dff"/><stop offset=".649" stop-color="#00abff"/><stop offset=".68" stop-color="#00ffff"/><stop offset=".7" stop-color="#34ffcb"/><stop offset=".754" stop-color="#ffff00"/><stop offset=".8" stop-color="#ff5600"/><stop offset=".849" stop-color="#ff4700"/><stop offset=".9" stop-color="#ff4c00"/><stop offset=".949" stop-color="#ffbe00"/><stop offset=".97" stop-color="#ffff00"/><stop offset="1" stop-color="#a3ff5c"/></linearGradient>
<linearGradient id="c12"><stop offset="0" stop-color="#0000a2"/><stop offset=".127" stop-color="#00009b"/><stop offset=".427" stop-color="#00009f"/><stop offset=".5" stop-color="#0000ab"/><stop offset=".552" stop-color="#0000ff"/><stop offset=".6" stop-color="#0051ff"/><stop offset=".627" stop-color="#0086ff"/><stop offset=".673" stop-color="#00ffff"/><stop offset=".7" stop-color="#48ffb7"/><stop offset=".749" stop-color="#ffff00"/><stop offset=".8" stop-color="#ff4400"/><stop offset=".827" stop-color="#ff3c00"/><stop offset=".9" stop-color="#ff4300"/><stop offset=".927" stop-color="#ff8300"/><stop offset=".968" stop-color="#ffff00"/><stop offset="1" stop-color="#9cff63"/></linearGradient>
<linearGradient id="c13"><stop offset="0" stop-color="#0000a3"/><stop offset=".106" stop-color="#00009c"/><stop offset=".406" stop-color="#00009e"/><stop offset=".5" stop-color="#0000ad"/><stop offset=".549" stop-color="#0000ff"/><stop offset=".606" stop-color="#0060ff"/><stop offset=".665" stop-color="#00ffff"/><stop offset=".7" stop-color="#5cffa3"/><stop offset=".744" stop-color="#ffff00"/><stop offset=".8" stop-color="#ff3200"/><stop offset=".9" stop-color="#ff3a00"/><stop offset=".906" stop-color="#ff4700"/><stop offset=".966" stop-color="#ffff00"/><stop offset="1" stop-color="#96ff69"/></linearGradient>
<linearGradient id="c14"><stop offset="0" stop-color="#0000a4"/><stop offset=".1" stop-color="#00009c"/><stop offset=".4" stop-color="#00009f"/><stop offset=".5" stop-color="#0000b0"/><stop offset=".547" stop-color="#0000ff"/><stop offset=".584" stop-color="#003eff"/><stop offset=".6" stop-color="#005cff"/><stop offset=".662" stop-color="#00ffff"/><stop offset=".684" stop-color="#3bffc4"/><stop offset=".738" stop-color="#ffff00"/><stop offset=".784" stop-color="#ff5700"/><stop offset=".8" stop-color="#ff2200"/><stop offset=".884" stop-color="#ff2b00"/><stop offset=".9" stop-color="#ff3b00"/><stop offset=".964" stop-color="#ffff00"/><stop offset=".984" stop-color="#c2ff3d"/><stop offset="1" stop-color="#8dff72"/></linearGradient>
<linearGradient id="c15"><stop offset="0" stop-color="#0000a5"/><stop offset=".1" stop-color="#00009d"/><stop offset=".4" stop-color="#0000a0"/><stop offset=".5" stop-color="#0000b3"/><stop offset=".545" stop-color="#0000ff"/><stop offset=".6" stop-color="#0062ff"/><stop offset=".659" stop-color="#00ffff"/><stop offset=".662" stop-color="#09fff6"/><stop offset=".7" stop-color="#8bff74"/><stop offset=".732" stop-color="#ffff00"/><stop offset=".762" stop-color="#ff8e00"/><stop offset=".8" stop-color="#ff1300"/><stop offset=".862" stop-color="#ff1900"/><stop offset=".9" stop-color="#ff4000"/><stop offset=".962" stop-color="#ffff00"/><stop offset="1" stop-color="#85ff7a"/></linearGradient>
<linearGradient id="c16"><stop offset="0" stop-color="#0000a6"/><stop offset=".1" stop-color="#00009d"/><stop offset=".341" stop-color="#00009e"/><stop offset=".4" stop-color="#0000a1"/><stop offset=".441" stop-color="#0000a7"/><stop offset=".5" stop-color="#0000b6"/><stop offset=".543" stop-color="#0000ff"/><stop offset=".6" stop-color="#0069ff"/><stop offset=".641" stop-color="#00d5ff"/><stop offset=".653" stop-color="#00ffff"/><stop offset=".7" stop-color="#a3ff5c"/><stop offset=".725" stop-color="#ffff00"/><stop offset=".741" stop-color="#ffc500"/><stop offset=".8" stop-color="#ff0400"/><stop offset=".841" stop-color="#ff0800"/><stop offset=".9" stop-color="#ff4400"/><stop offset=".941" stop-color="#ffc100"/><stop offset=".96" stop-color="#ffff00"/><stop offset="1" stop-color="#7cff83"/></linearGradient>
<linearGradient id="c17"><stop offset="0" stop-color="#0000a7"/><stop offset=".119" stop-color="#00009e"/><stop offset=".319" stop-color="#00009e"/><stop offset=".419" stop-color="#0000a5"/><stop offset=".5" stop-color="#0000ba"/><stop offset=".539" stop-color="#0000ff"/><stop offset=".6" stop-color="#006fff"/><stop offset=".619" stop-color="#00a2ff"/><stop offset=".646" stop-color="#00ffff"/><stop offset=".7" stop-color="#bcff43"/><stop offset=".718" stop-color="#ffff00"/><stop offset=".796" stop-color="#ff0000"/><stop offset=".8" stop-color="#f30000"/><stop offset=".819" stop-color="#f50000"/><stop offset=".829" stop-color="#ff0000"/><stop offset=".9" stop-color="#ff4900"/><stop offset=".919" stop-color="#ff8300"/><stop offset=".957" stop-color="#ffff00"/><stop offset="1" stop-color="#73ff8c"/></linearGradient>
<linearGradient id="c18"><stop offset="0" stop-color="#0000a8"/><stop offset=".1" stop-color="#00009e"/><stop offset=".3" stop-color="#00009e"/><stop offset=".4" stop-color="#0000a3"/><stop offset=".5" stop-color="#0000bd"/><stop offset=".536" stop-color="#0000ff"/><stop offset=".6" stop-color="#0077ff"/><stop offset=".639" stop-color="#00ffff"/><stop offset=".7" stop-color="#d3ff2c"/><stop offset=".713" stop-color="#ffff00"/><stop offset=".791" stop-color="#ff0000"/><stop offset=".8" stop-color="#e30000"/><stop offset=".826" stop-color="#ff0000"/><stop offset=".9" stop-color="#ff4e00"/><stop offset=".954" stop-color="#ffff00"/><stop offset="1" stop-color="#6aff95"/></linearGradient>
<linearGradient id="c19"><stop offset="0" stop-color="#0000aa"/><stop offset=".1" stop-color="#00009f"/><stop offset=".3" stop-color="#00009f"/><stop offset=".4" stop-color="#0000a6"/><stop offset=".476" stop-color="#0000b9"/><stop offset=".5" stop-color="#0000c2"/><stop offset=".533" stop-color="#0000ff"/><stop offset=".576" stop-color="#004eff"/><stop offset=".6" stop-color="#0082ff"/><stop offset=".636" stop-color="#00ffff"/><stop offset=".676" stop-color="#8aff75"/><stop offset=".7" stop-color="#e7ff18"/><stop offset=".707" stop-color="#ffff00"/><stop offset=".785" stop-color="#ff0000"/><stop offset=".8" stop-color="#cd0000"/><stop offset=".849" stop-color="#ff0000"/><stop offset=".876" stop-color="#ff1c00"/><stop offset=".9" stop-color="#ff5900"/><stop offset=".951" stop-color="#ffff00"/><stop offset="1" stop-color="#5cffa3"/></linearGradient>
<linearGradient id="c20"><stop offset="0" stop-color="#0000ab"/><stop offset=".1" stop-color="#0000a0"/><stop offset=".3" stop-color="#0000a0"/><stop offset=".4" stop-color="#0000a8"/><stop offset=".454" stop-color="#0000b6"/><stop offset=".5" stop-color="#0000c6"/><stop offset=".531" stop-color="#0000ff"/><stop offset=".554" stop-color="#002bff"/><stop offset=".6" stop-color="#008dff"/><stop offset=".633" stop-color="#00ffff"/><stop offset=".654" stop-color="#4affb5"/><stop offset=".701" stop-color="#ffff00"/><stop offset=".779" stop-color="#ff0000"/><stop offset=".8" stop-color="#b70000"/><stop offset=".854" stop-color="#ef0000"/><stop offset=".861" stop-color="#ff0000"/><stop offset=".9" stop-color="#ff6400"/><stop offset=".948" stop-color="#ffff00"/><stop offset="1" stop-color="#4fffb0"/></linearGradient>
<linearGradient id="c21"><stop offset="0" stop-color="#0000ac"/><stop offset=".1" stop-color="#0000a2"/><stop offset=".333" stop-color="#0000a3"/><stop offset=".4" stop-color="#0000aa"/><stop offset=".433" stop-color="#0000b2"/><stop offset=".5" stop-color="#0000ca"/><stop offset=".529" stop-color="#0000ff"/><stop offset=".6" stop-color="#0098ff"/><stop offset=".63" stop-color="#00ffff"/><stop offset=".696" stop-color="#ffff00"/><stop offset=".7" stop-color="#ffef00"/><stop offset=".772" stop-color="#ff0000"/><stop offset=".8" stop-color="#a10000"/><stop offset=".833" stop-color="#c30000"/><stop offset=".857" stop-color="#ff0000"/><stop offset=".9" stop-color="#ff6f00"/><stop offset=".944" stop-color="#ffff00"/><stop offset="1" stop-color="#42ffbd"/></linearGradient>
<linearGradient id="c22"><stop offset="0" stop-color="#0000ad"/><stop offset=".111" stop-color="#0000a3"/><stop offset=".311" stop-color="#0000a3"/><stop offset=".411" stop-color="#0000af"/><stop offset=".5" stop-color="#0000cf"/><stop offset=".524" stop-color="#0000ff"/><stop offset=".6" stop-color="#00a3ff"/><stop offset=".611" stop-color="#00caff"/><stop offset=".625" stop-color="#00ffff"/><stop offset=".691" stop-color="#ffff00"/><stop offset=".7" stop-color="#ffdb00"/><stop offset=".766" stop-color="#ff0000"/><stop offset=".8" stop-color="#8b0000"/><stop offset=".811" stop-color="#970000"/><stop offset=".852" stop-color="#ff0000"/><stop offset=".9" stop-color="#ff7a00"/><stop offset=".94" stop-color="#ffff00"/><stop offset="1" stop-color="#35ffca"/></linearGradient>
<linearGradient id="c23"><stop offset="0" stop-color="#0000ae"/><stop offset=".1" stop-color="#0000a4"/><stop offset=".3" stop-color="#0000a4"/><stop offset=".4" stop-color="#0000ae"/><stop offset=".5" stop-color="#0000d3"/><stop offset=".52" stop-color="#0000ff"/><stop offset=".59" stop-color="#0094ff"/><stop offset=".6" stop-color="#00aeff"/><stop offset=".621" stop-color="#00ffff"/><stop offset=".687" stop-color="#ffff00"/><stop offset=".7" stop-color="#ffca00"/><stop offset=".76" stop-color="#ff0000"/><stop offset=".79" stop-color="#9b0000"/><stop offset=".8" stop-color="#890000"/><stop offset=".846" stop-color="#ff0000"/><stop offset=".9" stop-color="#ff8700"/><stop offset=".936" stop-color="#ffff00"/><stop offset="1" stop-color="#27ffd8"/></linearGradient>
<linearGradient id="c24"><stop offset="0" stop-color="#0000af"/><stop offset=".1" stop-color="#0000a5"/><stop offset=".3" stop-color="#0000a5"/><stop offset=".4" stop-color="#0000b1"/><stop offset=".468" stop-color="#0000c9"/><stop offset=".5" stop-color="#0000d8"/><stop offset=".518" stop-color="#0000ff"/><stop offset=".568" stop-color="#006aff"/><stop offset=".6" stop-color="#00b9ff"/><stop offset=".618" stop-color="#00ffff"/><stop offset=".683" stop-color="#ffff00"/><stop offset=".7" stop-color="#ffba00"/><stop offset=".755" stop-color="#ff0000"/><stop offset=".768" stop-color="#d40000"/><stop offset=".8" stop-color="#9d0000"/><stop offset=".839" stop-color="#ff0000"/><stop offset=".868" stop-color="#ff4b00"/><stop offset=".9" stop-color="#ff9600"/><stop offset=".931" stop-color="#ffff00"/><stop offset="1" stop-color="#17ffe8"/></linearGradient>
<linearGradient id="c25"><stop offset="0" stop-color="#0000b0"/><stop offset=".1" stop-color="#0000a6"/><stop offset=".3" stop-color="#0000a6"/><stop offset=".4" stop-color="#0000b3"/><stop offset=".447" stop-color="#0000c3"/><stop offset=".5" stop-color="#0000dc"/><stop offset=".516" stop-color="#0000ff"/><stop offset=".547" stop-color="#0041ff"/><stop offset=".6" stop-color="#00c4ff"/><stop offset=".615" stop-color="#00ffff"/><stop offset=".647" stop-color="#79ff86"/><stop offset=".679" stop-color="#ffff00"/><stop offset=".7" stop-color="#ffab00"/><stop offset=".747" stop-color="#ff0e00"/><stop offset=".755" stop-color="#ff0000"/><stop offset=".8" stop-color="#b10000"/><stop offset=".831" stop-color="#ff0000"/><stop offset=".847" stop-color="#ff2800"/><stop offset=".9" stop-color="#ffa600"/><stop offset=".927" stop-color="#ffff00"/><stop offset="1" stop-color="#08fff7"/></linearGradient>
<linearGradient id="c26"><stop offset="0" stop-color="#0000b1"/><stop offset=".125" stop-color="#0000a7"/><stop offset=".3" stop-color="#0000a7"/><stop offset=".4" stop-color="#0000b5"/><stop offset=".5" stop-color="#0000e0"/><stop offset=".514" stop-color="#0000ff"/><stop offset=".525" stop-color="#0017ff"/><stop offset=".6" stop-color="#00cfff"/><stop offset=".612" stop-color="#00ffff"/><stop offset=".625" stop-color="#30ffcf"/><stop offset=".676" stop-color="#ffff00"/><stop offset=".7" stop-color="#ff9c00"/><stop offset=".725" stop-color="#ff4800"/><stop offset=".766" stop-color="#ff0000"/><stop offset=".8" stop-color="#c40000"/><stop offset=".823" stop-color="#ff0000"/><stop offset=".9" stop-color="#ffb500"/><stop offset=".922" stop-color="#ffff00"/><stop offset=".998" stop-color="#00ffff"/><stop offset="1" stop-color="#00f7ff"/></linearGradient>
<linearGradient id="c27"><stop offset="0" stop-color="#0000b2"/><stop offset=".1" stop-color="#0000a8"/><stop offset=".3" stop-color="#0000a8"/><stop offset=".4" stop-color="#0000b7"/><stop offset=".5" stop-color="#0000e5"/><stop offset=".511" stop-color="#0000ff"/><stop offset=".6" stop-color="#00daff"/><stop offset=".609" stop-color="#00ffff"/><stop offset=".672" stop-color="#ffff00"/><stop offset=".7" stop-color="#ff8c00"/><stop offset=".778" stop-color="#ff0000"/><stop offset=".8" stop-color="#d80000"/><stop offset=".816" stop-color="#ff0000"/><stop offset=".9" stop-color="#ffc500"/><stop offset=".917" stop-color="#ffff00"/><stop offset=".993" stop-color="#00ffff"/><stop offset="1" stop-color="#00e8ff"/></linearGradient>
<linearGradient id="c28"><stop offset="0" stop-color="#0000b4"/><stop offset=".1" stop-color="#0000a9"/><stop offset=".3" stop-color="#0000aa"/><stop offset=".4" stop-color="#0000ba"/><stop offset=".482" stop-color="#0000e0"/><stop offset=".5" stop-color="#0000eb"/><stop offset=".508" stop-color="#0000ff"/><stop offset=".6" stop-color="#00e1ff"/><stop offset=".607" stop-color="#00ffff"/><stop offset=".67" stop-color="#ffff00"/><stop offset=".7" stop-color="#ff8400"/><stop offset=".776" stop-color="#ff0000"/><stop offset=".782" stop-color="#f50000"/><stop offset=".8" stop-color="#e50000"/><stop offset=".811" stop-color="#ff0000"/><stop offset=".882" stop-color="#ffa500"/><stop offset=".9" stop-color="#ffd600"/><stop offset=".912" stop-color="#ffff00"/><stop offset=".988" stop-color="#00ffff"/><stop offset="1" stop-color="#00d7ff"/></linearGradient>
<linearGradient id="c29"><stop offset="0" stop-color="#0000b6"/><stop offset=".1" stop-color="#0000aa"/><stop offset=".3" stop-color="#0000ac"/><stop offset=".4" stop-color="#0000bd"/><stop offset=".46" stop-color="#0000d9"/><stop offset=".5" stop-color="#0000f2"/><stop offset=".505" stop-color="#0000ff"/><stop offset=".6" stop-color="#00e7ff"/><stop offset=".606" stop-color="#00ffff"/><stop offset=".668" stop-color="#ffff00"/><stop offset=".7" stop-color="#ff7e00"/><stop offset=".76" stop-color="#ff1500"/><stop offset=".783" stop-color="#ff0000"/><stop offset=".8" stop-color="#f00000"/><stop offset=".807" stop-color="#ff0000"/><stop offset=".86" stop-color="#ff7e00"/><stop offset=".9" stop-color="#ffe700"/><stop offset=".907" stop-color="#ffff00"/><stop offset=".983" stop-color="#00ffff"/><stop offset="1" stop-color="#00c5ff"/></linearGradient>
<linearGradient id="c30"><stop offset="0" stop-color="#0000b8"/><stop offset=".1" stop-color="#0000ab"/><stop offset=".3" stop-color="#0000ad"/><stop offset=".4" stop-color="#0000c0"/><stop offset=".439" stop-color="#0000d1"/><stop offset=".5" stop-color="#0000f8"/><stop offset=".503" stop-color="#0000ff"/><stop offset=".6" stop-color="#00eeff"/><stop offset=".604" stop-color="#00ffff"/><stop offset=".667" stop-color="#ffff00"/><stop offset=".7" stop-color="#ff7700"/><stop offset=".739" stop-color="#ff3400"/><stop offset=".795" stop-color="#ff0000"/><stop offset=".8" stop-color="#fb0000"/><stop offset=".802" stop-color="#ff0000"/><stop offset=".839" stop-color="#ff5600"/><stop offset=".902" stop-color="#ffff00"/><stop offset=".978" stop-color="#00ffff"/><stop offset="1" stop-color="#00b3ff"/></linearGradient>
<linearGradient id="c31"><stop offset="0" stop-color="#0000b9"/><stop offset=".117" stop-color="#0000ad"/><stop offset=".3" stop-color="#0000af"/><stop offset=".4" stop-color="#0000c3"/><stop offset=".417" stop-color="#0000ca"/><stop offset=".5" stop-color="#0000ff"/><stop offset=".6" stop-color="#00f5ff"/><stop offset=".603" stop-color="#00ffff"/><stop offset=".665" stop-color="#ffff00"/><stop offset=".7" stop-color="#ff7000"/><stop offset=".717" stop-color="#ff5300"/><stop offset=".8" stop-color="#ff0700"/><stop offset=".817" stop-color="#ff2f00"/><stop offset=".896" stop-color="#ffff00"/><stop offset=".9" stop-color="#f3ff0c"/><stop offset=".972" stop-color="#00ffff"/><stop offset="1" stop-color="#00a2ff"/></linearGradient>
<linearGradient id="c32"><stop offset="0" stop-color="#0000bb"/><stop offset=".1" stop-color="#0000ae"/><stop offset=".3" stop-color="#0000b1"/><stop offset=".4" stop-color="#0000c5"/><stop offset=".491" stop-color="#0000ff"/><stop offset=".5" stop-color="#0007ff"/><stop offset=".601" stop-color="#00ffff"/><stop offset=".664" stop-color="#ffff00"/><stop offset=".7" stop-color="#ff6c00"/><stop offset=".795" stop-color="#ff1400"/><stop offset=".8" stop-color="#ff1400"/><stop offset=".888" stop-color="#ffff00"/><stop offset=".9" stop-color="#deff21"/><stop offset=".966" stop-color="#00ffff"/><stop offset=".995" stop-color="#009cff"/><stop offset="1" stop-color="#0091ff"/></linearGradient>
<linearGradient id="c33"><stop offset="0" stop-color="#0000bd"/><stop offset=".1" stop-color="#0000af"/><stop offset=".3" stop-color="#0000b2"/><stop offset=".4" stop-color="#0000c8"/><stop offset=".484" stop-color="#0000ff"/><stop offset=".5" stop-color="#000dff"/><stop offset=".574" stop-color="#00c2ff"/><stop offset=".6" stop-color="#00ffff"/><stop offset=".662" stop-color="#ffff00"/><stop offset=".674" stop-color="#ffd100"/><stop offset=".7" stop-color="#ff6e00"/><stop offset=".774" stop-color="#ff2a00"/><stop offset=".8" stop-color="#ff2d00"/><stop offset=".874" stop-color="#fff000"/><stop offset=".878" stop-color="#ffff00"/><stop offset=".9" stop-color="#bbff44"/><stop offset=".955" stop-color="#00ffff"/><stop offset=".974" stop-color="#00c1ff"/><stop offset="1" stop-color="#0081ff"/></linearGradient>
<linearGradient id="c34"><stop offset="0" stop-color="#0000be"/><stop offset=".1" stop-color="#0000b0"/><stop offset=".252" stop-color="#0000b1"/><stop offset=".3" stop-color="#0000b4"/><stop offset=".4" stop-color="#0000cb"/><stop offset=".452" stop-color="#0000ec"/><stop offset=".476" stop-color="#0000ff"/><stop offset=".5" stop-color="#0014ff"/><stop offset=".552" stop-color="#0094ff"/><stop offset=".598" stop-color="#00ffff"/><stop offset=".6" stop-color="#05fffa"/><stop offset=".652" stop-color="#daff25"/><stop offset=".662" stop-color="#ffff00"/><stop offset=".7" stop-color="#ff7000"/><stop offset=".752" stop-color="#ff4000"/><stop offset=".8" stop-color="#ff4500"/><stop offset=".852" stop-color="#ffcf00"/><stop offset=".867" stop-color="#ffff00"/><stop offset=".9" stop-color="#98ff67"/><stop offset=".945" stop-color="#00ffff"/><stop offset=".952" stop-color="#00e7ff"/><stop offset="1" stop-color="#0072ff"/></linearGradient>
<linearGradient id="c35"><stop offset="0" stop-color="#0000c0"/><stop offset=".1" stop-color="#0000b1"/><stop offset=".3" stop-color="#0000b5"/><stop offset=".4" stop-color="#0000cd"/><stop offset=".431" stop-color="#0000e1"/><stop offset=".468" stop-color="#0000ff"/><stop offset=".5" stop-color="#001aff"/><stop offset=".596" stop-color="#00ffff"/><stop offset=".6" stop-color="#09fff6"/><stop offset=".631" stop-color="#86ff79"/><stop offset=".663" stop-color="#ffff00"/><stop offset=".7" stop-color="#ff7200"/><stop offset=".731" stop-color="#ff5600"/><stop offset=".8" stop-color="#ff5d00"/><stop offset=".831" stop-color="#ffae00"/><stop offset=".856" stop-color="#ffff00"/><stop offset=".9" stop-color="#74ff8b"/><stop offset=".931" stop-color="#0dfff2"/><stop offset=".936" stop-color="#00ffff"/><stop offset="1" stop-color="#0062ff"/></linearGradient>
<linearGradient id="c36"><stop offset="0" stop-color="#0000c1"/><stop offset=".109" stop-color="#0000b2"/><stop offset=".209" stop-color="#0000b2"/><stop offset=".309" stop-color="#0000b9"/><stop offset=".4" stop-color="#0000d0"/><stop offset=".46" stop-color="#0000ff"/><stop offset=".5" stop-color="#0021ff"/><stop offset=".594" stop-color="#00ffff"/><stop offset=".6" stop-color="#0dfff2"/><stop offset=".609" stop-color="#32ffcd"/><stop offset=".663" stop-color="#ffff00"/><stop offset=".7" stop-color="#ff7400"/><stop offset=".709" stop-color="#ff6c00"/><stop offset=".8" stop-color="#ff7500"/><stop offset=".809" stop-color="#ff8d00"/><stop offset=".845" stop-color="#ffff00"/><stop offset=".909" stop-color="#33ffcc"/><stop offset=".93" stop-color="#00ffff"/><stop offset="1" stop-color="#0053ff"/></linearGradient>
<linearGradient id="c37"><stop offset="0" stop-color="#0000c2"/><stop offset=".1" stop-color="#0000b3"/><stop offset=".2" stop-color="#0000b3"/><stop offset=".3" stop-color="#0000b8"/><stop offset=".4" stop-color="#0000d2"/><stop offset=".455" stop-color="#0000ff"/><stop offset=".5" stop-color="#0026ff"/><stop offset=".587" stop-color="#00f3ff"/><stop offset=".594" stop-color="#00ffff"/><stop offset=".6" stop-color="#0dfff2"/><stop offset=".664" stop-color="#ffff00"/><stop offset=".687" stop-color="#ffa700"/><stop offset=".7" stop-color="#ff7c00"/><stop offset=".787" stop-color="#ff8500"/><stop offset=".8" stop-color="#ff9800"/><stop offset=".833" stop-color="#ffff00"/><stop offset=".887" stop-color="#52ffad"/><stop offset=".92" stop-color="#00ffff"/><stop offset=".987" stop-color="#005bff"/><stop offset="1" stop-color="#0046ff"/></linearGradient>
<linearGradient id="c38"><stop offset="0" stop-color="#0000c2"/><stop offset=".1" stop-color="#0000b4"/><stop offset=".2" stop-color="#0000b4"/><stop offset=".3" stop-color="#0000b9"/><stop offset=".4" stop-color="#0000d3"/><stop offset=".454" stop-color="#0000ff"/><stop offset=".5" stop-color="#0029ff"/><stop offset=".566" stop-color="#00c4ff"/><stop offset=".596" stop-color="#00ffff"/><stop offset=".6" stop-color="#08fff7"/><stop offset=".665" stop-color="#ffff00"/><stop offset=".7" stop-color="#ff8700"/><stop offset=".766" stop-color="#ff8d00"/><stop offset=".8" stop-color="#ffc200"/><stop offset=".819" stop-color="#ffff00"/><stop offset=".866" stop-color="#6cff93"/><stop offset=".909" stop-color="#00ffff"/><stop offset=".966" stop-color="#0073ff"/><stop offset="1" stop-color="#003bff"/></linearGradient>
<linearGradient id="c39"><stop offset="0" stop-color="#0000c2"/><stop offset=".1" stop-color="#0000b5"/><stop offset=".2" stop-color="#0000b5"/><stop offset=".3" stop-color="#0000ba"/><stop offset=".4" stop-color="#0000d4"/><stop offset=".452" stop-color="#0000ff"/><stop offset=".5" stop-color="#002cff"/><stop offset=".544" stop-color="#0094ff"/><stop offset=".598" stop-color="#00ffff"/><stop offset=".6" stop-color="#04fffb"/><stop offset=".644" stop-color="#abff54"/><stop offset=".668" stop-color="#ffff00"/><stop offset=".7" stop-color="#ff9200"/><stop offset=".744" stop-color="#ff9600"/><stop offset=".8" stop-color="#ffeb00"/><stop offset=".806" stop-color="#ffff00"/><stop offset=".844" stop-color="#86ff79"/><stop offset=".897" stop-color="#00ffff"/><stop offset=".944" stop-color="#008bff"/><stop offset="1" stop-color="#0030ff"/></linearGradient>
<linearGradient id="c40"><stop offset="0" stop-color="#0000c2"/><stop offset=".1" stop-color="#0000b6"/><stop offset=".3" stop-color="#0000bc"/><stop offset=".4" stop-color="#0000d5"/><stop offset=".448" stop-color="#0000ff"/><stop offset=".5" stop-color="#0030ff"/><stop offset=".523" stop-color="#0065ff"/><stop offset=".6" stop-color="#00ffff"/><stop offset=".623" stop-color="#55ffaa"/><stop offset=".672" stop-color="#ffff00"/><stop offset=".7" stop-color="#ff9d00"/><stop offset=".723" stop-color="#ff9f00"/><stop offset=".785" stop-color="#ffff00"/><stop offset=".8" stop-color="#e9ff16"/><stop offset=".823" stop-color="#a1ff5e"/><stop offset=".886" stop-color="#00ffff"/><stop offset=".923" stop-color="#00a3ff"/><stop offset="1" stop-color="#0025ff"/></linearGradient>
<linearGradient id="c41"><stop offset="0" stop-color="#0000c2"/><stop offset=".1" stop-color="#0000b8"/><stop offset=".2" stop-color="#0000b8"/><stop offset=".3" stop-color="#0000bd"/><stop offset=".4" stop-color="#0000d6"/><stop offset=".445" stop-color="#0000ff"/><stop offset=".5" stop-color="#0033ff"/><stop offset=".6" stop-color="#00faff"/><stop offset=".601" stop-color="#00ffff"/><stop offset=".675" stop-color="#ffff00"/><stop offset=".7" stop-color="#ffa800"/><stop offset=".758" stop-color="#ffff00"/><stop offset=".8" stop-color="#bfff40"/><stop offset=".875" stop-color="#00ffff"/><stop offset=".9" stop-color="#00beff"/><stop offset="1" stop-color="#001aff"/></linearGradient>
<linearGradient id="c42"><stop offset="0" stop-color="#0000c2"/><stop offset=".1" stop-color="#0000b9"/><stop offset=".2" stop-color="#0000b9"/><stop offset=".3" stop-color="#0000be"/><stop offset=".4" stop-color="#0000d7"/><stop offset=".443" stop-color="#0000ff"/><stop offset=".5" stop-color="#0034ff"/><stop offset=".58" stop-color="#00d2ff"/><stop offset=".6" stop-color="#00f6ff"/><stop offset=".603" stop-color="#00ffff"/><stop offset=".676" stop-color="#ffff00"/><stop offset=".68" stop-color="#fff300"/><stop offset=".7" stop-color="#ffd400"/><stop offset=".728" stop-color="#ffff00"/><stop offset=".78" stop-color="#b0ff4f"/><stop offset=".8" stop-color="#9fff60"/><stop offset=".863" stop-color="#00ffff"/><stop offset=".88" stop-color="#00d4ff"/><stop offset=".9" stop-color="#00b0ff"/><stop offset=".98" stop-color="#002eff"/><stop offset="1" stop-color="#0015ff"/></linearGradient>
<linearGradient id="c43"><stop offset="0" stop-color="#0000c2"/><stop offset=".1" stop-color="#0000ba"/><stop offset=".3" stop-color="#0000bf"/><stop offset=".4" stop-color="#0000d8"/><stop offset=".442" stop-color="#0000ff"/><stop offset=".5" stop-color="#0035ff"/><stop offset=".558" stop-color="#00a8ff"/><stop offset=".6" stop-color="#00f1ff"/><stop offset=".604" stop-color="#00ffff"/><stop offset=".658" stop-color="#bbff44"/><stop offset=".7" stop-color="#fcff03"/><stop offset=".758" stop-color="#a3ff5c"/><stop offset=".8" stop-color="#81ff7e"/><stop offset=".85" stop-color="#00ffff"/><stop offset=".858" stop-color="#00ecff"/><stop offset=".9" stop-color="#00a3ff"/><stop offset=".958" stop-color="#0044ff"/><stop offset="1" stop-color="#0011ff"/></linearGradient>
<linearGradient id="c44"><stop offset="0" stop-color="#0000c2"/><stop offset=".136" stop-color="#0000bb"/><stop offset=".3" stop-color="#0000c0"/><stop offset=".4" stop-color="#0000d9"/><stop offset=".441" stop-color="#0000ff"/><stop offset=".5" stop-color="#0036ff"/><stop offset=".536" stop-color="#007fff"/><stop offset=".6" stop-color="#00edff"/><stop offset=".605" stop-color="#00ffff"/><stop offset=".636" stop-color="#6cff93"/><stop offset=".7" stop-color="#cdff32"/><stop offset=".736" stop-color="#96ff69"/><stop offset=".8" stop-color="#62ff9d"/><stop offset=".836" stop-color="#05fffa"/><stop offset=".839" stop-color="#00ffff"/><stop offset=".936" stop-color="#005aff"/><stop offset="1" stop-color="#000dff"/></linearGradient>
<linearGradient id="c45"><stop offset="0" stop-color="#0000c2"/><stop offset=".115" stop-color="#0000bc"/><stop offset=".3" stop-color="#0000c1"/><stop offset=".4" stop-color="#0000db"/><stop offset=".44" stop-color="#0000ff"/><stop offset=".5" stop-color="#0037ff"/><stop offset=".515" stop-color="#0055ff"/><stop offset=".6" stop-color="#00e9ff"/><stop offset=".606" stop-color="#00ffff"/><stop offset=".615" stop-color="#1dffe2"/><stop offset=".7" stop-color="#9fff60"/><stop offset=".715" stop-color="#89ff76"/><stop offset=".8" stop-color="#43ffbc"/><stop offset=".815" stop-color="#1dffe2"/><stop offset=".832" stop-color="#00ffff"/><stop offset=".915" stop-color="#0070ff"/><stop offset="1" stop-color="#0008ff"/></linearGradient>
<linearGradient id="c46"><stop offset="0" stop-color="#0000c2"/><stop offset=".1" stop-color="#0000bd"/><stop offset=".2" stop-color="#0000bd"/><stop offset=".3" stop-color="#0000c2"/><stop offset=".4" stop-color="#0000db"/><stop offset=".439" stop-color="#0000ff"/><stop offset=".5" stop-color="#0037ff"/><stop offset=".6" stop-color="#00e1ff"/><stop offset=".62" stop-color="#00ffff"/><stop offset=".7" stop-color="#79ff86"/><stop offset=".8" stop-color="#2bffd4"/><stop offset=".825" stop-color="#00ffff"/><stop offset=".9" stop-color="#0080ff"/><stop offset="1" stop-color="#0006ff"/></linearGradient>
<linearGradient id="c47"><stop offset="0" stop-color="#0000c3"/><stop offset=".1" stop-color="#0000bd"/><stop offset=".2" stop-color="#0000bd"/><stop offset=".3" stop-color="#0000c3"/><stop offset=".4" stop-color="#0000db"/><stop offset=".439" stop-color="#0000ff"/><stop offset=".486" stop-color="#002bff"/><stop offset=".5" stop-color="#0032ff"/><stop offset=".586" stop-color="#00c7ff"/><stop offset=".6" stop-color="#00d1ff"/><stop offset=".63" stop-color="#00ffff"/><stop offset=".686" stop-color="#56ffa9"/><stop offset=".7" stop-color="#65ff9a"/><stop offset=".786" stop-color="#1fffe0"/><stop offset=".8" stop-color="#22ffdd"/><stop offset=".82" stop-color="#00ffff"/><stop offset=".886" stop-color="#008dff"/><stop offset=".9" stop-color="#0080ff"/><stop offset=".986" stop-color="#0016ff"/><stop offset="1" stop-color="#0008ff"/></linearGradient>
<linearGradient id="c48"><stop offset="0" stop-color="#0000c3"/><stop offset=".1" stop-color="#0000be"/><stop offset=".2" stop-color="#0000be"/><stop offset=".3" stop-color="#0000c3"/><stop offset=".4" stop-color="#0000db"/><stop offset=".439" stop-color="#0000ff"/><stop offset=".475" stop-color="#0021ff"/><stop offset=".5" stop-color="#002eff"/><stop offset=".575" stop-color="#00b0ff"/><stop offset=".6" stop-color="#00c2ff"/><stop offset=".64" stop-color="#00ffff"/><stop offset=".675" stop-color="#36ffc9"/><stop offset=".7" stop-color="#52ffad"/><stop offset=".775" stop-color="#14ffeb"/><stop offset=".8" stop-color="#1affe5"/><stop offset=".815" stop-color="#00ffff"/><stop offset=".875" stop-color="#0096ff"/><stop offset=".9" stop-color="#0080ff"/><stop offset=".975" stop-color="#0024ff"/><stop offset="1" stop-color="#000aff"/></linearGradient>
<linearGradient id="c49"><stop offset="0" stop-color="#0000c4"/><stop offset=".2" stop-color="#0000bf"/><stop offset=".3" stop-color="#0000c4"/><stop offset=".4" stop-color="#0000db"/><stop offset=".439" stop-color="#0000ff"/><stop offset=".464" stop-color="#0017ff"/><stop offset=".5" stop-color="#002aff"/><stop offset=".564" stop-color="#0099ff"/><stop offset=".6" stop-color="#00b2ff"/><stop offset=".65" stop-color="#00ffff"/><stop offset=".664" stop-color="#16ffe9"/><stop offset=".7" stop-color="#3effc1"/><stop offset=".764" stop-color="#09fff6"/><stop offset=".8" stop-color="#11ffee"/><stop offset=".81" stop-color="#00ffff"/><stop offset=".864" stop-color="#00a0ff"/><stop offset=".9" stop-color="#0080ff"/><stop offset=".964" stop-color="#0031ff"/><stop offset="1" stop-color="#000cff"/></linearGradient>
<linearGradient id="c50"><stop offset="0" stop-color="#0000c4"/><stop offset=".2" stop-color="#0000bf"/><stop offset=".3" stop-color="#0000c4"/><stop offset=".4" stop-color="#0000db"/><stop offset=".439" stop-color="#0000ff"/><stop offset=".453" stop-color="#000dff"/><stop offset=".5" stop-color="#0025ff"/><stop offset=".553" stop-color="#0082ff"/><stop offset=".6" stop-color="#00a3ff"/><stop offset=".653" stop-color="#00f5ff"/><stop offset=".663" stop-color="#00ffff"/><stop offset=".7" stop-color="#2affd5"/><stop offset=".753" stop-color="#00fdff"/><stop offset=".8" stop-color="#08fff7"/><stop offset=".805" stop-color="#00ffff"/><stop offset=".853" stop-color="#00aaff"/><stop offset=".9" stop-color="#0080ff"/><stop offset=".953" stop-color="#003eff"/><stop offset="1" stop-color="#000fff"/></linearGradient>
<linearGradient id="c51"><stop offset="0" stop-color="#0000c5"/><stop offset=".2" stop-color="#0000c0"/><stop offset=".3" stop-color="#0000c5"/><stop offset=".4" stop-color="#0000db"/><stop offset=".439" stop-color="#0000ff"/><stop offset=".5" stop-color="#0021ff"/><stop offset=".543" stop-color="#006bff"/><stop offset=".6" stop-color="#0094ff"/><stop offset=".643" stop-color="#00d5ff"/><stop offset=".68" stop-color="#00ffff"/><stop offset=".7" stop-color="#16ffe9"/><stop offset=".727" stop-color="#00ffff"/><stop offset=".743" stop-color="#00f2ff"/><stop offset=".8" stop-color="#00feff"/><stop offset=".843" stop-color="#00b4ff"/><stop offset=".9" stop-color="#0080ff"/><stop offset=".943" stop-color="#004bff"/><stop offset="1" stop-color="#0011ff"/></linearGradient>
<linearGradient id="c52"><stop offset="0" stop-color="#0000c5"/><stop offset=".2" stop-color="#0000c0"/><stop offset=".3" stop-color="#0000c5"/><stop offset=".4" stop-color="#0000db"/><stop offset=".432" stop-color="#0000f9"/><stop offset=".445" stop-color="#0000ff"/><stop offset=".5" stop-color="#001cff"/><stop offset=".532" stop-color="#0054ff"/><stop offset=".6" stop-color="#0084ff"/><stop offset=".632" stop-color="#00b5ff"/><stop offset=".698" stop-color="#00ffff"/><stop offset=".7" stop-color="#02fffd"/><stop offset=".703" stop-color="#00ffff"/><stop offset=".732" stop-color="#00e7ff"/><stop offset=".8" stop-color="#00f5ff"/><stop offset=".832" stop-color="#00beff"/><stop offset=".9" stop-color="#0080ff"/><stop offset=".932" stop-color="#0059ff"/><stop offset="1" stop-color="#0013ff"/></linearGradient>
<linearGradient id="c53"><stop offset="0" stop-color="#0000c6"/><stop offset=".221" stop-color="#0000c2"/><stop offset=".3" stop-color="#0000c6"/><stop offset=".4" stop-color="#0000db"/><stop offset=".421" stop-color="#0000ef"/><stop offset=".453" stop-color="#0000ff"/><stop offset=".5" stop-color="#0018ff"/><stop offset=".521" stop-color="#003cff"/><stop offset=".6" stop-color="#0075ff"/><stop offset=".621" stop-color="#0095ff"/><stop offset=".7" stop-color="#00eeff"/><stop offset=".721" stop-color="#00dcff"/><stop offset=".8" stop-color="#00ecff"/><stop offset=".821" stop-color="#00c8ff"/><stop offset=".9" stop-color="#0080ff"/><stop offset=".921" stop-color="#0066ff"/><stop offset="1" stop-color="#0015ff"/></linearGradient>
<linearGradient id="c54"><stop offset="0" stop-color="#0000c6"/><stop offset=".11" stop-color="#0000c1"/><stop offset=".3" stop-color="#0000c6"/><stop offset=".4" stop-color="#0000db"/><stop offset=".41" stop-color="#0000e5"/><stop offset=".462" stop-color="#0000ff"/><stop offset=".5" stop-color="#0013ff"/><stop offset=".51" stop-color="#0025ff"/><stop offset=".6" stop-color="#0065ff"/><stop offset=".61" stop-color="#0075ff"/><stop offset=".7" stop-color="#00daff"/><stop offset=".71" stop-color="#00d1ff"/><stop offset=".8" stop-color="#00e4ff"/><stop offset=".81" stop-color="#00d2ff"/><stop offset=".9" stop-color="#0080ff"/><stop offset=".91" stop-color="#0073ff"/><stop offset="1" stop-color="#0017ff"/></linearGradient>
<linearGradient id="c55"><stop offset="0" stop-color="#0000c7"/><stop offset=".1" stop-color="#0000c2"/><stop offset=".2" stop-color="#0000c2"/><stop offset=".3" stop-color="#0000c7"/><stop offset=".4" stop-color="#0000db"/><stop offset=".47" stop-color="#0000ff"/><stop offset=".5" stop-color="#000fff"/><stop offset=".6" stop-color="#0056ff"/><stop offset=".7" stop-color="#00c6ff"/><stop offset=".8" stop-color="#00dbff"/><stop offset=".9" stop-color="#0080ff"/><stop offset="1" stop-color="#001aff"/></linearGradient>
<linearGradient id="c56"><stop offset="0" stop-color="#0000c8"/><stop offset=".1" stop-color="#0000c2"/><stop offset=".2" stop-color="#0000c2"/><stop offset=".3" stop-color="#0000c6"/><stop offset=".4" stop-color="#0000da"/><stop offset=".473" stop-color="#0000ff"/><stop offset=".489" stop-color="#0008ff"/><stop offset=".5" stop-color="#000aff"/><stop offset=".6" stop-color="#004fff"/><stop offset=".689" stop-color="#00b2ff"/><stop offset=".7" stop-color="#00bbff"/><stop offset=".789" stop-color="#00cdff"/><stop offset=".8" stop-color="#00daff"/><stop offset=".889" stop-color="#0089ff"/><stop offset=".9" stop-color="#0082ff"/><stop offset=".989" stop-color="#0027ff"/><stop offset="1" stop-color="#0019ff"/></linearGradient>
<linearGradient id="c57"><stop offset="0" stop-color="#0000c9"/><stop offset=".1" stop-color="#0000c3"/><stop offset=".2" stop-color="#0000c2"/><stop offset=".3" stop-color="#0000c6"/><stop offset=".4" stop-color="#0000d8"/><stop offset=".478" stop-color="#0001ff"/><stop offset=".5" stop-color="#0005ff"/><stop offset=".578" stop-color="#003dff"/><stop offset=".6" stop-color="#0047ff"/><stop offset=".678" stop-color="#009eff"/><stop offset=".7" stop-color="#00b0ff"/><stop offset=".778" stop-color="#00c0ff"/><stop offset=".8" stop-color="#00d9ff"/><stop offset=".878" stop-color="#0092ff"/><stop offset=".9" stop-color="#0084ff"/><stop offset=".978" stop-color="#0035ff"/><stop offset="1" stop-color="#001aff"/></linearGradient>
<linearGradient id="c58"><stop offset="0" stop-color="#0000ca"/><stop offset=".1" stop-color="#0000c3"/><stop offset=".2" stop-color="#0000c2"/><stop offset=".3" stop-color="#0000c5"/><stop offset=".367" stop-color="#0000d3"/><stop offset=".4" stop-color="#0000d6"/><stop offset=".467" stop-color="#0000f8"/><stop offset=".5" stop-color="#0000ff"/><stop offset=".567" stop-color="#0030ff"/><stop offset=".6" stop-color="#003fff"/><stop offset=".667" stop-color="#008aff"/><stop offset=".7" stop-color="#00a5ff"/><stop offset=".767" stop-color="#00b3ff"/><stop offset=".8" stop-color="#00d8ff"/><stop offset=".867" stop-color="#009aff"/><stop offset=".9" stop-color="#0086ff"/><stop offset=".967" stop-color="#0042ff"/><stop offset="1" stop-color="#001aff"/></linearGradient>
<linearGradient id="c59"><stop offset="0" stop-color="#0000cb"/><stop offset=".1" stop-color="#0000c4"/><stop offset=".2" stop-color="#0000c2"/><stop offset=".3" stop-color="#0000c5"/><stop offset=".4" stop-color="#0000d5"/><stop offset=".456" stop-color="#0000f1"/><stop offset=".5" stop-color="#0000fa"/><stop offset=".507" stop-color="#0000ff"/><stop offset=".556" stop-color="#0023ff"/><stop offset=".6" stop-color="#0037ff"/><stop offset=".656" stop-color="#0077ff"/><stop offset=".7" stop-color="#009aff"/><stop offset=".756" stop-color="#00a6ff"/><stop offset=".8" stop-color="#00d7ff"/><stop offset=".856" stop-color="#00a3ff"/><stop offset=".9" stop-color="#0088ff"/><stop offset=".956" stop-color="#004fff"/><stop offset="1" stop-color="#001aff"/></linearGradient>
<linearGradient id="c60"><stop offset="0" stop-color="#0000cc"/><stop offset=".1" stop-color="#0000c5"/><stop offset=".2" stop-color="#0000c2"/><stop offset=".3" stop-color="#0000c4"/><stop offset=".345" stop-color="#0000cd"/><stop offset=".4" stop-color="#0000d3"/><stop offset=".445" stop-color="#0000ea"/><stop offset=".5" stop-color="#0000f5"/><stop offset=".514" stop-color="#0000ff"/><stop offset=".545" stop-color="#0017ff"/><stop offset=".6" stop-color="#0030ff"/><stop offset=".645" stop-color="#0063ff"/><stop offset=".7" stop-color="#008fff"/><stop offset=".745" stop-color="#0099ff"/><stop offset=".8" stop-color="#00d6ff"/><stop offset=".845" stop-color="#00acff"/><stop offset=".9" stop-color="#008bff"/><stop offset=".945" stop-color="#005cff"/><stop offset="1" stop-color="#001aff"/></linearGradient>
<linearGradient id="c61"><stop offset="0" stop-color="#0000ce"/><stop offset=".1" stop-color="#0000c5"/><stop offset=".2" stop-color="#0000c2"/><stop offset=".3" stop-color="#0000c4"/><stop offset=".335" stop-color="#0000cb"/><stop offset=".4" stop-color="#0000d1"/><stop offset=".435" stop-color="#0000e3"/><stop offset=".5" stop-color="#0000f0"/><stop offset=".521" stop-color="#0000ff"/><stop offset=".535" stop-color="#000aff"/><stop offset=".6" stop-color="#0028ff"/><stop offset=".635" stop-color="#004fff"/><stop offset=".7" stop-color="#0084ff"/><stop offset=".735" stop-color="#008bff"/><stop offset=".8" stop-color="#00d5ff"/><stop offset=".835" stop-color="#00b5ff"/><stop offset=".9" stop-color="#008dff"/><stop offset=".935" stop-color="#0069ff"/><stop offset="1" stop-color="#001aff"/></linearGradient>
<linearGradient id="c62"><stop offset="0" stop-color="#0000cf"/><stop offset=".2" stop-color="#0000c2"/><stop offset=".3" stop-color="#0000c3"/><stop offset=".4" stop-color="#0000d0"/><stop offset=".424" stop-color="#0000dc"/><stop offset=".5" stop-color="#0000eb"/><stop offset=".529" stop-color="#0000ff"/><stop offset=".6" stop-color="#0020ff"/><stop offset=".624" stop-color="#003bff"/><stop offset=".7" stop-color="#0079ff"/><stop offset=".724" stop-color="#007eff"/><stop offset=".8" stop-color="#00d4ff"/><stop offset=".824" stop-color="#00beff"/><stop offset=".9" stop-color="#008fff"/><stop offset=".924" stop-color="#0077ff"/><stop offset="1" stop-color="#001aff"/></linearGradient>
<linearGradient id="c63"><stop offset="0" stop-color="#0000d0"/><stop offset=".113" stop-color="#0000c6"/><stop offset=".3" stop-color="#0000c2"/><stop offset=".4" stop-color="#0000ce"/><stop offset=".413" stop-color="#0000d5"/><stop offset=".5" stop-color="#0000e6"/><stop offset=".513" stop-color="#0000f0"/><stop offset=".546" stop-color="#0000ff"/><stop offset=".6" stop-color="#0019ff"/><stop offset=".613" stop-color="#0027ff"/><stop offset=".7" stop-color="#006eff"/><stop offset=".713" stop-color="#0071ff"/><stop offset=".8" stop-color="#00d2ff"/><stop offset=".813" stop-color="#00c6ff"/><stop offset=".9" stop-color="#0091ff"/><stop offset=".913" stop-color="#0084ff"/><stop offset="1" stop-color="#001aff"/></linearGradient>
<linearGradient id="c64"><stop offset="0" stop-color="#0000d1"/><stop offset=".1" stop-color="#0000c7"/><stop offset=".2" stop-color="#0000c2"/><stop offset=".3" stop-color="#0000c2"/><stop offset=".4" stop-color="#0000cc"/><stop offset=".5" stop-color="#0000e1"/><stop offset=".564" stop-color="#0000ff"/><stop offset=".6" stop-color="#0011ff"/><stop offset=".7" stop-color="#0063ff"/><stop offset=".8" stop-color="#00d1ff"/><stop offset=".9" stop-color="#0093ff"/><stop offset="1" stop-color="#001aff"/></linearGradient>
<linearGradient id="c65"><stop offset="0" stop-color="#0000d2"/><stop offset=".1" stop-color="#0000c7"/><stop offset=".2" stop-color="#0000c2"/><stop offset=".3" stop-color="#0000c1"/><stop offset=".4" stop-color="#0000cb"/><stop offset=".5" stop-color="#0000dd"/><stop offset=".573" stop-color="#0000ff"/><stop offset=".6" stop-color="#000aff"/><stop offset=".692" stop-color="#0055ff"/><stop offset=".7" stop-color="#0059ff"/><stop offset=".8" stop-color="#00c8ff"/><stop offset=".892" stop-color="#0090ff"/><stop offset=".9" stop-color="#0091ff"/><stop offset=".992" stop-color="#0021ff"/><stop offset="1" stop-color="#001aff"/></linearGradient>
<linearGradient id="c66"><stop offset="0" stop-color="#0000d2"/><stop offset=".1" stop-color="#0000c8"/><stop offset=".2" stop-color="#0000c2"/><stop offset=".3" stop-color="#0000c1"/><stop offset=".4" stop-color="#0000c9"/><stop offset=".481" stop-color="#0000da"/><stop offset=".5" stop-color="#0000da"/><stop offset=".583" stop-color="#0000ff"/><stop offset=".6" stop-color="#0004ff"/><stop offset=".681" stop-color="#0045ff"/><stop offset=".7" stop-color="#004fff"/><stop offset=".781" stop-color="#00aaff"/><stop offset=".8" stop-color="#00bbff"/><stop offset=".881" stop-color="#008aff"/><stop offset=".9" stop-color="#008eff"/><stop offset=".981" stop-color="#002bff"/><stop offset="1" stop-color="#001aff"/></linearGradient>
<linearGradient id="c67"><stop offset="0" stop-color="#0000d3"/><stop offset=".1" stop-color="#0000c8"/><stop offset=".2" stop-color="#0000c2"/><stop offset=".3" stop-color="#0000c0"/><stop offset=".37" stop-color="#0000c7"/><stop offset=".4" stop-color="#0000c7"/><stop offset=".47" stop-color="#0000d6"/><stop offset=".5" stop-color="#0000d6"/><stop offset=".57" stop-color="#0000f6"/><stop offset=".604" stop-color="#0000ff"/><stop offset=".67" stop-color="#0036ff"/><stop offset=".7" stop-color="#0045ff"/><stop offset=".77" stop-color="#0094ff"/><stop offset=".8" stop-color="#00afff"/><stop offset=".87" stop-color="#0085ff"/><stop offset=".9" stop-color="#008bff"/><stop offset=".97" stop-color="#0035ff"/><stop offset="1" stop-color="#001aff"/></linearGradient>
<linearGradient id="c68"><stop offset="0" stop-color="#0000d3"/><stop offset=".2" stop-color="#0000c2"/><stop offset=".3" stop-color="#0000c0"/><stop offset=".359" stop-color="#0000c6"/><stop offset=".4" stop-color="#0000c6"/><stop offset=".459" stop-color="#0000d2"/><stop offset=".5" stop-color="#0000d2"/><stop offset=".559" stop-color="#0000ed"/><stop offset=".6" stop-color="#0000f5"/><stop offset=".612" stop-color="#0000ff"/><stop offset=".659" stop-color="#0027ff"/><stop offset=".7" stop-color="#003bff"/><stop offset=".759" stop-color="#007eff"/><stop offset=".8" stop-color="#00a3ff"/><stop offset=".859" stop-color="#007fff"/><stop offset=".9" stop-color="#0087ff"/><stop offset=".959" stop-color="#003fff"/><stop offset="1" stop-color="#001aff"/></linearGradient>
<linearGradient id="c69"><stop offset="0" stop-color="#0000d4"/><stop offset=".2" stop-color="#0000c2"/><stop offset=".3" stop-color="#0000bf"/><stop offset=".348" stop-color="#0000c4"/><stop offset=".4" stop-color="#0000c4"/><stop offset=".448" stop-color="#0000ce"/><stop offset=".5" stop-color="#0000ce"/><stop offset=".548" stop-color="#0000e4"/><stop offset=".6" stop-color="#0000ef"/><stop offset=".62" stop-color="#0000ff"/><stop offset=".648" stop-color="#0017ff"/><stop offset=".7" stop-color="#0031ff"/><stop offset=".748" stop-color="#0068ff"/><stop offset=".8" stop-color="#0097ff"/><stop offset=".848" stop-color="#007aff"/><stop offset=".9" stop-color="#0084ff"/><stop offset=".948" stop-color="#0049ff"/><stop offset="1" stop-color="#001aff"/></linearGradient>
<linearGradient id="c70"><stop offset="0" stop-color="#0000d4"/><stop offset=".2" stop-color="#0000c2"/><stop offset=".3" stop-color="#0000bf"/><stop offset=".4" stop-color="#0000c2"/><stop offset=".438" stop-color="#0000ca"/><stop offset=".5" stop-color="#0000ca"/><stop offset=".538" stop-color="#0000db"/><stop offset=".6" stop-color="#0000e8"/><stop offset=".628" stop-color="#0000ff"/><stop offset=".638" stop-color="#0008ff"/><stop offset=".7" stop-color="#0028ff"/><stop offset=".738" stop-color="#0052ff"/><stop offset=".8" stop-color="#008bff"/><stop offset=".838" stop-color="#0074ff"/><stop offset=".9" stop-color="#0081ff"/><stop offset=".938" stop-color="#0053ff"/><stop offset="1" stop-color="#001aff"/></linearGradient>
<linearGradient id="c71"><stop offset="0" stop-color="#0000d5"/><stop offset=".2" stop-color="#0000c2"/><stop offset=".3" stop-color="#0000be"/><stop offset=".327" stop-color="#0000c1"/><stop offset=".4" stop-color="#0000c1"/><stop offset=".427" stop-color="#0000c6"/><stop offset=".5" stop-color="#0000c6"/><stop offset=".527" stop-color="#0000d3"/><stop offset=".6" stop-color="#0000e1"/><stop offset=".627" stop-color="#0000f7"/><stop offset=".642" stop-color="#0000ff"/><stop offset=".7" stop-color="#001eff"/><stop offset=".727" stop-color="#003cff"/><stop offset=".8" stop-color="#007fff"/><stop offset=".827" stop-color="#006fff"/><stop offset=".9" stop-color="#007dff"/><stop offset=".927" stop-color="#005dff"/><stop offset="1" stop-color="#001aff"/></linearGradient>
<linearGradient id="c72"><stop offset="0" stop-color="#0000d5"/><stop offset=".216" stop-color="#0000c2"/><stop offset=".4" stop-color="#0000bf"/><stop offset=".416" stop-color="#0000c2"/><stop offset=".5" stop-color="#0000c2"/><stop offset=".516" stop-color="#0000ca"/><stop offset=".6" stop-color="#0000db"/><stop offset=".616" stop-color="#0000e8"/><stop offset=".661" stop-color="#0000ff"/><stop offset=".7" stop-color="#0014ff"/><stop offset=".716" stop-color="#0026ff"/><stop offset=".8" stop-color="#0073ff"/><stop offset=".816" stop-color="#0069ff"/><stop offset=".9" stop-color="#007aff"/><stop offset=".916" stop-color="#0067ff"/><stop offset="1" stop-color="#001aff"/></linearGradient>
<linearGradient id="c73"><stop offset="0" stop-color="#0000d6"/><stop offset=".205" stop-color="#0000c2"/><stop offset=".305" stop-color="#0000bd"/><stop offset=".505" stop-color="#0000c1"/><stop offset=".6" stop-color="#0000d4"/><stop offset=".681" stop-color="#0000ff"/><stop offset=".7" stop-color="#000aff"/><stop offset=".8" stop-color="#0067ff"/><stop offset=".805" stop-color="#0064ff"/><stop offset=".9" stop-color="#0077ff"/><stop offset="1" stop-color="#001aff"/></linearGradient>
<linearGradient id="c74"><stop offset="0" stop-color="#0000d5"/><stop offset=".2" stop-color="#0000c1"/><stop offset=".3" stop-color="#0000bc"/><stop offset=".5" stop-color="#0000bb"/><stop offset=".6" stop-color="#0000cf"/><stop offset=".695" stop-color="#0000ff"/><stop offset=".7" stop-color="#0001ff"/><stop offset=".794" stop-color="#0057ff"/><stop offset=".9" stop-color="#006dff"/><stop offset=".994" stop-color="#0017ff"/><stop offset="1" stop-color="#0016ff"/></linearGradient>
<linearGradient id="c75"><stop offset="0" stop-color="#0000d4"/><stop offset=".2" stop-color="#0000bf"/><stop offset=".3" stop-color="#0000ba"/><stop offset=".5" stop-color="#0000b9"/><stop offset=".584" stop-color="#0000ca"/><stop offset=".6" stop-color="#0000ca"/><stop offset=".684" stop-color="#0000f5"/><stop offset=".7" stop-color="#0000f7"/><stop offset=".709" stop-color="#0000ff"/><stop offset=".784" stop-color="#0044ff"/><stop offset=".9" stop-color="#005eff"/><stop offset=".984" stop-color="#0011ff"/><stop offset="1" stop-color="#000fff"/></linearGradient>
<linearGradient id="c76"><stop offset="0" stop-color="#0000d2"/><stop offset=".2" stop-color="#0000be"/><stop offset=".3" stop-color="#0000b9"/><stop offset=".473" stop-color="#0000b9"/><stop offset=".5" stop-color="#0000b6"/><stop offset=".573" stop-color="#0000c5"/><stop offset=".6" stop-color="#0000c6"/><stop offset=".673" stop-color="#0000eb"/><stop offset=".7" stop-color="#0000ee"/><stop offset=".719" stop-color="#0000ff"/><stop offset=".773" stop-color="#0032ff"/><stop offset=".873" stop-color="#0046ff"/><stop offset=".9" stop-color="#004eff"/><stop offset=".973" stop-color="#000cff"/><stop offset="1" stop-color="#0009ff"/></linearGradient>
<linearGradient id="c77"><stop offset="0" stop-color="#0000d0"/><stop offset=".2" stop-color="#0000bc"/><stop offset=".5" stop-color="#0000b4"/><stop offset=".562" stop-color="#0000c0"/><stop offset=".6" stop-color="#0000c2"/><stop offset=".662" stop-color="#0000e1"/><stop offset=".7" stop-color="#0000e5"/><stop offset=".728" stop-color="#0000ff"/><stop offset=".762" stop-color="#001fff"/><stop offset=".862" stop-color="#0033ff"/><stop offset=".9" stop-color="#003fff"/><stop offset=".962" stop-color="#0006ff"/><stop offset="1" stop-color="#0002ff"/></linearGradient>
<linearGradient id="c78"><stop offset="0" stop-color="#0000cf"/><stop offset=".2" stop-color="#0000ba"/><stop offset=".451" stop-color="#0000b5"/><stop offset=".5" stop-color="#0000b1"/><stop offset=".551" stop-color="#0000bc"/><stop offset=".6" stop-color="#0000bd"/><stop offset=".651" stop-color="#0000d7"/><stop offset=".7" stop-color="#0000dc"/><stop offset=".738" stop-color="#0000ff"/><stop offset=".751" stop-color="#000cff"/><stop offset=".851" stop-color="#0021ff"/><stop offset=".9" stop-color="#0030ff"/><stop offset=".951" stop-color="#0001ff"/><stop offset="1" stop-color="#0000fb"/></linearGradient>
<linearGradient id="c79"><stop offset="0" stop-color="#0000cd"/><stop offset=".3" stop-color="#0000b4"/><stop offset=".44" stop-color="#0000b4"/><stop offset=".5" stop-color="#0000af"/><stop offset=".54" stop-color="#0000b7"/><stop offset=".6" stop-color="#0000b9"/><stop offset=".64" stop-color="#0000cd"/><stop offset=".7" stop-color="#0000d3"/><stop offset=".74" stop-color="#0000f9"/><stop offset=".772" stop-color="#0000ff"/><stop offset=".84" stop-color="#000eff"/><stop offset=".9" stop-color="#0020ff"/><stop offset=".935" stop-color="#0000ff"/><stop offset=".94" stop-color="#0000fa"/><stop offset="1" stop-color="#0000f4"/></linearGradient>
<linearGradient id="c80"><stop offset="0" stop-color="#0000cb"/><stop offset=".3" stop-color="#0000b2"/><stop offset=".43" stop-color="#0000b2"/><stop offset=".5" stop-color="#0000ac"/><stop offset=".53" stop-color="#0000b2"/><stop offset=".6" stop-color="#0000b4"/><stop offset=".63" stop-color="#0000c3"/><stop offset=".7" stop-color="#0000cb"/><stop offset=".73" stop-color="#0000e6"/><stop offset=".845" stop-color="#0000ff"/><stop offset=".9" stop-color="#0011ff"/><stop offset=".918" stop-color="#0000ff"/><stop offset=".93" stop-color="#0000f5"/><stop offset="1" stop-color="#0000ed"/></linearGradient>
<linearGradient id="c81"><stop offset="0" stop-color="#0000ca"/><stop offset=".219" stop-color="#0000b4"/><stop offset=".419" stop-color="#0000b0"/><stop offset=".5" stop-color="#0000aa"/><stop offset=".519" stop-color="#0000ae"/><stop offset=".6" stop-color="#0000b0"/><stop offset=".619" stop-color="#0000ba"/><stop offset=".7" stop-color="#0000c2"/><stop offset=".719" stop-color="#0000d3"/><stop offset=".819" stop-color="#0000e8"/><stop offset=".902" stop-color="#0000ff"/><stop offset=".919" stop-color="#0000ef"/><stop offset="1" stop-color="#0000e7"/></linearGradient>
<linearGradient id="c82"><stop offset="0" stop-color="#0000c8"/><stop offset=".208" stop-color="#0000b3"/><stop offset=".408" stop-color="#0000af"/><stop offset=".5" stop-color="#0000a7"/><stop offset=".6" stop-color="#0000ac"/><stop offset=".608" stop-color="#0000b0"/><stop offset=".7" stop-color="#0000b9"/><stop offset=".708" stop-color="#0000c0"/><stop offset=".808" stop-color="#0000d5"/><stop offset=".9" stop-color="#0000f1"/><stop offset=".908" stop-color="#0000ea"/><stop offset="1" stop-color="#0000e0"/></linearGradient>
<linearGradient id="c83"><stop offset="0" stop-color="#0000c7"/><stop offset=".2" stop-color="#0000b2"/><stop offset=".3" stop-color="#0000ad"/><stop offset=".4" stop-color="#0000ad"/><stop offset=".5" stop-color="#0000a5"/><stop offset=".6" stop-color="#0000a8"/><stop offset=".7" stop-color="#0000b2"/><stop offset=".8" stop-color="#0000c6"/><stop offset=".9" stop-color="#0000e4"/><stop offset="1" stop-color="#0000da"/></linearGradient>
<linearGradient id="c84"><stop offset="0" stop-color="#0000c6"/><stop offset=".2" stop-color="#0000b0"/><stop offset=".3" stop-color="#0000ab"/><stop offset=".4" stop-color="#0000ab"/><stop offset=".5" stop-color="#0000a4"/><stop offset=".6" stop-color="#0000a6"/><stop offset=".7" stop-color="#0000ae"/><stop offset=".8" stop-color="#0000c1"/><stop offset=".9" stop-color="#0000dd"/><stop offset=".986" stop-color="#0000d4"/><stop offset="1" stop-color="#0000d6"/></linearGradient>
<linearGradient id="c85"><stop offset="0" stop-color="#0000c4"/><stop offset=".2" stop-color="#0000af"/><stop offset=".3" stop-color="#0000aa"/><stop offset=".4" stop-color="#0000aa"/><stop offset=".5" stop-color="#0000a2"/><stop offset=".576" stop-color="#0000a5"/><stop offset=".6" stop-color="#0000a3"/><stop offset=".7" stop-color="#0000ab"/><stop offset=".776" stop-color="#0000ba"/><stop offset=".8" stop-color="#0000bc"/><stop offset=".876" stop-color="#0000d3"/><stop offset=".9" stop-color="#0000d5"/><stop offset=".976" stop-color="#0000ce"/><stop offset="1" stop-color="#0000d1"/></linearGradient>
<linearGradient id="c86"><stop offset="0" stop-color="#0000c3"/><stop offset=".2" stop-color="#0000ad"/><stop offset=".4" stop-color="#0000a8"/><stop offset=".5" stop-color="#0000a1"/><stop offset=".565" stop-color="#0000a3"/><stop offset=".6" stop-color="#0000a1"/><stop offset=".665" stop-color="#0000a8"/><stop offset=".7" stop-color="#0000a8"/><stop offset=".765" stop-color="#0000b5"/><stop offset=".8" stop-color="#0000b7"/><stop offset=".865" stop-color="#0000cb"/><stop offset=".9" stop-color="#0000ce"/><stop offset=".965" stop-color="#0000c8"/><stop offset="1" stop-color="#0000cd"/></linearGradient>
<linearGradient id="c87"><stop offset="0" stop-color="#0000c2"/><stop offset=".2" stop-color="#0000ab"/><stop offset=".4" stop-color="#0000a6"/><stop offset=".5" stop-color="#0000a0"/><stop offset=".6" stop-color="#00009f"/><stop offset=".654" stop-color="#0000a4"/><stop offset=".7" stop-color="#0000a4"/><stop offset=".754" stop-color="#0000af"/><stop offset=".8" stop-color="#0000b2"/><stop offset=".854" stop-color="#0000c2"/><stop offset=".9" stop-color="#0000c7"/><stop offset=".954" stop-color="#0000c2"/><stop offset="1" stop-color="#0000c9"/></linearGradient>
<linearGradient id="c88"><stop offset="0" stop-color="#0000c1"/><stop offset=".2" stop-color="#0000aa"/><stop offset=".4" stop-color="#0000a5"/><stop offset=".5" stop-color="#00009e"/><stop offset=".543" stop-color="#0000a0"/><stop offset=".6" stop-color="#00009d"/><stop offset=".643" stop-color="#0000a1"/><stop offset=".7" stop-color="#0000a1"/><stop offset=".743" stop-color="#0000aa"/><stop offset=".8" stop-color="#0000ad"/><stop offset=".843" stop-color="#0000ba"/><stop offset=".9" stop-color="#0000c0"/><stop offset=".943" stop-color="#0000bb"/><stop offset="1" stop-color="#0000c4"/></linearGradient>
<linearGradient id="c89"><stop offset="0" stop-color="#0000c0"/><stop offset=".2" stop-color="#0000a8"/><stop offset=".6" stop-color="#00009b"/><stop offset=".632" stop-color="#00009e"/><stop offset=".7" stop-color="#00009e"/><stop offset=".732" stop-color="#0000a4"/><stop offset=".8" stop-color="#0000a8"/><stop offset=".832" stop-color="#0000b2"/><stop offset=".9" stop-color="#0000b9"/><stop offset=".932" stop-color="#0000b5"/><stop offset="1" stop-color="#0000c0"/></linearGradient>
<linearGradient id="c90"><stop offset="0" stop-color="#0000bf"/><stop offset=".222" stop-color="#0000a5"/><stop offset=".6" stop-color="#000098"/><stop offset=".622" stop-color="#00009b"/><stop offset=".7" stop-color="#00009b"/><stop offset=".722" stop-color="#00009f"/><stop offset=".8" stop-color="#0000a3"/><stop offset=".822" stop-color="#0000aa"/><stop offset=".9" stop-color="#0000b2"/><stop offset=".922" stop-color="#0000af"/><stop offset="1" stop-color="#0000bb"/></linearGradient>
<linearGradient id="c91"><stop offset="0" stop-color="#0000be"/><stop offset=".111" stop-color="#0000ae"/><stop offset=".211" stop-color="#0000a4"/><stop offset=".611" stop-color="#000097"/><stop offset=".8" stop-color="#00009e"/><stop offset=".9" stop-color="#0000aa"/><stop offset=".911" stop-color="#0000a9"/><stop offset="1" stop-color="#0000b7"/></linearGradient>
<linearGradient id="c92"><stop offset="0" stop-color="#0000bd"/><stop offset=".1" stop-color="#0000ad"/><stop offset=".2" stop-color="#0000a3"/><stop offset=".3" stop-color="#00009e"/><stop offset=".4" stop-color="#00009e"/><stop offset=".6" stop-color="#000094"/><stop offset=".7" stop-color="#000094"/><stop offset=".8" stop-color="#000099"/><stop offset=".9" stop-color="#0000a3"/><stop offset="1" stop-color="#0000b3"/></linearGradient>
<linearGradient id="c93"><stop offset="0" stop-color="#0000bb"/><stop offset=".2" stop-color="#0000a2"/><stop offset=".6" stop-color="#000094"/><stop offset=".7" stop-color="#000094"/><stop offset=".8" stop-color="#000099"/><stop offset=".9" stop-color="#0000a3"/><stop offset="1" stop-color="#0000b2"/></linearGradient>
<linearGradient id="c94"><stop offset="0" stop-color="#0000ba"/><stop offset=".2" stop-color="#0000a2"/><stop offset=".469" stop-color="#00009b"/><stop offset=".6" stop-color="#000094"/><stop offset=".8" stop-color="#000099"/><stop offset=".9" stop-color="#0000a3"/><stop offset="1" stop-color="#0000b1"/></linearGradient>
<linearGradient id="c95"><stop offset="0" stop-color="#0000b8"/><stop offset=".2" stop-color="#0000a1"/><stop offset=".454" stop-color="#00009b"/><stop offset=".554" stop-color="#000094"/><stop offset=".7" stop-color="#000094"/><stop offset=".9" stop-color="#0000a3"/><stop offset="1" stop-color="#0000b0"/></linearGradient>
<linearGradient id="c96"><stop offset="0" stop-color="#0000b6"/><stop offset=".238" stop-color="#00009e"/><stop offset=".438" stop-color="#00009c"/><stop offset=".538" stop-color="#000094"/><stop offset=".8" stop-color="#000099"/><stop offset="1" stop-color="#0000af"/></linearGradient>
<linearGradient id="c97"><stop offset="0" stop-color="#0000b5"/><stop offset=".223" stop-color="#00009e"/><stop offset=".423" stop-color="#00009d"/><stop offset=".523" stop-color="#000094"/><stop offset=".723" stop-color="#000095"/><stop offset="1" stop-color="#0000af"/></linearGradient>
<linearGradient id="c98"><stop offset="0" stop-color="#0000b3"/><stop offset=".208" stop-color="#00009e"/><stop offset=".408" stop-color="#00009e"/><stop offset=".508" stop-color="#000094"/><stop offset=".708" stop-color="#000094"/><stop offset="1" stop-color="#0000ae"/></linearGradient>
<linearGradient id="c99"><stop offset="0" stop-color="#0000b2"/><stop offset=".2" stop-color="#00009e"/><stop offset=".4" stop-color="#00009e"/><stop offset=".5" stop-color="#000094"/><stop offset=".7" stop-color="#000094"/><stop offset=".8" stop-color="#000099"/><stop offset="1" stop-color="#0000ad"/></linearGradient>
<linearGradient id="c100"><stop offset="0" stop-color="#0000b2"/><stop offset=".2" stop-color="#00009e"/><stop offset=".4" stop-color="#00009e"/><stop offset=".5" stop-color="#000094"/><stop offset=".7" stop-color="#000094"/><stop offset=".8" stop-color="#000099"/><stop offset="1" stop-color="#0000ad"/></linearGradient>
<linearGradient id="c101"><stop offset="0" stop-color="#0000b2"/><stop offset=".2" stop-color="#00009e"/><stop offset=".4" stop-color="#00009e"/><stop offset=".5" stop-color="#000094"/><stop offset=".7" stop-color="#000094"/><stop offset=".8" stop-color="#000099"/><stop offset="1" stop-color="#0000ad"/></linearGradient>
<clipPath id="cpc"><rect x="362.2" y="246.8" width="216.5" height="193.6"/></clipPath>
</defs>
<rect width="616" height="467" fill="#fff"/>
<g clip-path="url(#cpa)"><g filter="url(#vb)">
<rect x="367.3" y="-1" width="205.6" height="3" fill="url(#a0)"/>
<rect x="367.3" y="1" width="205.6" height="3" fill="url(#a1)"/>
<rect x="367.3" y="3" width="205.6" height="3" fill="url(#a2)"/>
<rect x="367.3" y="5" width="205.6" height="3" fill="url(#a3)"/>
<rect x="367.3" y="7" width="205.6" height="3" fill="url(#a4)"/>
<rect x="367.3" y="9" width="205.6" height="3" fill="url(#a5)"/>
<rect x="367.3" y="11" width="205.6" height="3" fill="url(#a6)"/>
<rect x="367.3" y="13" width="205.6" height="3" fill="url(#a7)"/>
<rect x="367.3" y="15" width="205.6" height="3" fill="url(#a8)"/>
<rect x="367.3" y="17" width="205.6" height="3" fill="url(#a9)"/>
<rect x="367.3" y="19" width="205.6" height="3" fill="url(#a10)"/>
<rect x="367.3" y="21" width="205.6" height="3" fill="url(#a11)"/>
<rect x="367.3" y="23" width="205.6" height="3" fill="url(#a12)"/>
<rect x="367.3" y="25" width="205.6" height="3" fill="url(#a13)"/>
<rect x="367.3" y="27" width="205.6" height="3" fill="url(#a14)"/>
<rect x="367.3" y="29" width="205.6" height="3" fill="url(#a15)"/>
<rect x="367.3" y="31" width="205.6" height="3" fill="url(#a16)"/>
<rect x="367.3" y="33" width="205.6" height="3" fill="url(#a17)"/>
<rect x="367.3" y="35" width="205.6" height="3" fill="url(#a18)"/>
<rect x="367.3" y="37" width="205.6" height="3" fill="url(#a19)"/>
<rect x="367.3" y="39" width="205.6" height="3" fill="url(#a20)"/>
<rect x="367.3" y="41" width="205.6" height="3" fill="url(#a21)"/>
<rect x="367.3" y="43" width="205.6" height="3" fill="url(#a22)"/>
<rect x="367.3" y="45" width="205.6" height="3" fill="url(#a23)"/>
<rect x="367.3" y="47" width="205.6" height="3" fill="url(#a24)"/>
<rect x="367.3" y="49" width="205.6" height="3" fill="url(#a25)"/>
<rect x="367.3" y="51" width="205.6" height="3" fill="url(#a26)"/>
<rect x="367.3" y="53" width="205.6" height="3" fill="url(#a27)"/>
<rect x="367.3" y="55" width="205.6" height="3" fill="url(#a28)"/>
<rect x="367.3" y="57" width="205.6" height="3" fill="url(#a29)"/>
<rect x="367.3" y="59" width="205.6" height="3" fill="url(#a30)"/>
<rect x="367.3" y="61" width="205.6" height="3" fill="url(#a31)"/>
<rect x="367.3" y="63" width="205.6" height="3" fill="url(#a32)"/>
<rect x="367.3" y="65" width="205.6" height="3" fill="url(#a33)"/>
<rect x="367.3" y="67" width="205.6" height="3" fill="url(#a34)"/>
<rect x="367.3" y="69" width="205.6" height="3" fill="url(#a35)"/>
<rect x="367.3" y="71" width="205.6" height="3" fill="url(#a36)"/>
<rect x="367.3" y="73" width="205.6" height="3" fill="url(#a37)"/>
<rect x="367.3" y="75" width="205.6" height="3" fill="url(#a38)"/>
<rect x="367.3" y="77" width="205.6" height="3" fill="url(#a39)"/>
<rect x="367.3" y="79" width="205.6" height="3" fill="url(#a40)"/>
<rect x="367.3" y="81" width="205.6" height="3" fill="url(#a41)"/>
<rect x="367.3" y="83" width="205.6" height="3" fill="url(#a42)"/>
<rect x="367.3" y="85" width="205.6" height="3" fill="url(#a43)"/>
<rect x="367.3" y="87" width="205.6" height="3" fill="url(#a44)"/>
<rect x="367.3" y="89" width="205.6" height="3" fill="url(#a45)"/>
<rect x="367.3" y="91" width="205.6" height="3" fill="url(#a46)"/>
<rect x="367.3" y="93" width="205.6" height="3" fill="url(#a47)"/>
<rect x="367.3" y="95" width="205.6" height="3" fill="url(#a48)"/>
<rect x="367.3" y="97" width="205.6" height="3" fill="url(#a49)"/>
<rect x="367.3" y="99" width="205.6" height="3" fill="url(#a50)"/>
<rect x="367.3" y="101" width="205.6" height="3" fill="url(#a51)"/>
<rect x="367.3" y="103" width="205.6" height="3" fill="url(#a52)"/>
<rect x="367.3" y="105" width="205.6" height="3" fill="url(#a53)"/>
<rect x="367.3" y="107" width="205.6" height="3" fill="url(#a54)"/>
<rect x="367.3" y="109" width="205.6" height="3" fill="url(#a55)"/>
<rect x="367.3" y="111" width="205.6" height="3" fill="url(#a56)"/>
<rect x="367.3" y="113" width="205.6" height="3" fill="url(#a57)"/>
<rect x="367.3" y="115" width="205.6" height="3" fill="url(#a58)"/>
<rect x="367.3" y="117" width="205.6" height="3" fill="url(#a59)"/>
<rect x="367.3" y="119" width="205.6" height="3" fill="url(#a60)"/>
<rect x="367.3" y="121" width="205.6" height="3" fill="url(#a61)"/>
<rect x="367.3" y="123" width="205.6" height="3" fill="url(#a62)"/>
<rect x="367.3" y="125" width="205.6" height="3" fill="url(#a63)"/>
<rect x="367.3" y="127" width="205.6" height="3" fill="url(#a64)"/>
<rect x="367.3" y="129" width="205.6" height="3" fill="url(#a65)"/>
<rect x="367.3" y="131" width="205.6" height="3" fill="url(#a66)"/>
<rect x="367.3" y="133" width="205.6" height="3" fill="url(#a67)"/>
<rect x="367.3" y="135" width="205.6" height="3" fill="url(#a68)"/>
<rect x="367.3" y="137" width="205.6" height="3" fill="url(#a69)"/>
<rect x="367.3" y="139" width="205.6" height="3" fill="url(#a70)"/>
<rect x="367.3" y="141" width="205.6" height="3" fill="url(#a71)"/>
<rect x="367.3" y="143" width="205.6" height="3" fill="url(#a72)"/>
<rect x="367.3" y="145" width="205.6" height="3" fill="url(#a73)"/>
<rect x="367.3" y="147" width="205.6" height="3" fill="url(#a74)"/>
<rect x="367.3" y="149" width="205.6" height="3" fill="url(#a75)"/>
<rect x="367.3" y="151" width="205.6" height="3" fill="url(#a76)"/>
<rect x="367.3" y="153" width="205.6" height="3" fill="url(#a77)"/>
<rect x="367.3" y="155" width="205.6" height="3" fill="url(#a78)"/>
<rect x="367.3" y="157" width="205.6" height="3" fill="url(#a79)"/>
<rect x="367.3" y="159" width="205.6" height="3" fill="url(#a80)"/>
<rect x="367.3" y="161" width="205.6" height="3" fill="url(#a81)"/>
<rect x="367.3" y="163" width="205.6" height="3" fill="url(#a82)"/>
<rect x="367.3" y="165" width="205.6" height="3" fill="url(#a83)"/>
<rect x="367.3" y="167" width="205.6" height="3" fill="url(#a84)"/>
<rect x="367.3" y="169" width="205.6" height="3" fill="url(#a85)"/>
<rect x="367.3" y="171" width="205.6" height="3" fill="url(#a86)"/>
<rect x="367.3" y="173" width="205.6" height="3" fill="url(#a87)"/>
<rect x="367.3" y="175" width="205.6" height="3" fill="url(#a88)"/>
<rect x="367.3" y="177" width="205.6" height="3" fill="url(#a89)"/>
<rect x="367.3" y="179" width="205.6" height="3" fill="url(#a90)"/>
<rect x="367.3" y="181" width="205.6" height="3" fill="url(#a91)"/>
<rect x="367.3" y="183" width="205.6" height="3" fill="url(#a92)"/>
<rect x="367.3" y="185" width="205.6" height="3" fill="url(#a93)"/>
<rect x="367.3" y="187" width="205.6" height="3" fill="url(#a94)"/>
<rect x="367.3" y="189" width="205.6" height="2" fill="url(#a95)"/>
</g></g>
<text x="364.1" y="177.5" text-anchor="end" class="tk" font-size="7">200</text>
<text x="364.1" y="160" text-anchor="end" class="tk" font-size="7">400</text>
<text x="364.1" y="142.5" text-anchor="end" class="tk" font-size="7">600</text>
<text x="364.1" y="125" text-anchor="end" class="tk" font-size="7">800</text>
<text x="364.1" y="107.5" text-anchor="end" class="tk" font-size="7">1000</text>
<text x="364.1" y="90" text-anchor="end" class="tk" font-size="7">1200</text>
<text x="364.1" y="72.5" text-anchor="end" class="tk" font-size="7">1400</text>
<text x="364.1" y="55" text-anchor="end" class="tk" font-size="7">1600</text>
<text x="364.1" y="37.5" text-anchor="end" class="tk" font-size="7">1800</text>
<text x="364.1" y="20" text-anchor="end" class="tk" font-size="7">2000</text>
<text x="367.3" y="197.6" text-anchor="middle" class="tk" font-size="7">35</text>
<text x="470.1" y="197.6" text-anchor="middle" class="tk" font-size="7">40</text>
<text x="572.9" y="197.6" text-anchor="middle" class="tk" font-size="7">45</text>
<text x="470.1" y="210.4" text-anchor="middle" class="al" font-size="10">Frequency [kHz]</text>
<text transform="translate(344 95.45) rotate(-90)" text-anchor="middle" class="al" font-size="10">Bias Field [Oe]</text>
<rect x="582.9" y="4.1" width="11.2" height="183.3" fill="url(#cbg)" stroke="#3a1010" stroke-opacity="0.35" stroke-width="0.5"/>
<line x1="592.6" y1="18" x2="594.1" y2="18" stroke="#222" stroke-width="0.6"/>
<text x="597.5" y="20.5" class="tk" font-size="7">1.1</text>
<line x1="592.6" y1="34.55" x2="594.1" y2="34.55" stroke="#222" stroke-width="0.6"/>
<text x="597.5" y="37.05" class="tk" font-size="7">1</text>
<line x1="592.6" y1="51.1" x2="594.1" y2="51.1" stroke="#222" stroke-width="0.6"/>
<text x="597.5" y="53.6" class="tk" font-size="7">0.9</text>
<line x1="592.6" y1="67.65" x2="594.1" y2="67.65" stroke="#222" stroke-width="0.6"/>
<text x="597.5" y="70.15" class="tk" font-size="7">0.8</text>
<line x1="592.6" y1="84.2" x2="594.1" y2="84.2" stroke="#222" stroke-width="0.6"/>
<text x="597.5" y="86.7" class="tk" font-size="7">0.7</text>
<line x1="592.6" y1="100.75" x2="594.1" y2="100.75" stroke="#222" stroke-width="0.6"/>
<text x="597.5" y="103.25" class="tk" font-size="7">0.6</text>
<line x1="592.6" y1="117.3" x2="594.1" y2="117.3" stroke="#222" stroke-width="0.6"/>
<text x="597.5" y="119.8" class="tk" font-size="7">0.5</text>
<line x1="592.6" y1="133.85" x2="594.1" y2="133.85" stroke="#222" stroke-width="0.6"/>
<text x="597.5" y="136.35" class="tk" font-size="7">0.4</text>
<line x1="592.6" y1="150.4" x2="594.1" y2="150.4" stroke="#222" stroke-width="0.6"/>
<text x="597.5" y="152.9" class="tk" font-size="7">0.3</text>
<line x1="592.6" y1="166.95" x2="594.1" y2="166.95" stroke="#222" stroke-width="0.6"/>
<text x="597.5" y="169.45" class="tk" font-size="7">0.2</text>
<line x1="592.6" y1="183.5" x2="594.1" y2="183.5" stroke="#222" stroke-width="0.6"/>
<text x="597.5" y="186" class="tk" font-size="7">0.1</text>
<text x="597.3" y="7.9" class="un" font-size="10.2">µW</text>
<text transform="translate(384.6 23) scale(1 1)" class="la">A</text>
<text x="316.2" y="24.2" class="pl">(b)</text>
<g clip-path="url(#cpb)"><g filter="url(#vb)">
<rect x="39.5" y="242" width="216.4" height="3" fill="url(#b0)"/>
<rect x="39.5" y="244" width="216.4" height="3" fill="url(#b1)"/>
<rect x="39.5" y="246" width="216.4" height="3" fill="url(#b2)"/>
<rect x="39.5" y="248" width="216.4" height="3" fill="url(#b3)"/>
<rect x="39.5" y="250" width="216.4" height="3" fill="url(#b4)"/>
<rect x="39.5" y="252" width="216.4" height="3" fill="url(#b5)"/>
<rect x="39.5" y="254" width="216.4" height="3" fill="url(#b6)"/>
<rect x="39.5" y="256" width="216.4" height="3" fill="url(#b7)"/>
<rect x="39.5" y="258" width="216.4" height="3" fill="url(#b8)"/>
<rect x="39.5" y="260" width="216.4" height="3" fill="url(#b9)"/>
<rect x="39.5" y="262" width="216.4" height="3" fill="url(#b10)"/>
<rect x="39.5" y="264" width="216.4" height="3" fill="url(#b11)"/>
<rect x="39.5" y="266" width="216.4" height="3" fill="url(#b12)"/>
<rect x="39.5" y="268" width="216.4" height="3" fill="url(#b13)"/>
<rect x="39.5" y="270" width="216.4" height="3" fill="url(#b14)"/>
<rect x="39.5" y="272" width="216.4" height="3" fill="url(#b15)"/>
<rect x="39.5" y="274" width="216.4" height="3" fill="url(#b16)"/>
<rect x="39.5" y="276" width="216.4" height="3" fill="url(#b17)"/>
<rect x="39.5" y="278" width="216.4" height="3" fill="url(#b18)"/>
<rect x="39.5" y="280" width="216.4" height="3" fill="url(#b19)"/>
<rect x="39.5" y="282" width="216.4" height="3" fill="url(#b20)"/>
<rect x="39.5" y="284" width="216.4" height="3" fill="url(#b21)"/>
<rect x="39.5" y="286" width="216.4" height="3" fill="url(#b22)"/>
<rect x="39.5" y="288" width="216.4" height="3" fill="url(#b23)"/>
<rect x="39.5" y="290" width="216.4" height="3" fill="url(#b24)"/>
<rect x="39.5" y="292" width="216.4" height="3" fill="url(#b25)"/>
<rect x="39.5" y="294" width="216.4" height="3" fill="url(#b26)"/>
<rect x="39.5" y="296" width="216.4" height="3" fill="url(#b27)"/>
<rect x="39.5" y="298" width="216.4" height="3" fill="url(#b28)"/>
<rect x="39.5" y="300" width="216.4" height="3" fill="url(#b29)"/>
<rect x="39.5" y="302" width="216.4" height="3" fill="url(#b30)"/>
<rect x="39.5" y="304" width="216.4" height="3" fill="url(#b31)"/>
<rect x="39.5" y="306" width="216.4" height="3" fill="url(#b32)"/>
<rect x="39.5" y="308" width="216.4" height="3" fill="url(#b33)"/>
<rect x="39.5" y="310" width="216.4" height="3" fill="url(#b34)"/>
<rect x="39.5" y="312" width="216.4" height="3" fill="url(#b35)"/>
<rect x="39.5" y="314" width="216.4" height="3" fill="url(#b36)"/>
<rect x="39.5" y="316" width="216.4" height="3" fill="url(#b37)"/>
<rect x="39.5" y="318" width="216.4" height="3" fill="url(#b38)"/>
<rect x="39.5" y="320" width="216.4" height="3" fill="url(#b39)"/>
<rect x="39.5" y="322" width="216.4" height="3" fill="url(#b40)"/>
<rect x="39.5" y="324" width="216.4" height="3" fill="url(#b41)"/>
<rect x="39.5" y="326" width="216.4" height="3" fill="url(#b42)"/>
<rect x="39.5" y="328" width="216.4" height="3" fill="url(#b43)"/>
<rect x="39.5" y="330" width="216.4" height="3" fill="url(#b44)"/>
<rect x="39.5" y="332" width="216.4" height="3" fill="url(#b45)"/>
<rect x="39.5" y="334" width="216.4" height="3" fill="url(#b46)"/>
<rect x="39.5" y="336" width="216.4" height="3" fill="url(#b47)"/>
<rect x="39.5" y="338" width="216.4" height="3" fill="url(#b48)"/>
<rect x="39.5" y="340" width="216.4" height="3" fill="url(#b49)"/>
<rect x="39.5" y="342" width="216.4" height="3" fill="url(#b50)"/>
<rect x="39.5" y="344" width="216.4" height="3" fill="url(#b51)"/>
<rect x="39.5" y="346" width="216.4" height="3" fill="url(#b52)"/>
<rect x="39.5" y="348" width="216.4" height="3" fill="url(#b53)"/>
<rect x="39.5" y="350" width="216.4" height="3" fill="url(#b54)"/>
<rect x="39.5" y="352" width="216.4" height="3" fill="url(#b55)"/>
<rect x="39.5" y="354" width="216.4" height="3" fill="url(#b56)"/>
<rect x="39.5" y="356" width="216.4" height="3" fill="url(#b57)"/>
<rect x="39.5" y="358" width="216.4" height="3" fill="url(#b58)"/>
<rect x="39.5" y="360" width="216.4" height="3" fill="url(#b59)"/>
<rect x="39.5" y="362" width="216.4" height="3" fill="url(#b60)"/>
<rect x="39.5" y="364" width="216.4" height="3" fill="url(#b61)"/>
<rect x="39.5" y="366" width="216.4" height="3" fill="url(#b62)"/>
<rect x="39.5" y="368" width="216.4" height="3" fill="url(#b63)"/>
<rect x="39.5" y="370" width="216.4" height="3" fill="url(#b64)"/>
<rect x="39.5" y="372" width="216.4" height="3" fill="url(#b65)"/>
<rect x="39.5" y="374" width="216.4" height="3" fill="url(#b66)"/>
<rect x="39.5" y="376" width="216.4" height="3" fill="url(#b67)"/>
<rect x="39.5" y="378" width="216.4" height="3" fill="url(#b68)"/>
<rect x="39.5" y="380" width="216.4" height="3" fill="url(#b69)"/>
<rect x="39.5" y="382" width="216.4" height="3" fill="url(#b70)"/>
<rect x="39.5" y="384" width="216.4" height="3" fill="url(#b71)"/>
<rect x="39.5" y="386" width="216.4" height="3" fill="url(#b72)"/>
<rect x="39.5" y="388" width="216.4" height="3" fill="url(#b73)"/>
<rect x="39.5" y="390" width="216.4" height="3" fill="url(#b74)"/>
<rect x="39.5" y="392" width="216.4" height="3" fill="url(#b75)"/>
<rect x="39.5" y="394" width="216.4" height="3" fill="url(#b76)"/>
<rect x="39.5" y="396" width="216.4" height="3" fill="url(#b77)"/>
<rect x="39.5" y="398" width="216.4" height="3" fill="url(#b78)"/>
<rect x="39.5" y="400" width="216.4" height="3" fill="url(#b79)"/>
<rect x="39.5" y="402" width="216.4" height="3" fill="url(#b80)"/>
<rect x="39.5" y="404" width="216.4" height="3" fill="url(#b81)"/>
<rect x="39.5" y="406" width="216.4" height="3" fill="url(#b82)"/>
<rect x="39.5" y="408" width="216.4" height="3" fill="url(#b83)"/>
<rect x="39.5" y="410" width="216.4" height="3" fill="url(#b84)"/>
<rect x="39.5" y="412" width="216.4" height="3" fill="url(#b85)"/>
<rect x="39.5" y="414" width="216.4" height="3" fill="url(#b86)"/>
<rect x="39.5" y="416" width="216.4" height="3" fill="url(#b87)"/>
<rect x="39.5" y="418" width="216.4" height="3" fill="url(#b88)"/>
<rect x="39.5" y="420" width="216.4" height="3" fill="url(#b89)"/>
<rect x="39.5" y="422" width="216.4" height="3" fill="url(#b90)"/>
<rect x="39.5" y="424" width="216.4" height="3" fill="url(#b91)"/>
<rect x="39.5" y="426" width="216.4" height="3" fill="url(#b92)"/>
<rect x="39.5" y="428" width="216.4" height="3" fill="url(#b93)"/>
<rect x="39.5" y="430" width="216.4" height="3" fill="url(#b94)"/>
<rect x="39.5" y="432" width="216.4" height="3" fill="url(#b95)"/>
<rect x="39.5" y="434" width="216.4" height="3" fill="url(#b96)"/>
<rect x="39.5" y="436" width="216.4" height="3" fill="url(#b97)"/>
<rect x="39.5" y="438" width="216.4" height="3" fill="url(#b98)"/>
<rect x="39.5" y="440" width="216.4" height="3" fill="url(#b99)"/>
<rect x="39.5" y="442" width="216.4" height="3" fill="url(#b100)"/>
<rect x="39.5" y="444" width="216.4" height="1" fill="url(#b101)"/>
</g></g>
<text x="35.8" y="429.52" text-anchor="end" class="tk" font-size="7.35">200</text>
<text x="35.8" y="410.99" text-anchor="end" class="tk" font-size="7.35">400</text>
<text x="35.8" y="392.46" text-anchor="end" class="tk" font-size="7.35">600</text>
<text x="35.8" y="373.93" text-anchor="end" class="tk" font-size="7.35">800</text>
<text x="35.8" y="355.4" text-anchor="end" class="tk" font-size="7.35">1000</text>
<text x="35.8" y="336.87" text-anchor="end" class="tk" font-size="7.35">1200</text>
<text x="35.8" y="318.34" text-anchor="end" class="tk" font-size="7.35">1400</text>
<text x="35.8" y="299.81" text-anchor="end" class="tk" font-size="7.35">1600</text>
<text x="35.8" y="281.28" text-anchor="end" class="tk" font-size="7.35">1800</text>
<text x="35.8" y="262.75" text-anchor="end" class="tk" font-size="7.35">2000</text>
<text x="39.5" y="451.2" text-anchor="middle" class="tk" font-size="7.35">35</text>
<text x="147.7" y="451.2" text-anchor="middle" class="tk" font-size="7.35">40</text>
<text x="255.9" y="451.2" text-anchor="middle" class="tk" font-size="7.35">45</text>
<text x="147.7" y="464.4" text-anchor="middle" class="al" font-size="10.5">Frequency [kHz]</text>
<text transform="translate(14 343.6) rotate(-90)" text-anchor="middle" class="al" font-size="10.5">Bias Field [Oe]</text>
<rect x="267" y="247" width="11.5" height="193.8" fill="url(#cbg)" stroke="#3a1010" stroke-opacity="0.35" stroke-width="0.5"/>
<line x1="277" y1="259.75" x2="278.5" y2="259.75" stroke="#222" stroke-width="0.6"/>
<text x="281.9" y="262.25" class="tk" font-size="7.35">1.1</text>
<line x1="277" y1="276.2" x2="278.5" y2="276.2" stroke="#222" stroke-width="0.6"/>
<text x="281.9" y="278.7" class="tk" font-size="7.35">1</text>
<line x1="277" y1="292.65" x2="278.5" y2="292.65" stroke="#222" stroke-width="0.6"/>
<text x="281.9" y="295.15" class="tk" font-size="7.35">0.9</text>
<line x1="277" y1="309.1" x2="278.5" y2="309.1" stroke="#222" stroke-width="0.6"/>
<text x="281.9" y="311.6" class="tk" font-size="7.35">0.8</text>
<line x1="277" y1="325.55" x2="278.5" y2="325.55" stroke="#222" stroke-width="0.6"/>
<text x="281.9" y="328.05" class="tk" font-size="7.35">0.7</text>
<line x1="277" y1="342" x2="278.5" y2="342" stroke="#222" stroke-width="0.6"/>
<text x="281.9" y="344.5" class="tk" font-size="7.35">0.6</text>
<line x1="277" y1="358.45" x2="278.5" y2="358.45" stroke="#222" stroke-width="0.6"/>
<text x="281.9" y="360.95" class="tk" font-size="7.35">0.5</text>
<line x1="277" y1="374.9" x2="278.5" y2="374.9" stroke="#222" stroke-width="0.6"/>
<text x="281.9" y="377.4" class="tk" font-size="7.35">0.4</text>
<line x1="277" y1="391.35" x2="278.5" y2="391.35" stroke="#222" stroke-width="0.6"/>
<text x="281.9" y="393.85" class="tk" font-size="7.35">0.3</text>
<line x1="277" y1="407.8" x2="278.5" y2="407.8" stroke="#222" stroke-width="0.6"/>
<text x="281.9" y="410.3" class="tk" font-size="7.35">0.2</text>
<line x1="277" y1="424.25" x2="278.5" y2="424.25" stroke="#222" stroke-width="0.6"/>
<text x="281.9" y="426.75" class="tk" font-size="7.35">0.1</text>
<text x="267" y="242.2" class="un" font-size="10.8">µW</text>
<text transform="translate(56 266.2) scale(0.92 1)" class="lb">B</text>
<text x="0.5" y="240.9" class="pl">(c)</text>
<g clip-path="url(#cpc)"><g filter="url(#vb)">
<rect x="362.2" y="242" width="216.5" height="3" fill="url(#c0)"/>
<rect x="362.2" y="244" width="216.5" height="3" fill="url(#c1)"/>
<rect x="362.2" y="246" width="216.5" height="3" fill="url(#c2)"/>
<rect x="362.2" y="248" width="216.5" height="3" fill="url(#c3)"/>
<rect x="362.2" y="250" width="216.5" height="3" fill="url(#c4)"/>
<rect x="362.2" y="252" width="216.5" height="3" fill="url(#c5)"/>
<rect x="362.2" y="254" width="216.5" height="3" fill="url(#c6)"/>
<rect x="362.2" y="256" width="216.5" height="3" fill="url(#c7)"/>
<rect x="362.2" y="258" width="216.5" height="3" fill="url(#c8)"/>
<rect x="362.2" y="260" width="216.5" height="3" fill="url(#c9)"/>
<rect x="362.2" y="262" width="216.5" height="3" fill="url(#c10)"/>
<rect x="362.2" y="264" width="216.5" height="3" fill="url(#c11)"/>
<rect x="362.2" y="266" width="216.5" height="3" fill="url(#c12)"/>
<rect x="362.2" y="268" width="216.5" height="3" fill="url(#c13)"/>
<rect x="362.2" y="270" width="216.5" height="3" fill="url(#c14)"/>
<rect x="362.2" y="272" width="216.5" height="3" fill="url(#c15)"/>
<rect x="362.2" y="274" width="216.5" height="3" fill="url(#c16)"/>
<rect x="362.2" y="276" width="216.5" height="3" fill="url(#c17)"/>
<rect x="362.2" y="278" width="216.5" height="3" fill="url(#c18)"/>
<rect x="362.2" y="280" width="216.5" height="3" fill="url(#c19)"/>
<rect x="362.2" y="282" width="216.5" height="3" fill="url(#c20)"/>
<rect x="362.2" y="284" width="216.5" height="3" fill="url(#c21)"/>
<rect x="362.2" y="286" width="216.5" height="3" fill="url(#c22)"/>
<rect x="362.2" y="288" width="216.5" height="3" fill="url(#c23)"/>
<rect x="362.2" y="290" width="216.5" height="3" fill="url(#c24)"/>
<rect x="362.2" y="292" width="216.5" height="3" fill="url(#c25)"/>
<rect x="362.2" y="294" width="216.5" height="3" fill="url(#c26)"/>
<rect x="362.2" y="296" width="216.5" height="3" fill="url(#c27)"/>
<rect x="362.2" y="298" width="216.5" height="3" fill="url(#c28)"/>
<rect x="362.2" y="300" width="216.5" height="3" fill="url(#c29)"/>
<rect x="362.2" y="302" width="216.5" height="3" fill="url(#c30)"/>
<rect x="362.2" y="304" width="216.5" height="3" fill="url(#c31)"/>
<rect x="362.2" y="306" width="216.5" height="3" fill="url(#c32)"/>
<rect x="362.2" y="308" width="216.5" height="3" fill="url(#c33)"/>
<rect x="362.2" y="310" width="216.5" height="3" fill="url(#c34)"/>
<rect x="362.2" y="312" width="216.5" height="3" fill="url(#c35)"/>
<rect x="362.2" y="314" width="216.5" height="3" fill="url(#c36)"/>
<rect x="362.2" y="316" width="216.5" height="3" fill="url(#c37)"/>
<rect x="362.2" y="318" width="216.5" height="3" fill="url(#c38)"/>
<rect x="362.2" y="320" width="216.5" height="3" fill="url(#c39)"/>
<rect x="362.2" y="322" width="216.5" height="3" fill="url(#c40)"/>
<rect x="362.2" y="324" width="216.5" height="3" fill="url(#c41)"/>
<rect x="362.2" y="326" width="216.5" height="3" fill="url(#c42)"/>
<rect x="362.2" y="328" width="216.5" height="3" fill="url(#c43)"/>
<rect x="362.2" y="330" width="216.5" height="3" fill="url(#c44)"/>
<rect x="362.2" y="332" width="216.5" height="3" fill="url(#c45)"/>
<rect x="362.2" y="334" width="216.5" height="3" fill="url(#c46)"/>
<rect x="362.2" y="336" width="216.5" height="3" fill="url(#c47)"/>
<rect x="362.2" y="338" width="216.5" height="3" fill="url(#c48)"/>
<rect x="362.2" y="340" width="216.5" height="3" fill="url(#c49)"/>
<rect x="362.2" y="342" width="216.5" height="3" fill="url(#c50)"/>
<rect x="362.2" y="344" width="216.5" height="3" fill="url(#c51)"/>
<rect x="362.2" y="346" width="216.5" height="3" fill="url(#c52)"/>
<rect x="362.2" y="348" width="216.5" height="3" fill="url(#c53)"/>
<rect x="362.2" y="350" width="216.5" height="3" fill="url(#c54)"/>
<rect x="362.2" y="352" width="216.5" height="3" fill="url(#c55)"/>
<rect x="362.2" y="354" width="216.5" height="3" fill="url(#c56)"/>
<rect x="362.2" y="356" width="216.5" height="3" fill="url(#c57)"/>
<rect x="362.2" y="358" width="216.5" height="3" fill="url(#c58)"/>
<rect x="362.2" y="360" width="216.5" height="3" fill="url(#c59)"/>
<rect x="362.2" y="362" width="216.5" height="3" fill="url(#c60)"/>
<rect x="362.2" y="364" width="216.5" height="3" fill="url(#c61)"/>
<rect x="362.2" y="366" width="216.5" height="3" fill="url(#c62)"/>
<rect x="362.2" y="368" width="216.5" height="3" fill="url(#c63)"/>
<rect x="362.2" y="370" width="216.5" height="3" fill="url(#c64)"/>
<rect x="362.2" y="372" width="216.5" height="3" fill="url(#c65)"/>
<rect x="362.2" y="374" width="216.5" height="3" fill="url(#c66)"/>
<rect x="362.2" y="376" width="216.5" height="3" fill="url(#c67)"/>
<rect x="362.2" y="378" width="216.5" height="3" fill="url(#c68)"/>
<rect x="362.2" y="380" width="216.5" height="3" fill="url(#c69)"/>
<rect x="362.2" y="382" width="216.5" height="3" fill="url(#c70)"/>
<rect x="362.2" y="384" width="216.5" height="3" fill="url(#c71)"/>
<rect x="362.2" y="386" width="216.5" height="3" fill="url(#c72)"/>
<rect x="362.2" y="388" width="216.5" height="3" fill="url(#c73)"/>
<rect x="362.2" y="390" width="216.5" height="3" fill="url(#c74)"/>
<rect x="362.2" y="392" width="216.5" height="3" fill="url(#c75)"/>
<rect x="362.2" y="394" width="216.5" height="3" fill="url(#c76)"/>
<rect x="362.2" y="396" width="216.5" height="3" fill="url(#c77)"/>
<rect x="362.2" y="398" width="216.5" height="3" fill="url(#c78)"/>
<rect x="362.2" y="400" width="216.5" height="3" fill="url(#c79)"/>
<rect x="362.2" y="402" width="216.5" height="3" fill="url(#c80)"/>
<rect x="362.2" y="404" width="216.5" height="3" fill="url(#c81)"/>
<rect x="362.2" y="406" width="216.5" height="3" fill="url(#c82)"/>
<rect x="362.2" y="408" width="216.5" height="3" fill="url(#c83)"/>
<rect x="362.2" y="410" width="216.5" height="3" fill="url(#c84)"/>
<rect x="362.2" y="412" width="216.5" height="3" fill="url(#c85)"/>
<rect x="362.2" y="414" width="216.5" height="3" fill="url(#c86)"/>
<rect x="362.2" y="416" width="216.5" height="3" fill="url(#c87)"/>
<rect x="362.2" y="418" width="216.5" height="3" fill="url(#c88)"/>
<rect x="362.2" y="420" width="216.5" height="3" fill="url(#c89)"/>
<rect x="362.2" y="422" width="216.5" height="3" fill="url(#c90)"/>
<rect x="362.2" y="424" width="216.5" height="3" fill="url(#c91)"/>
<rect x="362.2" y="426" width="216.5" height="3" fill="url(#c92)"/>
<rect x="362.2" y="428" width="216.5" height="3" fill="url(#c93)"/>
<rect x="362.2" y="430" width="216.5" height="3" fill="url(#c94)"/>
<rect x="362.2" y="432" width="216.5" height="3" fill="url(#c95)"/>
<rect x="362.2" y="434" width="216.5" height="3" fill="url(#c96)"/>
<rect x="362.2" y="436" width="216.5" height="3" fill="url(#c97)"/>
<rect x="362.2" y="438" width="216.5" height="3" fill="url(#c98)"/>
<rect x="362.2" y="440" width="216.5" height="3" fill="url(#c99)"/>
<rect x="362.2" y="442" width="216.5" height="3" fill="url(#c100)"/>
<rect x="362.2" y="444" width="216.5" height="1" fill="url(#c101)"/>
</g></g>
<text x="358.7" y="429.52" text-anchor="end" class="tk" font-size="7.35">200</text>
<text x="358.7" y="410.99" text-anchor="end" class="tk" font-size="7.35">400</text>
<text x="358.7" y="392.46" text-anchor="end" class="tk" font-size="7.35">600</text>
<text x="358.7" y="373.93" text-anchor="end" class="tk" font-size="7.35">800</text>
<text x="358.7" y="355.4" text-anchor="end" class="tk" font-size="7.35">1000</text>
<text x="358.7" y="336.87" text-anchor="end" class="tk" font-size="7.35">1200</text>
<text x="358.7" y="318.34" text-anchor="end" class="tk" font-size="7.35">1400</text>
<text x="358.7" y="299.81" text-anchor="end" class="tk" font-size="7.35">1600</text>
<text x="358.7" y="281.28" text-anchor="end" class="tk" font-size="7.35">1800</text>
<text x="358.7" y="262.75" text-anchor="end" class="tk" font-size="7.35">2000</text>
<text x="362.2" y="451.2" text-anchor="middle" class="tk" font-size="7.35">35</text>
<text x="470.45" y="451.2" text-anchor="middle" class="tk" font-size="7.35">40</text>
<text x="578.7" y="451.2" text-anchor="middle" class="tk" font-size="7.35">45</text>
<text x="470.45" y="464.4" text-anchor="middle" class="al" font-size="10.5">Frequency [kHz]</text>
<text transform="translate(337 343.6) rotate(-90)" text-anchor="middle" class="al" font-size="10.5">Bias Field [Oe]</text>
<rect x="589.5" y="247" width="11.6" height="193.8" fill="url(#cbg)" stroke="#3a1010" stroke-opacity="0.35" stroke-width="0.5"/>
<line x1="599.6" y1="265.25" x2="601.1" y2="265.25" stroke="#222" stroke-width="0.6"/>
<text x="604.5" y="267.75" class="tk" font-size="7.35">2.5</text>
<line x1="599.6" y1="301.3" x2="601.1" y2="301.3" stroke="#222" stroke-width="0.6"/>
<text x="604.5" y="303.8" class="tk" font-size="7.35">2</text>
<line x1="599.6" y1="337.3" x2="601.1" y2="337.3" stroke="#222" stroke-width="0.6"/>
<text x="604.5" y="339.8" class="tk" font-size="7.35">1.5</text>
<line x1="599.6" y1="373.3" x2="601.1" y2="373.3" stroke="#222" stroke-width="0.6"/>
<text x="604.5" y="375.8" class="tk" font-size="7.35">1</text>
<line x1="599.6" y1="409.3" x2="601.1" y2="409.3" stroke="#222" stroke-width="0.6"/>
<text x="604.5" y="411.8" class="tk" font-size="7.35">0.5</text>
<text x="589.5" y="242.2" class="un" font-size="10.8">µW</text>
<text transform="translate(376 266.8) scale(0.93 1)" class="lb">C</text>
<text x="319.2" y="240.9" class="pl">(d)</text>
<circle cx="74.5" cy="115.3" r="57" fill="#a3a3a3" stroke="#808080" stroke-width="1"/>
<circle cx="74.5" cy="115.3" r="48.3" fill="#000" stroke="#bdbdbd" stroke-width="0.8"/>
<circle cx="74.5" cy="115.3" r="34.6" fill="#fff"/>
<rect x="63" y="62.8" width="22.8" height="3" fill="#878787"/>
<rect x="63.6" y="65.6" width="21.6" height="9" fill="#050505"/>
<rect x="63.4" y="72.6" width="4.2" height="1.5" fill="#d2d2d2"/>
<rect x="82" y="72.6" width="4" height="1.5" fill="#d2d2d2"/>
<rect x="62.9" y="109.6" width="23.2" height="11.6" rx="1" fill="#9a9a9a"/>
<rect x="63.4" y="111.3" width="22.2" height="7.8" fill="#050505"/>
<rect x="16.6" y="109.2" width="22" height="11.4" rx="1" fill="#8e8e8e"/>
<rect x="16.8" y="111.2" width="21.8" height="7.4" fill="#050505"/>
<circle cx="74.8" cy="70.0" r="7.8" fill="#1d3ffa"/>
<text x="74.8" y="75.0" text-anchor="middle" class="sl">B</text>
<circle cx="74.8" cy="116.1" r="7.8" fill="#1d3ffa"/>
<text x="74.8" y="121.1" text-anchor="middle" class="sl">A</text>
<circle cx="27.5" cy="115.4" r="7.8" fill="#1d3ffa"/>
<text x="27.5" y="120.4" text-anchor="middle" class="sl">C</text>
<line x1="44" y1="190.8" x2="94" y2="190.8" stroke="#c55a11" stroke-width="2.9" stroke-linecap="round"/>
<path d="M92 185.5 L101.6 190.8 L92 196.1 Z" fill="#c55a11"/>
<text x="105" y="195.3" class="hh">H</text>
<rect x="188.6" y="63" width="27.6" height="51.5" fill="#d9d9d9"/>
<text x="203" y="96" text-anchor="middle" class="rx" fill="#111">Rx</text>
<path d="M143.5 129.2 A142 142 0 0 1 259.5 129.2 L259.5 148.6 L143.5 148.6 Z" fill="#e6e6e6"/>
<path d="M143.5 129.2 L157.3 129.2 L157.3 148.6 L143.5 148.6 Z" fill="#c8c8c8"/>
<path d="M247.1 129.2 L259.5 129.2 L259.5 148.6 L247.1 148.6 Z" fill="#c8c8c8"/>
<path d="M157.3 129.6 A44.9 8.3 0 0 1 247.1 129.6 L247.1 148.6 L157.3 148.6 Z" fill="#3d3d3d"/>
<path d="M170.6 128.8 A31.35 5.2 0 0 1 233.3 128.8 L233.3 148.6 L170.6 148.6 Z" fill="#141414"/>
<path d="M170.6 149 A31.35 5.2 0 0 1 233.3 149 L233.3 150 L170.6 150 Z" fill="#fff"/>
<text x="203" y="139.4" text-anchor="middle" class="rx" fill="#fff">Tx</text>
<g stroke="#f53838" stroke-width="1" fill="none"><line x1="228" y1="114.1" x2="265.4" y2="114.1"/><line x1="259" y1="129.7" x2="266.3" y2="129.7"/><line x1="263.8" y1="116" x2="263.8" y2="128" stroke="#f01818" stroke-width="1.5"/></g>
<path d="M263.8 114.4 L266 120.2 L261.6 120.2 Z M263.8 129.4 L266 123.6 L261.6 123.6 Z" fill="#f01818"/>
<text x="269.2" y="126.3" class="mm">1mm</text>
<text x="4.6" y="23.1" class="pl">(a)</text>
</svg>
</body></html>
